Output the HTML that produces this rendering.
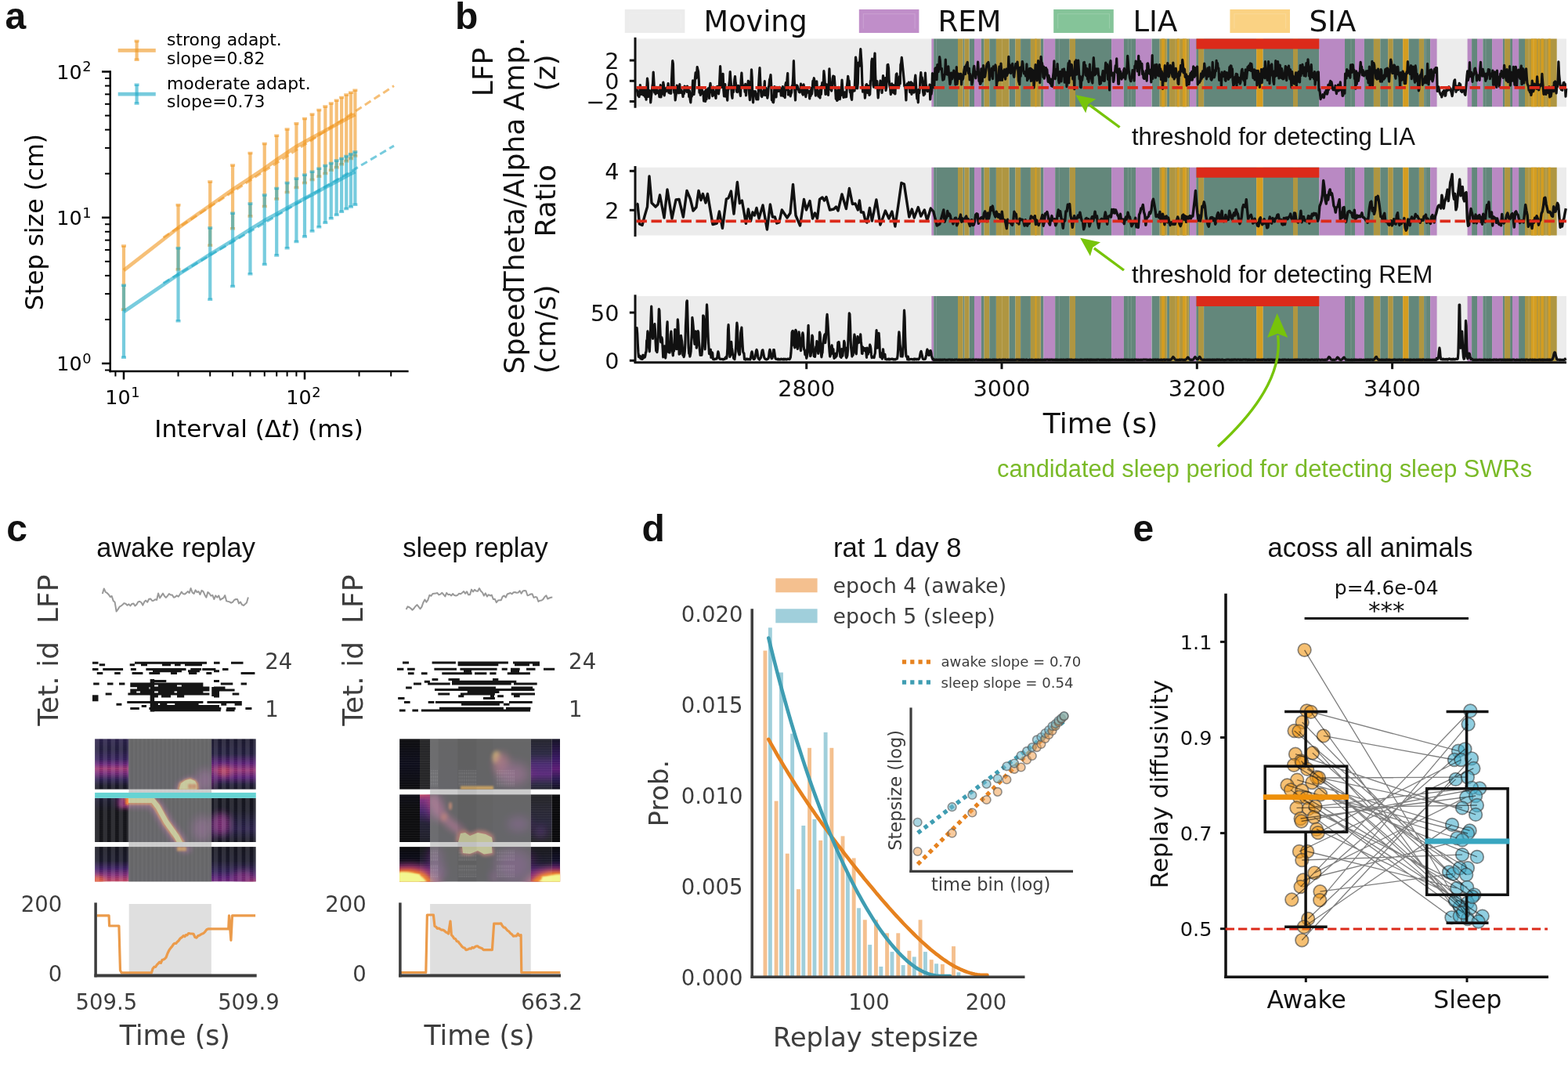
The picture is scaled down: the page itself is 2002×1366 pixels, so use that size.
<!DOCTYPE html>
<html><head><meta charset="utf-8"><title>Figure</title>
<style>html,body{margin:0;padding:0;background:#fff;}svg{display:block;}</style>
</head><body>
<svg width="2002" height="1366" viewBox="0 0 2002 1366"><defs><clipPath id="cp1"><rect x="121.1" y="943.2" width="205.70000000000002" height="64.59999999999991"/><rect x="121.1" y="1018.9" width="205.70000000000002" height="56.10000000000002"/><rect x="121.1" y="1081.1" width="205.70000000000002" height="44.5"/></clipPath><linearGradient id="vg2" x1="0" y1="0" x2="0" y2="1"><stop offset="0.000" stop-color="rgb(22,11,57)"/><stop offset="0.200" stop-color="rgb(15,9,45)"/><stop offset="0.400" stop-color="rgb(34,11,76)"/><stop offset="0.500" stop-color="rgb(90,17,109)"/><stop offset="0.590" stop-color="rgb(147,37,103)"/><stop offset="0.680" stop-color="rgb(106,23,110)"/><stop offset="0.800" stop-color="rgb(29,12,69)"/><stop offset="0.920" stop-color="rgb(4,3,22)"/><stop offset="1.000" stop-color="rgb(1,1,11)"/></linearGradient><linearGradient id="vg3" x1="0" y1="0" x2="0" y2="1"><stop offset="0.000" stop-color="rgb(9,6,33)"/><stop offset="0.100" stop-color="rgb(4,3,22)"/><stop offset="0.300" stop-color="rgb(0,0,6)"/><stop offset="1.000" stop-color="rgb(0,0,6)"/></linearGradient><linearGradient id="vg4" x1="0" y1="0" x2="0" y2="1"><stop offset="0.000" stop-color="rgb(1,1,11)"/><stop offset="0.400" stop-color="rgb(4,3,22)"/><stop offset="0.620" stop-color="rgb(43,10,86)"/><stop offset="0.800" stop-color="rgb(118,27,109)"/><stop offset="0.920" stop-color="rgb(167,45,95)"/><stop offset="1.000" stop-color="rgb(187,55,84)"/></linearGradient><linearGradient id="vg5" x1="0" y1="0" x2="0" y2="1"><stop offset="0.000" stop-color="rgb(0,0,3)"/><stop offset="1.000" stop-color="rgb(1,1,11)"/></linearGradient><linearGradient id="vg6" x1="0" y1="0" x2="0" y2="1"><stop offset="0.000" stop-color="rgb(0,0,3)"/><stop offset="1.000" stop-color="rgb(1,1,11)"/></linearGradient><linearGradient id="vg7" x1="0" y1="0" x2="0" y2="1"><stop offset="0.000" stop-color="rgb(0,0,3)"/><stop offset="1.000" stop-color="rgb(1,1,11)"/></linearGradient><linearGradient id="vg8" x1="0" y1="0" x2="0" y2="1"><stop offset="0.000" stop-color="rgb(6,4,27)"/><stop offset="0.300" stop-color="rgb(15,9,45)"/><stop offset="0.480" stop-color="rgb(74,11,106)"/><stop offset="0.620" stop-color="rgb(139,34,105)"/><stop offset="0.760" stop-color="rgb(74,11,106)"/><stop offset="0.900" stop-color="rgb(11,7,38)"/><stop offset="1.000" stop-color="rgb(2,2,16)"/></linearGradient><linearGradient id="vg9" x1="0" y1="0" x2="0" y2="1"><stop offset="0.000" stop-color="rgb(1,1,11)"/><stop offset="0.300" stop-color="rgb(2,2,16)"/><stop offset="0.550" stop-color="rgb(15,9,45)"/><stop offset="0.700" stop-color="rgb(22,11,57)"/><stop offset="0.850" stop-color="rgb(9,6,33)"/><stop offset="1.000" stop-color="rgb(1,1,11)"/></linearGradient><linearGradient id="vg10" x1="0" y1="0" x2="0" y2="1"><stop offset="0.000" stop-color="rgb(1,1,11)"/><stop offset="0.400" stop-color="rgb(4,3,22)"/><stop offset="0.700" stop-color="rgb(29,12,69)"/><stop offset="0.880" stop-color="rgb(74,11,106)"/><stop offset="1.000" stop-color="rgb(98,20,110)"/></linearGradient><filter id="bl11" x="-50%" y="-50%" width="200%" height="200%"><feGaussianBlur stdDeviation="3"/></filter><filter id="bl12" x="-50%" y="-50%" width="200%" height="200%"><feGaussianBlur stdDeviation="4"/></filter><filter id="bl13" x="-50%" y="-50%" width="200%" height="200%"><feGaussianBlur stdDeviation="3"/></filter><filter id="bl14" x="-50%" y="-50%" width="200%" height="200%"><feGaussianBlur stdDeviation="5"/></filter><filter id="bl15" x="-50%" y="-50%" width="200%" height="200%"><feGaussianBlur stdDeviation="5"/></filter><filter id="bl16" x="-50%" y="-50%" width="200%" height="200%"><feGaussianBlur stdDeviation="1.5"/></filter><filter id="bl17" x="-50%" y="-50%" width="200%" height="200%"><feGaussianBlur stdDeviation="0.8"/></filter><filter id="bl18" x="-50%" y="-50%" width="200%" height="200%"><feGaussianBlur stdDeviation="2"/></filter><filter id="bl19" x="-50%" y="-50%" width="200%" height="200%"><feGaussianBlur stdDeviation="6"/></filter><filter id="bl20" x="-50%" y="-50%" width="200%" height="200%"><feGaussianBlur stdDeviation="6"/></filter><filter id="bl21" x="-50%" y="-50%" width="200%" height="200%"><feGaussianBlur stdDeviation="3"/></filter><filter id="bl22" x="-50%" y="-50%" width="200%" height="200%"><feGaussianBlur stdDeviation="3"/></filter><filter id="bl23" x="-50%" y="-50%" width="200%" height="200%"><feGaussianBlur stdDeviation="0.8"/></filter><filter id="bl24" x="-50%" y="-50%" width="200%" height="200%"><feGaussianBlur stdDeviation="3"/></filter><filter id="bl25" x="-50%" y="-50%" width="200%" height="200%"><feGaussianBlur stdDeviation="1.0"/></filter><filter id="bl26" x="-50%" y="-50%" width="200%" height="200%"><feGaussianBlur stdDeviation="1"/></filter><filter id="bl27" x="-50%" y="-50%" width="200%" height="200%"><feGaussianBlur stdDeviation="0.8"/></filter><pattern id="pt28" x="121.39999999999999" y="0" width="10.1" height="2.6" patternUnits="userSpaceOnUse"><rect x="0" y="0" width="5.4" height="2.6" fill="rgba(255,255,255,0.11)"/><rect x="5.4" y="1.9" width="4.7" height="0.7" fill="rgba(0,0,0,0.16)"/></pattern><pattern id="ph29" x="0" y="0.5" width="10" height="3.1" patternUnits="userSpaceOnUse"><rect x="0" y="2.2" width="10" height="0.9" fill="rgba(255,255,255,0.05)"/></pattern><pattern id="vs30" x="164.4" y="0" width="5.3" height="10" patternUnits="userSpaceOnUse"><rect x="0" y="0" width="2.6" height="10" fill="rgba(255,255,255,0.035)"/></pattern><clipPath id="cp31"><rect x="510.1" y="943.2" width="205.0" height="64.59999999999991"/><rect x="510.1" y="1014.2" width="205.0" height="60.799999999999955"/><rect x="510.1" y="1081.1" width="205.0" height="44.5"/></clipPath><linearGradient id="vg32" x1="0" y1="0" x2="0" y2="1"><stop offset="0.000" stop-color="rgb(0,0,3)"/><stop offset="0.500" stop-color="rgb(2,2,16)"/><stop offset="1.000" stop-color="rgb(0,0,3)"/></linearGradient><linearGradient id="vg33" x1="0" y1="0" x2="0" y2="1"><stop offset="0.000" stop-color="rgb(0,0,3)"/><stop offset="1.000" stop-color="rgb(0,0,3)"/></linearGradient><linearGradient id="vg34" x1="0" y1="0" x2="0" y2="1"><stop offset="0.000" stop-color="rgb(1,1,11)"/><stop offset="0.300" stop-color="rgb(0,0,3)"/><stop offset="1.000" stop-color="rgb(0,0,3)"/></linearGradient><linearGradient id="vg35" x1="0" y1="0" x2="0" y2="1"><stop offset="0.000" stop-color="rgb(187,55,84)"/><stop offset="0.120" stop-color="rgb(106,23,110)"/><stop offset="0.350" stop-color="rgb(43,10,86)"/><stop offset="0.600" stop-color="rgb(6,4,27)"/><stop offset="1.000" stop-color="rgb(1,1,11)"/></linearGradient><linearGradient id="vg36" x1="0" y1="0" x2="0" y2="1"><stop offset="0.000" stop-color="rgb(0,0,3)"/><stop offset="0.400" stop-color="rgb(2,2,16)"/><stop offset="0.550" stop-color="rgb(22,11,57)"/><stop offset="0.700" stop-color="rgb(87,15,109)"/><stop offset="1.000" stop-color="rgb(126,30,108)"/></linearGradient><linearGradient id="vg37" x1="0" y1="0" x2="0" y2="1"><stop offset="0.000" stop-color="rgb(0,0,3)"/><stop offset="0.400" stop-color="rgb(4,3,22)"/><stop offset="0.600" stop-color="rgb(29,12,69)"/><stop offset="0.800" stop-color="rgb(87,15,109)"/><stop offset="1.000" stop-color="rgb(126,30,108)"/></linearGradient><linearGradient id="vg38" x1="0" y1="0" x2="0" y2="1"><stop offset="0.000" stop-color="rgb(0,0,3)"/><stop offset="1.000" stop-color="rgb(1,1,11)"/></linearGradient><linearGradient id="vg39" x1="0" y1="0" x2="0" y2="1"><stop offset="0.000" stop-color="rgb(0,0,3)"/><stop offset="1.000" stop-color="rgb(1,1,11)"/></linearGradient><linearGradient id="vg40" x1="0" y1="0" x2="0" y2="1"><stop offset="0.000" stop-color="rgb(0,0,3)"/><stop offset="1.000" stop-color="rgb(1,1,11)"/></linearGradient><linearGradient id="vg41" x1="0" y1="0" x2="0" y2="1"><stop offset="0.000" stop-color="rgb(1,1,11)"/><stop offset="0.300" stop-color="rgb(11,7,38)"/><stop offset="0.500" stop-color="rgb(46,10,90)"/><stop offset="0.700" stop-color="rgb(65,9,103)"/><stop offset="0.900" stop-color="rgb(11,7,38)"/><stop offset="1.000" stop-color="rgb(2,2,16)"/></linearGradient><linearGradient id="vg42" x1="0" y1="0" x2="0" y2="1"><stop offset="0.000" stop-color="rgb(4,3,22)"/><stop offset="0.400" stop-color="rgb(46,10,90)"/><stop offset="0.600" stop-color="rgb(82,14,108)"/><stop offset="0.800" stop-color="rgb(29,12,69)"/><stop offset="1.000" stop-color="rgb(2,2,16)"/></linearGradient><linearGradient id="vg43" x1="0" y1="0" x2="0" y2="1"><stop offset="0.000" stop-color="rgb(0,0,3)"/><stop offset="0.600" stop-color="rgb(6,4,27)"/><stop offset="1.000" stop-color="rgb(0,0,3)"/></linearGradient><linearGradient id="vg44" x1="0" y1="0" x2="0" y2="1"><stop offset="0.000" stop-color="rgb(0,0,3)"/><stop offset="1.000" stop-color="rgb(0,0,3)"/></linearGradient><linearGradient id="vg45" x1="0" y1="0" x2="0" y2="1"><stop offset="0.000" stop-color="rgb(0,0,3)"/><stop offset="0.450" stop-color="rgb(4,3,22)"/><stop offset="0.620" stop-color="rgb(29,12,69)"/><stop offset="0.800" stop-color="rgb(87,15,109)"/><stop offset="1.000" stop-color="rgb(126,30,108)"/></linearGradient><linearGradient id="vg46" x1="0" y1="0" x2="0" y2="1"><stop offset="0.000" stop-color="rgb(0,0,3)"/><stop offset="0.400" stop-color="rgb(9,6,33)"/><stop offset="0.600" stop-color="rgb(43,10,86)"/><stop offset="0.800" stop-color="rgb(98,20,110)"/><stop offset="1.000" stop-color="rgb(139,34,105)"/></linearGradient><filter id="bl47" x="-50%" y="-50%" width="200%" height="200%"><feGaussianBlur stdDeviation="2.5"/></filter><filter id="bl48" x="-50%" y="-50%" width="200%" height="200%"><feGaussianBlur stdDeviation="5"/></filter><filter id="bl49" x="-50%" y="-50%" width="200%" height="200%"><feGaussianBlur stdDeviation="7"/></filter><filter id="bl50" x="-50%" y="-50%" width="200%" height="200%"><feGaussianBlur stdDeviation="1.2"/></filter><filter id="bl51" x="-50%" y="-50%" width="200%" height="200%"><feGaussianBlur stdDeviation="6"/></filter><filter id="bl52" x="-50%" y="-50%" width="200%" height="200%"><feGaussianBlur stdDeviation="4"/></filter><filter id="bl53" x="-50%" y="-50%" width="200%" height="200%"><feGaussianBlur stdDeviation="1.5"/></filter><filter id="bl54" x="-50%" y="-50%" width="200%" height="200%"><feGaussianBlur stdDeviation="2.5"/></filter><filter id="bl55" x="-50%" y="-50%" width="200%" height="200%"><feGaussianBlur stdDeviation="2.5"/></filter><filter id="bl56" x="-50%" y="-50%" width="200%" height="200%"><feGaussianBlur stdDeviation="0.6"/></filter><filter id="bl57" x="-50%" y="-50%" width="200%" height="200%"><feGaussianBlur stdDeviation="2.2"/></filter><filter id="bl58" x="-50%" y="-50%" width="200%" height="200%"><feGaussianBlur stdDeviation="0.6"/></filter><filter id="bl59" x="-50%" y="-50%" width="200%" height="200%"><feGaussianBlur stdDeviation="6"/></filter><filter id="bl60" x="-50%" y="-50%" width="200%" height="200%"><feGaussianBlur stdDeviation="5"/></filter><filter id="bl61" x="-50%" y="-50%" width="200%" height="200%"><feGaussianBlur stdDeviation="6"/></filter><filter id="bl62" x="-50%" y="-50%" width="200%" height="200%"><feGaussianBlur stdDeviation="4"/></filter><filter id="bl63" x="-50%" y="-50%" width="200%" height="200%"><feGaussianBlur stdDeviation="2.5"/></filter><filter id="bl64" x="-50%" y="-50%" width="200%" height="200%"><feGaussianBlur stdDeviation="1.2"/></filter><filter id="bl65" x="-50%" y="-50%" width="200%" height="200%"><feGaussianBlur stdDeviation="1.0"/></filter><filter id="bl66" x="-50%" y="-50%" width="200%" height="200%"><feGaussianBlur stdDeviation="4"/></filter><filter id="bl67" x="-50%" y="-50%" width="200%" height="200%"><feGaussianBlur stdDeviation="2.5"/></filter><filter id="bl68" x="-50%" y="-50%" width="200%" height="200%"><feGaussianBlur stdDeviation="1.2"/></filter><filter id="bl69" x="-50%" y="-50%" width="200%" height="200%"><feGaussianBlur stdDeviation="1.0"/></filter><filter id="bl70" x="-50%" y="-50%" width="200%" height="200%"><feGaussianBlur stdDeviation="4"/></filter><filter id="bl71" x="-50%" y="-50%" width="200%" height="200%"><feGaussianBlur stdDeviation="8"/></filter><filter id="bl72" x="-50%" y="-50%" width="200%" height="200%"><feGaussianBlur stdDeviation="6"/></filter><pattern id="pt73" x="510.40000000000003" y="0" width="10.1" height="2.6" patternUnits="userSpaceOnUse"><rect x="0" y="0" width="5.4" height="2.6" fill="rgba(255,255,255,0.11)"/><rect x="5.4" y="1.9" width="4.7" height="0.7" fill="rgba(0,0,0,0.16)"/></pattern><pattern id="ph74" x="0" y="0.5" width="10" height="3.1" patternUnits="userSpaceOnUse"><rect x="0" y="2.2" width="10" height="0.9" fill="rgba(255,255,255,0.05)"/></pattern><pattern id="tx75" x="0" y="0" width="1.75" height="4.4" patternUnits="userSpaceOnUse"><rect x="0" y="0" width="0.75" height="3.4" fill="rgba(255,255,255,0.16)"/></pattern></defs>
<text x="6.50" y="36.50" font-family="'Liberation Sans', Arial, sans-serif" font-size="48" fill="#111" text-anchor="start" font-weight="bold" >a</text>
<line x1="140.75" y1="90.25" x2="140.75" y2="475.25" stroke="#000" stroke-width="2.5" />
<line x1="139.50" y1="474.00" x2="521.60" y2="474.00" stroke="#000" stroke-width="2.5" />
<line x1="130.00" y1="464.00" x2="140.75" y2="464.00" stroke="#000" stroke-width="2.5" />
<line x1="130.00" y1="277.75" x2="140.75" y2="277.75" stroke="#000" stroke-width="2.5" />
<line x1="130.00" y1="91.50" x2="140.75" y2="91.50" stroke="#000" stroke-width="2.5" />
<line x1="134.00" y1="472.52" x2="140.75" y2="472.52" stroke="#000" stroke-width="2" />
<line x1="134.00" y1="407.93" x2="140.75" y2="407.93" stroke="#000" stroke-width="2" />
<line x1="134.00" y1="375.14" x2="140.75" y2="375.14" stroke="#000" stroke-width="2" />
<line x1="134.00" y1="351.87" x2="140.75" y2="351.87" stroke="#000" stroke-width="2" />
<line x1="134.00" y1="333.82" x2="140.75" y2="333.82" stroke="#000" stroke-width="2" />
<line x1="134.00" y1="319.07" x2="140.75" y2="319.07" stroke="#000" stroke-width="2" />
<line x1="134.00" y1="306.60" x2="140.75" y2="306.60" stroke="#000" stroke-width="2" />
<line x1="134.00" y1="295.80" x2="140.75" y2="295.80" stroke="#000" stroke-width="2" />
<line x1="134.00" y1="286.27" x2="140.75" y2="286.27" stroke="#000" stroke-width="2" />
<line x1="134.00" y1="221.68" x2="140.75" y2="221.68" stroke="#000" stroke-width="2" />
<line x1="134.00" y1="188.89" x2="140.75" y2="188.89" stroke="#000" stroke-width="2" />
<line x1="134.00" y1="165.62" x2="140.75" y2="165.62" stroke="#000" stroke-width="2" />
<line x1="134.00" y1="147.57" x2="140.75" y2="147.57" stroke="#000" stroke-width="2" />
<line x1="134.00" y1="132.82" x2="140.75" y2="132.82" stroke="#000" stroke-width="2" />
<line x1="134.00" y1="120.35" x2="140.75" y2="120.35" stroke="#000" stroke-width="2" />
<line x1="134.00" y1="109.55" x2="140.75" y2="109.55" stroke="#000" stroke-width="2" />
<line x1="134.00" y1="100.02" x2="140.75" y2="100.02" stroke="#000" stroke-width="2" />
<line x1="158.00" y1="474.00" x2="158.00" y2="484.50" stroke="#000" stroke-width="2.5" />
<line x1="389.00" y1="474.00" x2="389.00" y2="484.50" stroke="#000" stroke-width="2.5" />
<line x1="147.43" y1="474.00" x2="147.43" y2="480.50" stroke="#000" stroke-width="2" />
<line x1="227.54" y1="474.00" x2="227.54" y2="480.50" stroke="#000" stroke-width="2" />
<line x1="268.22" y1="474.00" x2="268.22" y2="480.50" stroke="#000" stroke-width="2" />
<line x1="297.08" y1="474.00" x2="297.08" y2="480.50" stroke="#000" stroke-width="2" />
<line x1="319.46" y1="474.00" x2="319.46" y2="480.50" stroke="#000" stroke-width="2" />
<line x1="337.75" y1="474.00" x2="337.75" y2="480.50" stroke="#000" stroke-width="2" />
<line x1="353.22" y1="474.00" x2="353.22" y2="480.50" stroke="#000" stroke-width="2" />
<line x1="366.61" y1="474.00" x2="366.61" y2="480.50" stroke="#000" stroke-width="2" />
<line x1="378.43" y1="474.00" x2="378.43" y2="480.50" stroke="#000" stroke-width="2" />
<line x1="458.54" y1="474.00" x2="458.54" y2="480.50" stroke="#000" stroke-width="2" />
<line x1="499.22" y1="474.00" x2="499.22" y2="480.50" stroke="#000" stroke-width="2" />
<text x="104.60" y="100.75" font-family="'DejaVu Sans', sans-serif" font-size="25.4" fill="#000" text-anchor="end" font-weight="normal" >10</text>
<text x="105.20" y="91.30" font-family="'DejaVu Sans', sans-serif" font-size="17.8" fill="#000" text-anchor="start" font-weight="normal" >2</text>
<text x="104.60" y="287.00" font-family="'DejaVu Sans', sans-serif" font-size="25.4" fill="#000" text-anchor="end" font-weight="normal" >10</text>
<text x="105.20" y="277.55" font-family="'DejaVu Sans', sans-serif" font-size="17.8" fill="#000" text-anchor="start" font-weight="normal" >1</text>
<text x="104.60" y="473.25" font-family="'DejaVu Sans', sans-serif" font-size="25.4" fill="#000" text-anchor="end" font-weight="normal" >10</text>
<text x="105.20" y="463.80" font-family="'DejaVu Sans', sans-serif" font-size="17.8" fill="#000" text-anchor="start" font-weight="normal" >0</text>
<text x="166.60" y="516.00" font-family="'DejaVu Sans', sans-serif" font-size="25.4" fill="#000" text-anchor="end" font-weight="normal" >10</text>
<text x="167.20" y="506.50" font-family="'DejaVu Sans', sans-serif" font-size="17.8" fill="#000" text-anchor="start" font-weight="normal" >1</text>
<text x="397.60" y="516.00" font-family="'DejaVu Sans', sans-serif" font-size="25.4" fill="#000" text-anchor="end" font-weight="normal" >10</text>
<text x="398.20" y="506.50" font-family="'DejaVu Sans', sans-serif" font-size="17.8" fill="#000" text-anchor="start" font-weight="normal" >2</text>
<text x="54.80" y="283.60" font-family="'DejaVu Sans', sans-serif" font-size="31.5" fill="#000" text-anchor="middle" font-weight="normal" transform="rotate(-90 54.80 283.60)" >Step size (cm)</text>
<text x="330.5" y="558" font-family="'DejaVu Sans', sans-serif" font-size="31" fill="#000" text-anchor="middle">Interval (Δ<tspan font-style="italic">t</tspan>) (ms)</text>
<line x1="208.50" y1="303.20" x2="503.00" y2="109.60" stroke="rgb(240,150,30)" stroke-width="3" stroke-dasharray="9 5" opacity="0.6"/>
<polyline points="158.0,345.2 227.5,291.0 268.2,262.4 297.1,242.0 319.5,227.2 337.8,215.0 353.2,204.0 366.6,195.0 378.4,187.0 389.0,181.1 398.6,175.9 407.3,171.1 415.3,166.7 422.8,162.6 429.7,158.8 436.2,155.3 442.2,151.9 448.0,148.8 453.4,146.1" fill="none" stroke="rgb(240,150,30)" stroke-width="4.7" stroke-linejoin="round" opacity="0.6"/>
<path d="M158.00,314.10V395.30M227.54,261.80V343.90M268.22,232.00V313.20M297.08,211.10V291.80M319.46,195.60V276.10M337.75,183.50V263.40M353.22,173.20V253.90M366.61,165.00V245.50M378.43,157.70V239.50M389.00,151.50V233.60M398.56,146.10V229.50M407.29,140.60V225.20M415.32,136.00V221.40M422.76,132.00V217.30M429.68,128.20V213.80M436.15,124.40V209.70M442.23,121.10V205.70M447.97,118.20V202.40M453.39,115.20V198.90" stroke="rgb(240,150,30)" stroke-width="4.2" fill="none" opacity="0.6"/>
<path d="M155.00,314.10H161.00M155.00,395.30H161.00M224.54,261.80H230.54M224.54,343.90H230.54M265.22,232.00H271.22M265.22,313.20H271.22M294.08,211.10H300.08M294.08,291.80H300.08M316.46,195.60H322.46M316.46,276.10H322.46M334.75,183.50H340.75M334.75,263.40H340.75M350.22,173.20H356.22M350.22,253.90H356.22M363.61,165.00H369.61M363.61,245.50H369.61M375.43,157.70H381.43M375.43,239.50H381.43M386.00,151.50H392.00M386.00,233.60H392.00M395.56,146.10H401.56M395.56,229.50H401.56M404.29,140.60H410.29M404.29,225.20H410.29M412.32,136.00H418.32M412.32,221.40H418.32M419.76,132.00H425.76M419.76,217.30H425.76M426.68,128.20H432.68M426.68,213.80H432.68M433.15,124.40H439.15M433.15,209.70H439.15M439.23,121.10H445.23M439.23,205.70H445.23M444.97,118.20H450.97M444.97,202.40H450.97M450.39,115.20H456.39M450.39,198.90H456.39" stroke="rgb(240,150,30)" stroke-width="3.5" fill="none" opacity="0.6"/>
<line x1="208.50" y1="361.50" x2="503.00" y2="186.10" stroke="rgb(30,170,200)" stroke-width="3" stroke-dasharray="9 5" opacity="0.6"/>
<polyline points="158.0,398.0 227.5,350.6 268.2,324.7 297.1,307.0 319.5,292.7 337.8,281.4 353.2,273.1 366.6,265.5 378.4,259.1 389.0,253.4 398.6,248.3 407.3,243.6 415.3,239.3 422.8,235.4 429.7,231.6 436.2,228.2 442.2,224.9 448.0,221.8 453.4,219.2" fill="none" stroke="rgb(30,170,200)" stroke-width="4.7" stroke-linejoin="round" opacity="0.6"/>
<path d="M158.00,364.20V456.30M227.54,316.80V409.70M268.22,291.00V382.30M297.08,272.30V365.50M319.46,259.90V349.80M337.75,249.00V337.40M353.22,240.40V326.00M366.61,233.60V316.80M378.43,227.90V308.60M389.00,223.30V301.90M398.56,219.20V295.10M407.29,215.20V289.70M415.32,211.60V284.30M422.76,208.40V278.80M429.68,205.10V274.20M436.15,202.40V270.20M442.23,199.40V266.60M447.97,196.70V263.90M453.39,194.00V261.20" stroke="rgb(30,170,200)" stroke-width="4.2" fill="none" opacity="0.6"/>
<path d="M155.00,364.20H161.00M155.00,456.30H161.00M224.54,316.80H230.54M224.54,409.70H230.54M265.22,291.00H271.22M265.22,382.30H271.22M294.08,272.30H300.08M294.08,365.50H300.08M316.46,259.90H322.46M316.46,349.80H322.46M334.75,249.00H340.75M334.75,337.40H340.75M350.22,240.40H356.22M350.22,326.00H356.22M363.61,233.60H369.61M363.61,316.80H369.61M375.43,227.90H381.43M375.43,308.60H381.43M386.00,223.30H392.00M386.00,301.90H392.00M395.56,219.20H401.56M395.56,295.10H401.56M404.29,215.20H410.29M404.29,289.70H410.29M412.32,211.60H418.32M412.32,284.30H418.32M419.76,208.40H425.76M419.76,278.80H425.76M426.68,205.10H432.68M426.68,274.20H432.68M433.15,202.40H439.15M433.15,270.20H439.15M439.23,199.40H445.23M439.23,266.60H445.23M444.97,196.70H450.97M444.97,263.90H450.97M450.39,194.00H456.39M450.39,261.20H456.39" stroke="rgb(30,170,200)" stroke-width="3.5" fill="none" opacity="0.6"/>
<line x1="150.70" y1="64.40" x2="198.80" y2="64.40" stroke="rgb(240,150,30)" stroke-width="4.7" opacity="0.6"/>
<line x1="174.60" y1="52.60" x2="174.60" y2="76.20" stroke="rgb(240,150,30)" stroke-width="4.2" opacity="0.6"/>
<path d="M171.6,52.60H177.6M171.6,76.20H177.6" stroke="rgb(240,150,30)" stroke-width="3.5" fill="none" opacity="0.6"/>
<line x1="150.70" y1="120.10" x2="198.80" y2="120.10" stroke="rgb(30,170,200)" stroke-width="4.7" opacity="0.6"/>
<line x1="174.60" y1="108.30" x2="174.60" y2="131.90" stroke="rgb(30,170,200)" stroke-width="4.2" opacity="0.6"/>
<path d="M171.6,108.30H177.6M171.6,131.90H177.6" stroke="rgb(30,170,200)" stroke-width="3.5" fill="none" opacity="0.6"/>
<text x="213.00" y="58.20" font-family="'DejaVu Sans', sans-serif" font-size="21.9" fill="#000" text-anchor="start" font-weight="normal" >strong adapt.</text>
<text x="213.00" y="81.70" font-family="'DejaVu Sans', sans-serif" font-size="21.9" fill="#000" text-anchor="start" font-weight="normal" >slope=0.82</text>
<text x="213.00" y="113.80" font-family="'DejaVu Sans', sans-serif" font-size="21.9" fill="#000" text-anchor="start" font-weight="normal" >moderate adapt.</text>
<text x="213.00" y="137.30" font-family="'DejaVu Sans', sans-serif" font-size="21.9" fill="#000" text-anchor="start" font-weight="normal" >slope=0.73</text>
<text x="581.00" y="37.00" font-family="'Liberation Sans', Arial, sans-serif" font-size="48" fill="#111" text-anchor="start" font-weight="bold" >b</text>
<rect x="797.80" y="12.00" width="76.60" height="30.00" fill="#ececec" />
<path d="M803.3,36.5V17.8H869.1V36.5" stroke="rgba(255,255,255,0.17)" stroke-width="1.1" fill="none" />
<text x="898.60" y="39.90" font-family="'DejaVu Sans', sans-serif" font-size="36.6" fill="#111" text-anchor="start" font-weight="normal" >Moving</text>
<rect x="1096.80" y="12.00" width="76.60" height="30.00" fill="#c08ec9" />
<path d="M1102.3,36.5V17.8H1168.1V36.5" stroke="rgba(255,255,255,0.17)" stroke-width="1.1" fill="none" />
<text x="1197.50" y="39.90" font-family="'DejaVu Sans', sans-serif" font-size="37" fill="#111" text-anchor="start" font-weight="normal" >REM</text>
<rect x="1345.20" y="12.00" width="76.60" height="30.00" fill="#85c499" />
<path d="M1350.7,36.5V17.8H1416.5V36.5" stroke="rgba(255,255,255,0.17)" stroke-width="1.1" fill="none" />
<text x="1446.50" y="39.90" font-family="'DejaVu Sans', sans-serif" font-size="37" fill="#111" text-anchor="start" font-weight="normal" >LIA</text>
<rect x="1570.40" y="12.00" width="76.60" height="30.00" fill="#fad283" />
<path d="M1575.9,36.5V17.8H1641.7V36.5" stroke="rgba(255,255,255,0.17)" stroke-width="1.1" fill="none" />
<text x="1671.50" y="39.90" font-family="'DejaVu Sans', sans-serif" font-size="37" fill="#111" text-anchor="start" font-weight="normal" >SIA</text>
<rect x="811.00" y="49.50" width="1189.00" height="86.75" fill="#ececec" />
<rect x="1189.40" y="49.50" width="2.80" height="86.75" fill="#b989c3" />
<rect x="1192.20" y="49.50" width="30.80" height="86.75" fill="#63877b" />
<rect x="1223.00" y="49.50" width="6.70" height="86.75" fill="#af9641" />
<rect x="1229.70" y="49.50" width="1.70" height="86.75" fill="#63877b" />
<rect x="1231.40" y="49.50" width="6.30" height="86.75" fill="#af9641" />
<rect x="1237.70" y="49.50" width="6.30" height="86.75" fill="#63877b" />
<rect x="1244.00" y="49.50" width="8.80" height="86.75" fill="#b989c3" />
<rect x="1252.80" y="49.50" width="3.80" height="86.75" fill="#63877b" />
<rect x="1256.60" y="49.50" width="6.70" height="86.75" fill="#af9641" />
<rect x="1263.30" y="49.50" width="8.60" height="86.75" fill="#63877b" />
<rect x="1271.90" y="49.50" width="16.80" height="86.75" fill="#af9641" />
<rect x="1288.70" y="49.50" width="7.70" height="86.75" fill="#63877b" />
<rect x="1296.40" y="49.50" width="6.70" height="86.75" fill="#af9641" />
<rect x="1303.10" y="49.50" width="12.80" height="86.75" fill="#63877b" />
<rect x="1315.90" y="49.50" width="13.00" height="86.75" fill="#af9641" />
<rect x="1321.50" y="49.50" width="2.00" height="86.75" fill="#d49d20" />
<rect x="1328.90" y="49.50" width="3.60" height="86.75" fill="#63877b" />
<rect x="1332.50" y="49.50" width="14.70" height="86.75" fill="#b989c3" />
<rect x="1347.20" y="49.50" width="18.50" height="86.75" fill="#63877b" />
<rect x="1365.70" y="49.50" width="7.30" height="86.75" fill="#af9641" />
<rect x="1373.00" y="49.50" width="46.10" height="86.75" fill="#63877b" />
<rect x="1419.10" y="49.50" width="15.80" height="86.75" fill="#b989c3" />
<rect x="1434.90" y="49.50" width="15.10" height="86.75" fill="#63877b" />
<rect x="1450.00" y="49.50" width="20.50" height="86.75" fill="#b989c3" />
<rect x="1470.50" y="49.50" width="10.20" height="86.75" fill="#63877b" />
<rect x="1480.70" y="49.50" width="9.20" height="86.75" fill="#af9641" />
<rect x="1483.10" y="49.50" width="4.00" height="86.75" fill="#d49d20" />
<rect x="1489.90" y="49.50" width="3.20" height="86.75" fill="#63877b" />
<rect x="1493.10" y="49.50" width="25.00" height="86.75" fill="#af9641" />
<rect x="1502.90" y="49.50" width="2.90" height="86.75" fill="#d49d20" />
<rect x="1509.90" y="49.50" width="5.00" height="86.75" fill="#d49d20" />
<rect x="1518.10" y="49.50" width="0.90" height="86.75" fill="#63877b" />
<rect x="1519.00" y="49.50" width="8.30" height="86.75" fill="#b989c3" />
<rect x="1527.30" y="49.50" width="2.70" height="86.75" fill="#63877b" />
<rect x="1530.00" y="49.50" width="7.00" height="86.75" fill="#af9641" />
<rect x="1537.00" y="49.50" width="67.20" height="86.75" fill="#63877b" />
<rect x="1604.20" y="49.50" width="8.50" height="86.75" fill="#d49d20" />
<rect x="1612.70" y="49.50" width="38.30" height="86.75" fill="#63877b" />
<rect x="1651.00" y="49.50" width="6.00" height="86.75" fill="#af9641" />
<rect x="1657.00" y="49.50" width="27.30" height="86.75" fill="#63877b" />
<rect x="1684.30" y="49.50" width="32.70" height="86.75" fill="#b989c3" />
<rect x="1717.00" y="49.50" width="13.00" height="86.75" fill="#63877b" />
<rect x="1730.00" y="49.50" width="11.90" height="86.75" fill="#b989c3" />
<rect x="1741.90" y="49.50" width="12.00" height="86.75" fill="#63877b" />
<rect x="1753.90" y="49.50" width="8.40" height="86.75" fill="#af9641" />
<rect x="1762.30" y="49.50" width="9.90" height="86.75" fill="#63877b" />
<rect x="1772.20" y="49.50" width="6.60" height="86.75" fill="#af9641" />
<rect x="1778.80" y="49.50" width="12.40" height="86.75" fill="#63877b" />
<rect x="1791.20" y="49.50" width="7.40" height="86.75" fill="#d49d20" />
<rect x="1798.60" y="49.50" width="13.30" height="86.75" fill="#63877b" />
<rect x="1811.90" y="49.50" width="6.30" height="86.75" fill="#af9641" />
<rect x="1818.20" y="49.50" width="8.00" height="86.75" fill="#63877b" />
<rect x="1826.20" y="49.50" width="8.40" height="86.75" fill="#b989c3" />
<rect x="1873.60" y="49.50" width="5.50" height="86.75" fill="#b989c3" />
<rect x="1879.10" y="49.50" width="6.90" height="86.75" fill="#63877b" />
<rect x="1886.00" y="49.50" width="7.40" height="86.75" fill="#b989c3" />
<rect x="1893.40" y="49.50" width="11.70" height="86.75" fill="#63877b" />
<rect x="1905.10" y="49.50" width="13.70" height="86.75" fill="#b989c3" />
<rect x="1918.80" y="49.50" width="2.30" height="86.75" fill="#63877b" />
<rect x="1921.10" y="49.50" width="7.00" height="86.75" fill="#af9641" />
<rect x="1928.10" y="49.50" width="2.90" height="86.75" fill="#63877b" />
<rect x="1931.00" y="49.50" width="8.10" height="86.75" fill="#b989c3" />
<rect x="1939.10" y="49.50" width="7.90" height="86.75" fill="#63877b" />
<rect x="1947.00" y="49.50" width="40.70" height="86.75" fill="#af9641" />
<rect x="1955.00" y="49.50" width="7.20" height="86.75" fill="#d49d20" />
<rect x="1963.70" y="49.50" width="2.20" height="86.75" fill="#d49d20" />
<rect x="1967.60" y="49.50" width="3.30" height="86.75" fill="#d49d20" />
<rect x="1976.80" y="49.50" width="3.00" height="86.75" fill="#d49d20" />
<path d="M1195.5,49.5V136.2M1237.4,49.5V136.2M1279.4,49.5V136.2M1288.3,49.5V136.2M1328.2,49.5V136.2M1352.3,49.5V136.2M1440.3,49.5V136.2M1444.3,49.5V136.2M1470.5,49.5V136.2M1490.0,49.5V136.2M1501.0,49.5V136.2M1506.0,49.5V136.2M1514.0,49.5V136.2M1517.7,49.5V136.2M1537.1,49.5V136.2M1725.0,49.5V136.2M1820.4,49.5V136.2M1897.0,49.5V136.2M1952.0,49.5V136.2M1958.0,49.5V136.2M1974.0,49.5V136.2" stroke="rgba(255,255,255,0.17)" stroke-width="0.9" fill="none" />
<rect x="811.00" y="213.75" width="1189.00" height="86.75" fill="#ececec" />
<rect x="1189.40" y="213.75" width="2.80" height="86.75" fill="#b989c3" />
<rect x="1192.20" y="213.75" width="30.80" height="86.75" fill="#63877b" />
<rect x="1223.00" y="213.75" width="6.70" height="86.75" fill="#af9641" />
<rect x="1229.70" y="213.75" width="1.70" height="86.75" fill="#63877b" />
<rect x="1231.40" y="213.75" width="6.30" height="86.75" fill="#af9641" />
<rect x="1237.70" y="213.75" width="6.30" height="86.75" fill="#63877b" />
<rect x="1244.00" y="213.75" width="8.80" height="86.75" fill="#b989c3" />
<rect x="1252.80" y="213.75" width="3.80" height="86.75" fill="#63877b" />
<rect x="1256.60" y="213.75" width="6.70" height="86.75" fill="#af9641" />
<rect x="1263.30" y="213.75" width="8.60" height="86.75" fill="#63877b" />
<rect x="1271.90" y="213.75" width="16.80" height="86.75" fill="#af9641" />
<rect x="1288.70" y="213.75" width="7.70" height="86.75" fill="#63877b" />
<rect x="1296.40" y="213.75" width="6.70" height="86.75" fill="#af9641" />
<rect x="1303.10" y="213.75" width="12.80" height="86.75" fill="#63877b" />
<rect x="1315.90" y="213.75" width="13.00" height="86.75" fill="#af9641" />
<rect x="1321.50" y="213.75" width="2.00" height="86.75" fill="#d49d20" />
<rect x="1328.90" y="213.75" width="3.60" height="86.75" fill="#63877b" />
<rect x="1332.50" y="213.75" width="14.70" height="86.75" fill="#b989c3" />
<rect x="1347.20" y="213.75" width="18.50" height="86.75" fill="#63877b" />
<rect x="1365.70" y="213.75" width="7.30" height="86.75" fill="#af9641" />
<rect x="1373.00" y="213.75" width="46.10" height="86.75" fill="#63877b" />
<rect x="1419.10" y="213.75" width="15.80" height="86.75" fill="#b989c3" />
<rect x="1434.90" y="213.75" width="15.10" height="86.75" fill="#63877b" />
<rect x="1450.00" y="213.75" width="20.50" height="86.75" fill="#b989c3" />
<rect x="1470.50" y="213.75" width="10.20" height="86.75" fill="#63877b" />
<rect x="1480.70" y="213.75" width="9.20" height="86.75" fill="#af9641" />
<rect x="1483.10" y="213.75" width="4.00" height="86.75" fill="#d49d20" />
<rect x="1489.90" y="213.75" width="3.20" height="86.75" fill="#63877b" />
<rect x="1493.10" y="213.75" width="25.00" height="86.75" fill="#af9641" />
<rect x="1502.90" y="213.75" width="2.90" height="86.75" fill="#d49d20" />
<rect x="1509.90" y="213.75" width="5.00" height="86.75" fill="#d49d20" />
<rect x="1518.10" y="213.75" width="0.90" height="86.75" fill="#63877b" />
<rect x="1519.00" y="213.75" width="8.30" height="86.75" fill="#b989c3" />
<rect x="1527.30" y="213.75" width="2.70" height="86.75" fill="#63877b" />
<rect x="1530.00" y="213.75" width="7.00" height="86.75" fill="#af9641" />
<rect x="1537.00" y="213.75" width="67.20" height="86.75" fill="#63877b" />
<rect x="1604.20" y="213.75" width="8.50" height="86.75" fill="#d49d20" />
<rect x="1612.70" y="213.75" width="38.30" height="86.75" fill="#63877b" />
<rect x="1651.00" y="213.75" width="6.00" height="86.75" fill="#af9641" />
<rect x="1657.00" y="213.75" width="27.30" height="86.75" fill="#63877b" />
<rect x="1684.30" y="213.75" width="32.70" height="86.75" fill="#b989c3" />
<rect x="1717.00" y="213.75" width="13.00" height="86.75" fill="#63877b" />
<rect x="1730.00" y="213.75" width="11.90" height="86.75" fill="#b989c3" />
<rect x="1741.90" y="213.75" width="12.00" height="86.75" fill="#63877b" />
<rect x="1753.90" y="213.75" width="8.40" height="86.75" fill="#af9641" />
<rect x="1762.30" y="213.75" width="9.90" height="86.75" fill="#63877b" />
<rect x="1772.20" y="213.75" width="6.60" height="86.75" fill="#af9641" />
<rect x="1778.80" y="213.75" width="12.40" height="86.75" fill="#63877b" />
<rect x="1791.20" y="213.75" width="7.40" height="86.75" fill="#d49d20" />
<rect x="1798.60" y="213.75" width="13.30" height="86.75" fill="#63877b" />
<rect x="1811.90" y="213.75" width="6.30" height="86.75" fill="#af9641" />
<rect x="1818.20" y="213.75" width="8.00" height="86.75" fill="#63877b" />
<rect x="1826.20" y="213.75" width="8.40" height="86.75" fill="#b989c3" />
<rect x="1873.60" y="213.75" width="5.50" height="86.75" fill="#b989c3" />
<rect x="1879.10" y="213.75" width="6.90" height="86.75" fill="#63877b" />
<rect x="1886.00" y="213.75" width="7.40" height="86.75" fill="#b989c3" />
<rect x="1893.40" y="213.75" width="11.70" height="86.75" fill="#63877b" />
<rect x="1905.10" y="213.75" width="13.70" height="86.75" fill="#b989c3" />
<rect x="1918.80" y="213.75" width="2.30" height="86.75" fill="#63877b" />
<rect x="1921.10" y="213.75" width="7.00" height="86.75" fill="#af9641" />
<rect x="1928.10" y="213.75" width="2.90" height="86.75" fill="#63877b" />
<rect x="1931.00" y="213.75" width="8.10" height="86.75" fill="#b989c3" />
<rect x="1939.10" y="213.75" width="7.90" height="86.75" fill="#63877b" />
<rect x="1947.00" y="213.75" width="40.70" height="86.75" fill="#af9641" />
<rect x="1955.00" y="213.75" width="7.20" height="86.75" fill="#d49d20" />
<rect x="1963.70" y="213.75" width="2.20" height="86.75" fill="#d49d20" />
<rect x="1967.60" y="213.75" width="3.30" height="86.75" fill="#d49d20" />
<rect x="1976.80" y="213.75" width="3.00" height="86.75" fill="#d49d20" />
<path d="M1195.5,213.8V300.5M1237.4,213.8V300.5M1279.4,213.8V300.5M1288.3,213.8V300.5M1328.2,213.8V300.5M1352.3,213.8V300.5M1440.3,213.8V300.5M1444.3,213.8V300.5M1470.5,213.8V300.5M1490.0,213.8V300.5M1501.0,213.8V300.5M1506.0,213.8V300.5M1514.0,213.8V300.5M1517.7,213.8V300.5M1537.1,213.8V300.5M1725.0,213.8V300.5M1820.4,213.8V300.5M1897.0,213.8V300.5M1952.0,213.8V300.5M1958.0,213.8V300.5M1974.0,213.8V300.5" stroke="rgba(255,255,255,0.17)" stroke-width="0.9" fill="none" />
<rect x="811.00" y="378.00" width="1189.00" height="83.50" fill="#ececec" />
<rect x="1189.40" y="378.00" width="2.80" height="83.50" fill="#b989c3" />
<rect x="1192.20" y="378.00" width="30.80" height="83.50" fill="#63877b" />
<rect x="1223.00" y="378.00" width="6.70" height="83.50" fill="#af9641" />
<rect x="1229.70" y="378.00" width="1.70" height="83.50" fill="#63877b" />
<rect x="1231.40" y="378.00" width="6.30" height="83.50" fill="#af9641" />
<rect x="1237.70" y="378.00" width="6.30" height="83.50" fill="#63877b" />
<rect x="1244.00" y="378.00" width="8.80" height="83.50" fill="#b989c3" />
<rect x="1252.80" y="378.00" width="3.80" height="83.50" fill="#63877b" />
<rect x="1256.60" y="378.00" width="6.70" height="83.50" fill="#af9641" />
<rect x="1263.30" y="378.00" width="8.60" height="83.50" fill="#63877b" />
<rect x="1271.90" y="378.00" width="16.80" height="83.50" fill="#af9641" />
<rect x="1288.70" y="378.00" width="7.70" height="83.50" fill="#63877b" />
<rect x="1296.40" y="378.00" width="6.70" height="83.50" fill="#af9641" />
<rect x="1303.10" y="378.00" width="12.80" height="83.50" fill="#63877b" />
<rect x="1315.90" y="378.00" width="13.00" height="83.50" fill="#af9641" />
<rect x="1321.50" y="378.00" width="2.00" height="83.50" fill="#d49d20" />
<rect x="1328.90" y="378.00" width="3.60" height="83.50" fill="#63877b" />
<rect x="1332.50" y="378.00" width="14.70" height="83.50" fill="#b989c3" />
<rect x="1347.20" y="378.00" width="18.50" height="83.50" fill="#63877b" />
<rect x="1365.70" y="378.00" width="7.30" height="83.50" fill="#af9641" />
<rect x="1373.00" y="378.00" width="46.10" height="83.50" fill="#63877b" />
<rect x="1419.10" y="378.00" width="15.80" height="83.50" fill="#b989c3" />
<rect x="1434.90" y="378.00" width="15.10" height="83.50" fill="#63877b" />
<rect x="1450.00" y="378.00" width="20.50" height="83.50" fill="#b989c3" />
<rect x="1470.50" y="378.00" width="10.20" height="83.50" fill="#63877b" />
<rect x="1480.70" y="378.00" width="9.20" height="83.50" fill="#af9641" />
<rect x="1483.10" y="378.00" width="4.00" height="83.50" fill="#d49d20" />
<rect x="1489.90" y="378.00" width="3.20" height="83.50" fill="#63877b" />
<rect x="1493.10" y="378.00" width="25.00" height="83.50" fill="#af9641" />
<rect x="1502.90" y="378.00" width="2.90" height="83.50" fill="#d49d20" />
<rect x="1509.90" y="378.00" width="5.00" height="83.50" fill="#d49d20" />
<rect x="1518.10" y="378.00" width="0.90" height="83.50" fill="#63877b" />
<rect x="1519.00" y="378.00" width="8.30" height="83.50" fill="#b989c3" />
<rect x="1527.30" y="378.00" width="2.70" height="83.50" fill="#63877b" />
<rect x="1530.00" y="378.00" width="7.00" height="83.50" fill="#af9641" />
<rect x="1537.00" y="378.00" width="67.20" height="83.50" fill="#63877b" />
<rect x="1604.20" y="378.00" width="8.50" height="83.50" fill="#d49d20" />
<rect x="1612.70" y="378.00" width="38.30" height="83.50" fill="#63877b" />
<rect x="1651.00" y="378.00" width="6.00" height="83.50" fill="#af9641" />
<rect x="1657.00" y="378.00" width="27.30" height="83.50" fill="#63877b" />
<rect x="1684.30" y="378.00" width="32.70" height="83.50" fill="#b989c3" />
<rect x="1717.00" y="378.00" width="13.00" height="83.50" fill="#63877b" />
<rect x="1730.00" y="378.00" width="11.90" height="83.50" fill="#b989c3" />
<rect x="1741.90" y="378.00" width="12.00" height="83.50" fill="#63877b" />
<rect x="1753.90" y="378.00" width="8.40" height="83.50" fill="#af9641" />
<rect x="1762.30" y="378.00" width="9.90" height="83.50" fill="#63877b" />
<rect x="1772.20" y="378.00" width="6.60" height="83.50" fill="#af9641" />
<rect x="1778.80" y="378.00" width="12.40" height="83.50" fill="#63877b" />
<rect x="1791.20" y="378.00" width="7.40" height="83.50" fill="#d49d20" />
<rect x="1798.60" y="378.00" width="13.30" height="83.50" fill="#63877b" />
<rect x="1811.90" y="378.00" width="6.30" height="83.50" fill="#af9641" />
<rect x="1818.20" y="378.00" width="8.00" height="83.50" fill="#63877b" />
<rect x="1826.20" y="378.00" width="8.40" height="83.50" fill="#b989c3" />
<rect x="1873.60" y="378.00" width="5.50" height="83.50" fill="#b989c3" />
<rect x="1879.10" y="378.00" width="6.90" height="83.50" fill="#63877b" />
<rect x="1886.00" y="378.00" width="7.40" height="83.50" fill="#b989c3" />
<rect x="1893.40" y="378.00" width="11.70" height="83.50" fill="#63877b" />
<rect x="1905.10" y="378.00" width="13.70" height="83.50" fill="#b989c3" />
<rect x="1918.80" y="378.00" width="2.30" height="83.50" fill="#63877b" />
<rect x="1921.10" y="378.00" width="7.00" height="83.50" fill="#af9641" />
<rect x="1928.10" y="378.00" width="2.90" height="83.50" fill="#63877b" />
<rect x="1931.00" y="378.00" width="8.10" height="83.50" fill="#b989c3" />
<rect x="1939.10" y="378.00" width="7.90" height="83.50" fill="#63877b" />
<rect x="1947.00" y="378.00" width="40.70" height="83.50" fill="#af9641" />
<rect x="1955.00" y="378.00" width="7.20" height="83.50" fill="#d49d20" />
<rect x="1963.70" y="378.00" width="2.20" height="83.50" fill="#d49d20" />
<rect x="1967.60" y="378.00" width="3.30" height="83.50" fill="#d49d20" />
<rect x="1976.80" y="378.00" width="3.00" height="83.50" fill="#d49d20" />
<path d="M1195.5,378.0V461.5M1237.4,378.0V461.5M1279.4,378.0V461.5M1288.3,378.0V461.5M1328.2,378.0V461.5M1352.3,378.0V461.5M1440.3,378.0V461.5M1444.3,378.0V461.5M1470.5,378.0V461.5M1490.0,378.0V461.5M1501.0,378.0V461.5M1506.0,378.0V461.5M1514.0,378.0V461.5M1517.7,378.0V461.5M1537.1,378.0V461.5M1725.0,378.0V461.5M1820.4,378.0V461.5M1897.0,378.0V461.5M1952.0,378.0V461.5M1958.0,378.0V461.5M1974.0,378.0V461.5" stroke="rgba(255,255,255,0.17)" stroke-width="0.9" fill="none" />
<rect x="1527.50" y="49.50" width="156.80" height="13.00" fill="#dc2a1a" />
<rect x="1527.50" y="213.75" width="156.80" height="13.00" fill="#dc2a1a" />
<rect x="1527.50" y="378.00" width="156.80" height="13.00" fill="#dc2a1a" />
<polyline points="812.5,116.4 813.2,114.6 813.9,117.6 814.6,122.1 815.3,120.6 816.0,123.5 816.7,117.8 817.4,108.6 818.1,117.5 818.8,120.4 819.5,114.4 820.2,113.7 820.9,115.1 821.6,121.7 822.3,117.9 823.0,112.5 823.7,123.6 824.4,120.9 825.1,127.2 825.8,112.3 826.5,100.1 827.2,106.2 827.9,123.4 828.6,116.9 829.3,115.6 830.0,117.3 830.7,130.8 831.4,123.5 832.1,117.9 832.8,111.1 833.5,106.6 834.2,92.0 834.9,104.6 835.6,118.0 836.3,111.0 837.0,120.1 837.7,117.5 838.4,111.3 839.1,118.7 839.8,117.6 840.5,116.0 841.2,115.9 841.9,123.7 842.6,117.7 843.3,108.5 844.0,123.9 844.7,113.0 845.4,114.8 846.1,119.9 846.8,105.1 847.5,109.0 848.2,121.9 848.9,117.3 849.6,113.1 850.3,116.7 851.0,112.3 851.7,115.8 852.4,112.2 853.1,106.6 853.8,118.1 854.5,115.6 855.2,118.9 855.9,115.4 856.6,119.3 857.3,108.1 858.0,91.9 858.7,77.6 859.4,81.3 860.1,108.9 860.8,118.4 861.5,113.1 862.2,127.8 862.9,122.1 863.6,118.4 864.3,109.2 865.0,110.4 865.7,116.9 866.4,118.8 867.1,118.5 867.8,107.6 868.5,116.8 869.2,118.4 869.9,114.7 870.6,116.7 871.3,117.7 872.0,123.5 872.7,118.2 873.4,119.6 874.1,110.1 874.8,110.9 875.5,115.2 876.2,112.0 876.9,117.4 877.6,110.2 878.3,114.9 879.0,112.5 879.7,123.3 880.4,116.0 881.1,126.6 881.8,130.8 882.5,121.9 883.2,123.2 883.9,117.1 884.6,102.9 885.3,118.1 886.0,120.5 886.7,113.8 887.4,100.2 888.1,92.8 888.8,100.0 889.5,96.1 890.2,85.6 890.9,88.7 891.6,91.6 892.3,102.7 893.0,118.2 893.7,115.4 894.4,121.5 895.1,111.8 895.8,114.1 896.5,115.3 897.2,119.7 897.9,117.9 898.6,129.0 899.3,126.4 900.0,116.7 900.7,129.4 901.4,114.5 902.1,126.6 902.8,114.3 903.5,121.0 904.2,112.8 904.9,114.7 905.6,125.3 906.3,111.0 907.0,106.3 907.7,114.3 908.4,117.6 909.1,117.7 909.8,122.7 910.5,111.2 911.2,118.4 911.9,117.2 912.6,121.4 913.3,121.5 914.0,125.4 914.7,111.0 915.4,116.0 916.1,110.4 916.8,114.8 917.5,119.8 918.2,114.3 918.9,100.0 919.6,84.5 920.3,98.0 921.0,110.2 921.7,111.3 922.4,102.2 923.1,94.4 923.8,114.8 924.5,122.9 925.2,116.0 925.9,107.7 926.6,123.1 927.3,119.3 928.0,121.0 928.7,128.2 929.4,114.5 930.1,114.1 930.8,108.0 931.5,103.1 932.2,91.5 932.9,101.5 933.6,110.1 934.3,121.5 935.0,125.3 935.7,110.5 936.4,117.5 937.1,110.9 937.8,102.1 938.5,97.5 939.2,105.9 939.9,109.4 940.6,117.0 941.3,117.6 942.0,116.6 942.7,109.3 943.4,110.5 944.1,112.6 944.8,118.5 945.5,122.4 946.2,102.1 946.9,93.2 947.6,104.8 948.3,109.9 949.0,110.4 949.7,109.9 950.4,109.2 951.1,117.4 951.8,107.4 952.5,121.8 953.2,112.5 953.9,112.4 954.6,110.1 955.3,103.4 956.0,104.1 956.7,120.4 957.4,127.7 958.1,113.2 958.8,109.6 959.5,88.8 960.2,99.2 960.9,124.3 961.6,130.8 962.3,118.5 963.0,116.7 963.7,118.0 964.4,116.6 965.1,121.7 965.8,126.9 966.5,120.0 967.2,123.1 967.9,126.9 968.6,109.4 969.3,97.4 970.0,86.6 970.7,102.5 971.4,115.0 972.1,122.6 972.8,123.5 973.5,117.0 974.2,121.3 974.9,115.4 975.6,114.1 976.3,103.5 977.0,121.7 977.7,112.3 978.4,115.9 979.1,116.4 979.8,125.2 980.5,121.1 981.2,111.2 981.9,109.5 982.6,101.6 983.3,99.7 984.0,95.6 984.7,108.3 985.4,127.6 986.1,123.5 986.8,130.2 987.5,130.8 988.2,125.4 988.9,110.5 989.6,114.7 990.3,123.1 991.0,123.8 991.7,111.3 992.4,114.2 993.1,115.6 993.8,116.5 994.5,116.2 995.2,111.4 995.9,111.8 996.6,114.0 997.3,122.2 998.0,114.7 998.7,120.2 999.4,110.7 1000.1,122.7 1000.8,118.8 1001.5,117.0 1002.2,124.6 1002.9,107.9 1003.6,105.3 1004.3,114.7 1005.0,101.1 1005.7,93.6 1006.4,120.9 1007.1,116.8 1007.8,117.2 1008.5,116.1 1009.2,122.9 1009.9,119.6 1010.6,118.3 1011.3,109.4 1012.0,109.1 1012.7,98.3 1013.4,77.7 1014.1,100.2 1014.8,115.5 1015.5,127.9 1016.2,109.7 1016.9,108.9 1017.6,109.0 1018.3,110.5 1019.0,114.3 1019.7,114.6 1020.4,117.5 1021.1,117.9 1021.8,116.4 1022.5,107.2 1023.2,110.7 1023.9,115.4 1024.6,119.7 1025.3,121.1 1026.0,107.8 1026.7,111.2 1027.4,114.7 1028.1,118.1 1028.8,123.6 1029.5,118.6 1030.2,111.6 1030.9,117.6 1031.6,118.1 1032.3,118.2 1033.0,116.2 1033.7,126.0 1034.4,120.2 1035.1,122.5 1035.8,112.5 1036.5,120.1 1037.2,113.5 1037.9,103.3 1038.6,103.2 1039.3,99.7 1040.0,103.4 1040.7,113.2 1041.4,122.1 1042.1,115.1 1042.8,103.8 1043.5,114.9 1044.2,117.3 1044.9,123.0 1045.6,116.1 1046.3,123.9 1047.0,125.0 1047.7,110.7 1048.4,120.5 1049.1,110.8 1049.8,105.6 1050.5,111.2 1051.2,107.0 1051.9,90.7 1052.6,97.0 1053.3,106.8 1054.0,120.5 1054.7,117.3 1055.4,107.8 1056.1,108.4 1056.8,120.2 1057.5,121.3 1058.2,108.1 1058.9,87.9 1059.6,104.6 1060.3,114.1 1061.0,114.0 1061.7,116.0 1062.4,110.3 1063.1,100.2 1063.8,97.0 1064.5,98.4 1065.2,97.6 1065.9,108.1 1066.6,114.2 1067.3,126.2 1068.0,116.4 1068.7,128.3 1069.4,127.9 1070.1,114.0 1070.8,111.5 1071.5,116.1 1072.2,126.7 1072.9,121.2 1073.6,121.7 1074.3,113.8 1075.0,102.0 1075.7,111.5 1076.4,119.9 1077.1,124.4 1077.8,118.7 1078.5,118.0 1079.2,123.8 1079.9,117.5 1080.6,123.6 1081.3,110.6 1082.0,104.6 1082.7,97.4 1083.4,102.9 1084.1,103.0 1084.8,112.4 1085.5,117.9 1086.2,119.0 1086.9,125.0 1087.6,127.3 1088.3,114.3 1089.0,117.0 1089.7,115.2 1090.4,112.4 1091.1,115.9 1091.8,98.6 1092.5,73.1 1093.2,77.5 1093.9,112.6 1094.6,112.8 1095.3,106.4 1096.0,80.0 1096.7,81.9 1097.4,84.2 1098.1,73.7 1098.8,62.7 1099.5,73.4 1100.2,84.2 1100.9,106.2 1101.6,117.1 1102.3,116.5 1103.0,112.7 1103.7,113.9 1104.4,125.2 1105.1,118.8 1105.8,108.5 1106.5,107.6 1107.2,111.8 1107.9,118.5 1108.6,109.6 1109.3,115.8 1110.0,121.5 1110.7,120.3 1111.4,103.5 1112.1,102.2 1112.8,78.5 1113.5,75.0 1114.2,81.2 1114.9,108.3 1115.6,111.1 1116.3,77.6 1117.0,68.0 1117.7,95.7 1118.4,110.9 1119.1,110.3 1119.8,103.5 1120.5,113.7 1121.2,124.9 1121.9,117.5 1122.6,113.6 1123.3,112.0 1124.0,103.2 1124.7,108.0 1125.4,105.7 1126.1,118.5 1126.8,107.9 1127.5,96.7 1128.2,103.2 1128.9,108.4 1129.6,110.4 1130.3,99.5 1131.0,115.4 1131.7,111.6 1132.4,99.4 1133.1,82.7 1133.8,82.5 1134.5,86.9 1135.2,103.8 1135.9,109.5 1136.6,112.9 1137.3,120.6 1138.0,114.6 1138.7,106.9 1139.4,117.8 1140.1,115.5 1140.8,108.6 1141.5,119.0 1142.2,112.8 1142.9,120.0 1143.6,106.4 1144.3,94.8 1145.0,94.0 1145.7,109.4 1146.4,106.5 1147.1,110.1 1147.8,110.5 1148.5,97.6 1149.2,107.0 1149.9,82.6 1150.6,80.4 1151.3,73.3 1152.0,79.8 1152.7,87.1 1153.4,93.8 1154.1,101.9 1154.8,110.2 1155.5,108.6 1156.2,115.2 1156.9,128.0 1157.6,110.0 1158.3,107.0 1159.0,110.1 1159.7,111.4 1160.4,105.0 1161.1,113.8 1161.8,117.7 1162.5,115.1 1163.2,104.8 1163.9,120.3 1164.6,106.1 1165.3,115.1 1166.0,108.7 1166.7,118.1 1167.4,117.1 1168.1,101.8 1168.8,96.1 1169.5,106.9 1170.2,119.1 1170.9,126.1 1171.6,122.3 1172.3,130.8 1173.0,114.3 1173.7,118.9 1174.4,112.6 1175.1,99.3 1175.8,92.6 1176.5,101.6 1177.2,98.8 1177.9,103.3 1178.6,117.3 1179.3,121.7 1180.0,116.4 1180.7,120.3 1181.4,93.0 1182.1,107.0 1182.8,110.0 1183.5,113.8 1184.2,116.6 1184.9,114.6 1185.6,113.3 1186.3,116.0 1187.0,108.1 1187.7,126.9 1188.4,118.0 1189.1,120.3 1189.8,115.5 1190.5,93.5 1191.2,110.4 1191.9,104.2 1192.6,111.8 1193.3,99.5 1194.0,87.4 1194.7,86.8 1195.4,101.4 1196.1,101.6 1196.8,82.7 1197.5,87.7 1198.2,91.7 1198.9,85.0 1199.6,72.5 1200.3,77.3 1201.0,87.4 1201.7,88.9 1202.4,87.5 1203.1,96.2 1203.8,102.2 1204.5,95.8 1205.2,101.3 1205.9,96.4 1206.6,93.7 1207.3,76.0 1208.0,94.4 1208.7,94.7 1209.4,95.1 1210.1,90.7 1210.8,84.8 1211.5,94.4 1212.2,99.9 1212.9,107.7 1213.6,104.8 1214.3,93.0 1215.0,93.0 1215.7,100.9 1216.4,98.6 1217.1,94.8 1217.8,90.1 1218.5,96.9 1219.2,96.4 1219.9,108.0 1220.6,106.6 1221.3,85.5 1222.0,107.3 1222.7,100.3 1223.4,94.0 1224.1,96.4 1224.8,100.4 1225.5,96.1 1226.2,94.3 1226.9,94.4 1227.6,107.8 1228.3,99.0 1229.0,101.6 1229.7,100.1 1230.4,93.8 1231.1,88.8 1231.8,85.3 1232.5,94.6 1233.2,86.9 1233.9,82.7 1234.6,81.6 1235.3,79.4 1236.0,90.2 1236.7,93.7 1237.4,87.4 1238.1,101.8 1238.8,94.5 1239.5,97.8 1240.2,97.6 1240.9,107.8 1241.6,104.6 1242.3,97.1 1243.0,88.0 1243.7,84.4 1244.4,91.2 1245.1,94.2 1245.8,99.9 1246.5,92.5 1247.2,95.0 1247.9,89.4 1248.6,79.1 1249.3,89.3 1250.0,103.3 1250.7,103.0 1251.4,107.3 1252.1,106.7 1252.8,87.9 1253.5,90.0 1254.2,103.8 1254.9,91.8 1255.6,83.5 1256.3,93.1 1257.0,98.4 1257.7,97.5 1258.4,92.6 1259.1,88.4 1259.8,83.1 1260.5,81.2 1261.2,80.8 1261.9,79.4 1262.6,84.1 1263.3,102.0 1264.0,97.1 1264.7,92.3 1265.4,96.0 1266.1,87.4 1266.8,94.3 1267.5,100.6 1268.2,84.9 1268.9,85.8 1269.6,89.5 1270.3,85.3 1271.0,83.0 1271.7,87.7 1272.4,110.0 1273.1,103.7 1273.8,100.1 1274.5,102.9 1275.2,94.9 1275.9,85.0 1276.6,94.5 1277.3,102.3 1278.0,81.1 1278.7,93.0 1279.4,102.5 1280.1,94.5 1280.8,90.6 1281.5,97.9 1282.2,88.9 1282.9,95.7 1283.6,101.1 1284.3,94.5 1285.0,88.0 1285.7,96.5 1286.4,92.0 1287.1,93.7 1287.8,72.4 1288.5,92.2 1289.2,82.7 1289.9,90.5 1290.6,93.5 1291.3,88.1 1292.0,85.1 1292.7,81.4 1293.4,87.3 1294.1,96.0 1294.8,98.3 1295.5,91.2 1296.2,88.4 1296.9,81.5 1297.6,86.6 1298.3,83.4 1299.0,79.0 1299.7,87.7 1300.4,102.8 1301.1,105.2 1301.8,107.9 1302.5,86.1 1303.2,97.5 1303.9,85.5 1304.6,86.6 1305.3,78.5 1306.0,81.3 1306.7,90.5 1307.4,94.0 1308.1,93.0 1308.8,92.0 1309.5,97.0 1310.2,94.8 1310.9,81.9 1311.6,102.6 1312.3,94.4 1313.0,100.5 1313.7,94.3 1314.4,87.5 1315.1,92.0 1315.8,87.3 1316.5,103.4 1317.2,88.3 1317.9,96.4 1318.6,89.7 1319.3,90.9 1320.0,112.0 1320.7,104.9 1321.4,95.4 1322.1,82.5 1322.8,87.9 1323.5,89.8 1324.2,102.9 1324.9,85.7 1325.6,77.6 1326.3,88.3 1327.0,93.5 1327.7,105.6 1328.4,90.6 1329.1,72.4 1329.8,81.6 1330.5,80.3 1331.2,85.3 1331.9,98.3 1332.6,85.0 1333.3,100.1 1334.0,97.1 1334.7,92.5 1335.4,86.6 1336.1,88.2 1336.8,88.9 1337.5,97.8 1338.2,104.4 1338.9,96.4 1339.6,99.7 1340.3,105.2 1341.0,106.6 1341.7,101.2 1342.4,109.7 1343.1,108.6 1343.8,110.4 1344.5,97.4 1345.2,91.6 1345.9,77.9 1346.6,99.8 1347.3,100.5 1348.0,88.9 1348.7,93.7 1349.4,96.0 1350.1,81.5 1350.8,92.3 1351.5,101.7 1352.2,105.9 1352.9,94.8 1353.6,91.6 1354.3,103.1 1355.0,103.8 1355.7,92.7 1356.4,88.9 1357.1,96.9 1357.8,89.9 1358.5,88.1 1359.2,105.1 1359.9,99.4 1360.6,92.2 1361.3,97.4 1362.0,110.7 1362.7,100.9 1363.4,90.2 1364.1,80.6 1364.8,105.8 1365.5,77.8 1366.2,97.0 1366.9,87.4 1367.6,82.4 1368.3,82.7 1369.0,89.0 1369.7,100.8 1370.4,91.1 1371.1,98.1 1371.8,113.7 1372.5,78.7 1373.2,83.6 1373.9,76.8 1374.6,95.1 1375.3,83.0 1376.0,78.3 1376.7,77.2 1377.4,88.6 1378.1,100.9 1378.8,97.1 1379.5,111.1 1380.2,111.7 1380.9,98.5 1381.6,102.4 1382.3,97.5 1383.0,95.5 1383.7,79.7 1384.4,79.5 1385.1,89.5 1385.8,83.2 1386.5,96.1 1387.2,96.8 1387.9,87.7 1388.6,101.0 1389.3,97.9 1390.0,104.7 1390.7,96.1 1391.4,82.1 1392.1,95.5 1392.8,92.4 1393.5,99.9 1394.2,104.0 1394.9,106.0 1395.6,86.5 1396.3,73.7 1397.0,83.7 1397.7,95.8 1398.4,88.9 1399.1,94.6 1399.8,87.8 1400.5,89.5 1401.2,90.2 1401.9,87.9 1402.6,96.1 1403.3,97.3 1404.0,107.5 1404.7,101.2 1405.4,106.5 1406.1,98.6 1406.8,102.2 1407.5,95.4 1408.2,90.7 1408.9,103.2 1409.6,102.6 1410.3,103.4 1411.0,91.0 1411.7,80.0 1412.4,82.9 1413.1,92.8 1413.8,82.3 1414.5,101.3 1415.2,84.7 1415.9,95.6 1416.6,114.9 1417.3,80.4 1418.0,77.6 1418.7,96.2 1419.4,93.1 1420.1,95.0 1420.8,93.2 1421.5,104.5 1422.2,102.0 1422.9,92.6 1423.6,91.5 1424.3,83.9 1425.0,89.9 1425.7,74.8 1426.4,93.0 1427.1,91.4 1427.8,107.1 1428.5,107.1 1429.2,87.8 1429.9,98.7 1430.6,91.2 1431.3,93.2 1432.0,101.2 1432.7,98.5 1433.4,98.9 1434.1,98.8 1434.8,89.5 1435.5,87.4 1436.2,95.9 1436.9,101.0 1437.6,93.7 1438.3,94.3 1439.0,86.0 1439.7,71.3 1440.4,80.3 1441.1,89.6 1441.8,93.6 1442.5,99.9 1443.2,102.2 1443.9,103.7 1444.6,99.6 1445.3,98.6 1446.0,89.5 1446.7,95.2 1447.4,95.5 1448.1,103.2 1448.8,84.2 1449.5,86.8 1450.2,78.0 1450.9,82.7 1451.6,79.0 1452.3,90.8 1453.0,87.3 1453.7,71.3 1454.4,95.7 1455.1,85.4 1455.8,78.3 1456.5,85.6 1457.2,85.3 1457.9,81.4 1458.6,94.7 1459.3,90.7 1460.0,99.3 1460.7,100.4 1461.4,100.4 1462.1,96.7 1462.8,93.4 1463.5,90.0 1464.2,103.2 1464.9,81.4 1465.6,80.9 1466.3,84.0 1467.0,93.3 1467.7,94.1 1468.4,89.5 1469.1,89.1 1469.8,105.0 1470.5,91.4 1471.2,70.5 1471.9,100.5 1472.6,88.0 1473.3,89.0 1474.0,92.9 1474.7,82.8 1475.4,99.2 1476.1,94.0 1476.8,82.4 1477.5,91.5 1478.2,96.1 1478.9,93.4 1479.6,96.9 1480.3,82.7 1481.0,97.1 1481.7,87.9 1482.4,101.3 1483.1,90.8 1483.8,93.4 1484.5,113.3 1485.2,99.7 1485.9,103.6 1486.6,100.0 1487.3,83.7 1488.0,99.0 1488.7,103.3 1489.4,85.5 1490.1,90.1 1490.8,80.6 1491.5,87.0 1492.2,98.2 1492.9,95.5 1493.6,84.7 1494.3,83.5 1495.0,90.4 1495.7,92.1 1496.4,93.9 1497.1,98.1 1497.8,80.1 1498.5,89.2 1499.2,100.8 1499.9,99.4 1500.6,89.8 1501.3,87.4 1502.0,92.6 1502.7,98.3 1503.4,94.8 1504.1,106.7 1504.8,107.6 1505.5,91.7 1506.2,96.6 1506.9,91.6 1507.6,83.5 1508.3,85.4 1509.0,90.8 1509.7,76.3 1510.4,83.0 1511.1,92.9 1511.8,87.7 1512.5,88.5 1513.2,98.5 1513.9,94.5 1514.6,95.1 1515.3,109.1 1516.0,99.7 1516.7,97.6 1517.4,98.1 1518.1,107.6 1518.8,100.6 1519.5,96.0 1520.2,93.5 1520.9,102.2 1521.6,91.3 1522.3,102.1 1523.0,97.9 1523.7,84.8 1524.4,96.1 1525.1,98.2 1525.8,86.7 1526.5,94.3 1527.2,96.0 1527.9,92.6 1528.6,85.1 1529.3,107.8 1530.0,104.3 1530.7,104.6 1531.4,105.3 1532.1,103.7 1532.8,103.1 1533.5,94.2 1534.2,100.5 1534.9,94.7 1535.6,90.8 1536.3,98.2 1537.0,94.0 1537.7,81.1 1538.4,87.2 1539.1,96.4 1539.8,94.9 1540.5,100.9 1541.2,93.7 1541.9,87.0 1542.6,97.7 1543.3,96.4 1544.0,85.9 1544.7,94.9 1545.4,92.5 1546.1,101.0 1546.8,102.1 1547.5,100.1 1548.2,79.3 1548.9,92.1 1549.6,97.0 1550.3,98.8 1551.0,96.4 1551.7,89.5 1552.4,90.8 1553.1,77.3 1553.8,86.8 1554.5,80.6 1555.2,87.4 1555.9,87.1 1556.6,102.3 1557.3,97.2 1558.0,95.1 1558.7,95.8 1559.4,110.3 1560.1,92.1 1560.8,95.9 1561.5,97.5 1562.2,96.6 1562.9,96.2 1563.6,91.3 1564.3,102.3 1565.0,103.2 1565.7,94.3 1566.4,92.7 1567.1,96.0 1567.8,98.6 1568.5,101.3 1569.2,96.3 1569.9,85.5 1570.6,98.9 1571.3,83.8 1572.0,84.2 1572.7,94.0 1573.4,87.8 1574.1,102.6 1574.8,109.3 1575.5,108.0 1576.2,101.1 1576.9,98.3 1577.6,98.8 1578.3,94.4 1579.0,109.7 1579.7,94.8 1580.4,104.5 1581.1,101.8 1581.8,99.2 1582.5,103.9 1583.2,107.0 1583.9,105.2 1584.6,97.2 1585.3,90.2 1586.0,88.3 1586.7,99.3 1587.4,101.2 1588.1,102.8 1588.8,93.0 1589.5,108.5 1590.2,88.9 1590.9,95.7 1591.6,100.0 1592.3,93.0 1593.0,85.6 1593.7,88.5 1594.4,84.1 1595.1,89.5 1595.8,83.1 1596.5,80.9 1597.2,90.3 1597.9,81.7 1598.6,88.6 1599.3,91.3 1600.0,99.7 1600.7,97.6 1601.4,88.9 1602.1,101.9 1602.8,91.2 1603.5,90.2 1604.2,90.4 1604.9,109.0 1605.6,99.1 1606.3,90.4 1607.0,98.2 1607.7,94.3 1608.4,111.5 1609.1,94.1 1609.8,98.6 1610.5,88.6 1611.2,105.7 1611.9,92.1 1612.6,94.8 1613.3,87.9 1614.0,98.6 1614.7,99.7 1615.4,78.7 1616.1,95.1 1616.8,99.2 1617.5,97.3 1618.2,102.3 1618.9,87.3 1619.6,78.7 1620.3,94.1 1621.0,106.6 1621.7,88.8 1622.4,83.7 1623.1,84.3 1623.8,82.0 1624.5,96.4 1625.2,95.6 1625.9,104.5 1626.6,107.5 1627.3,90.5 1628.0,97.6 1628.7,77.7 1629.4,88.0 1630.1,96.6 1630.8,88.5 1631.5,78.5 1632.2,85.2 1632.9,100.0 1633.6,92.7 1634.3,83.0 1635.0,93.9 1635.7,99.4 1636.4,87.7 1637.1,90.6 1637.8,100.8 1638.5,98.6 1639.2,100.7 1639.9,93.5 1640.6,92.7 1641.3,84.6 1642.0,85.4 1642.7,102.6 1643.4,93.3 1644.1,86.7 1644.8,88.0 1645.5,84.1 1646.2,94.6 1646.9,100.9 1647.6,88.9 1648.3,100.0 1649.0,111.6 1649.7,91.5 1650.4,98.3 1651.1,97.3 1651.8,105.1 1652.5,107.0 1653.2,106.3 1653.9,100.2 1654.6,92.8 1655.3,110.4 1656.0,93.1 1656.7,102.2 1657.4,104.2 1658.1,91.7 1658.8,93.5 1659.5,105.0 1660.2,83.3 1660.9,96.7 1661.6,92.6 1662.3,91.7 1663.0,82.4 1663.7,93.4 1664.4,85.9 1665.1,96.7 1665.8,86.1 1666.5,96.9 1667.2,97.2 1667.9,80.5 1668.6,87.1 1669.3,90.7 1670.0,75.9 1670.7,85.3 1671.4,97.0 1672.1,89.1 1672.8,100.9 1673.5,87.4 1674.2,82.6 1674.9,94.4 1675.6,98.4 1676.3,93.7 1677.0,93.4 1677.7,100.8 1678.4,91.5 1679.1,108.1 1679.8,101.3 1680.5,98.9 1681.2,97.2 1681.9,92.3 1682.6,102.3 1683.3,91.8 1684.0,115.1 1684.7,114.1 1685.4,118.9 1686.1,126.6 1686.8,123.8 1687.5,124.1 1688.2,122.9 1688.9,120.7 1689.6,123.6 1690.3,124.7 1691.0,120.9 1691.7,117.8 1692.4,119.5 1693.1,115.4 1693.8,116.2 1694.5,120.1 1695.2,117.7 1695.9,108.4 1696.6,114.3 1697.3,109.6 1698.0,106.0 1698.7,103.5 1699.4,112.2 1700.1,104.7 1700.8,108.8 1701.5,112.7 1702.2,114.7 1702.9,112.3 1703.6,113.3 1704.3,114.9 1705.0,109.4 1705.7,115.0 1706.4,119.6 1707.1,114.2 1707.8,111.5 1708.5,108.3 1709.2,116.0 1709.9,110.9 1710.6,110.6 1711.3,104.9 1712.0,114.9 1712.7,114.0 1713.4,115.7 1714.1,122.3 1714.8,122.2 1715.5,114.2 1716.2,116.6 1716.9,119.1 1717.6,94.1 1718.3,96.9 1719.0,99.9 1719.7,88.7 1720.4,89.9 1721.1,94.6 1721.8,96.7 1722.5,90.8 1723.2,90.7 1723.9,99.3 1724.6,82.9 1725.3,88.7 1726.0,92.4 1726.7,82.5 1727.4,82.9 1728.1,91.3 1728.8,89.2 1729.5,100.6 1730.2,100.9 1730.9,113.1 1731.6,90.9 1732.3,107.3 1733.0,93.1 1733.7,100.0 1734.4,103.3 1735.1,98.4 1735.8,93.5 1736.5,89.4 1737.2,79.4 1737.9,86.9 1738.6,85.3 1739.3,95.8 1740.0,89.3 1740.7,91.5 1741.4,96.8 1742.1,95.7 1742.8,95.1 1743.5,93.0 1744.2,90.8 1744.9,96.9 1745.6,100.5 1746.3,90.5 1747.0,105.7 1747.7,102.3 1748.4,85.1 1749.1,111.5 1749.8,104.7 1750.5,92.3 1751.2,105.9 1751.9,78.4 1752.6,108.6 1753.3,87.9 1754.0,80.6 1754.7,83.1 1755.4,92.3 1756.1,90.9 1756.8,99.8 1757.5,89.9 1758.2,101.2 1758.9,98.4 1759.6,88.0 1760.3,100.5 1761.0,98.8 1761.7,94.4 1762.4,104.2 1763.1,88.6 1763.8,89.9 1764.5,104.1 1765.2,97.6 1765.9,101.0 1766.6,101.2 1767.3,95.8 1768.0,99.9 1768.7,88.7 1769.4,97.7 1770.1,87.9 1770.8,92.5 1771.5,87.2 1772.2,96.0 1772.9,98.5 1773.6,104.1 1774.3,92.9 1775.0,86.7 1775.7,76.0 1776.4,78.8 1777.1,87.5 1777.8,93.6 1778.5,91.1 1779.2,93.4 1779.9,83.0 1780.6,83.6 1781.3,97.1 1782.0,100.2 1782.7,85.8 1783.4,89.2 1784.1,94.3 1784.8,85.3 1785.5,94.3 1786.2,96.3 1786.9,98.2 1787.6,110.1 1788.3,92.6 1789.0,102.7 1789.7,101.0 1790.4,101.8 1791.1,91.1 1791.8,93.7 1792.5,93.9 1793.2,106.6 1793.9,98.7 1794.6,106.6 1795.3,95.7 1796.0,91.9 1796.7,93.6 1797.4,78.7 1798.1,85.4 1798.8,87.0 1799.5,90.8 1800.2,94.5 1800.9,87.0 1801.6,83.7 1802.3,100.6 1803.0,88.3 1803.7,88.5 1804.4,85.2 1805.1,87.9 1805.8,101.5 1806.5,105.2 1807.2,83.9 1807.9,89.1 1808.6,103.1 1809.3,94.3 1810.0,96.9 1810.7,108.8 1811.4,115.8 1812.1,112.8 1812.8,97.9 1813.5,95.7 1814.2,96.5 1814.9,92.7 1815.6,89.2 1816.3,108.3 1817.0,100.8 1817.7,102.4 1818.4,105.9 1819.1,101.9 1819.8,97.5 1820.5,97.2 1821.2,105.9 1821.9,101.4 1822.6,81.3 1823.3,98.0 1824.0,107.9 1824.7,96.4 1825.4,90.4 1826.1,89.5 1826.8,101.0 1827.5,88.8 1828.2,98.3 1828.9,103.9 1829.6,101.7 1830.3,97.3 1831.0,89.8 1831.7,88.1 1832.4,92.4 1833.1,86.6 1833.8,91.2 1834.5,86.5 1835.2,116.4 1835.9,113.4 1836.6,110.9 1837.3,112.3 1838.0,117.5 1838.7,119.1 1839.4,120.8 1840.1,119.7 1840.8,123.9 1841.5,120.8 1842.2,117.2 1842.9,117.3 1843.6,115.6 1844.3,118.7 1845.0,122.3 1845.7,122.1 1846.4,116.4 1847.1,113.2 1847.8,115.8 1848.5,112.3 1849.2,114.9 1849.9,110.8 1850.6,111.4 1851.3,114.7 1852.0,112.9 1852.7,116.6 1853.4,119.4 1854.1,122.6 1854.8,118.6 1855.5,114.0 1856.2,106.4 1856.9,102.9 1857.6,101.9 1858.3,111.3 1859.0,117.3 1859.7,113.6 1860.4,110.1 1861.1,110.3 1861.8,114.7 1862.5,111.6 1863.2,106.3 1863.9,108.3 1864.6,107.6 1865.3,116.4 1866.0,114.8 1866.7,117.5 1867.4,113.0 1868.1,114.5 1868.8,112.1 1869.5,115.7 1870.2,120.2 1870.9,121.3 1871.6,113.6 1872.3,105.6 1873.0,96.8 1873.7,90.9 1874.4,102.3 1875.1,99.2 1875.8,94.9 1876.5,79.7 1877.2,97.6 1877.9,97.3 1878.6,92.4 1879.3,94.8 1880.0,104.4 1880.7,96.3 1881.4,95.9 1882.1,93.4 1882.8,88.0 1883.5,87.1 1884.2,90.9 1884.9,92.8 1885.6,103.0 1886.3,99.6 1887.0,96.1 1887.7,99.3 1888.4,96.9 1889.1,102.4 1889.8,88.0 1890.5,79.3 1891.2,94.0 1891.9,93.1 1892.6,97.2 1893.3,88.3 1894.0,91.1 1894.7,94.5 1895.4,97.6 1896.1,96.1 1896.8,103.4 1897.5,94.2 1898.2,100.8 1898.9,94.4 1899.6,95.1 1900.3,88.7 1901.0,94.4 1901.7,89.0 1902.4,100.7 1903.1,93.8 1903.8,97.4 1904.5,95.6 1905.2,95.9 1905.9,90.1 1906.6,108.5 1907.3,98.2 1908.0,107.4 1908.7,91.8 1909.4,108.7 1910.1,107.4 1910.8,111.5 1911.5,90.1 1912.2,103.5 1912.9,98.1 1913.6,100.8 1914.3,110.3 1915.0,103.3 1915.7,94.2 1916.4,97.2 1917.1,90.5 1917.8,97.3 1918.5,96.9 1919.2,99.4 1919.9,95.2 1920.6,83.3 1921.3,90.1 1922.0,93.3 1922.7,99.9 1923.4,102.9 1924.1,88.6 1924.8,101.8 1925.5,104.6 1926.2,99.9 1926.9,100.6 1927.6,84.6 1928.3,109.2 1929.0,98.1 1929.7,92.3 1930.4,103.0 1931.1,103.1 1931.8,95.8 1932.5,85.3 1933.2,99.5 1933.9,108.4 1934.6,93.7 1935.3,85.4 1936.0,95.5 1936.7,111.5 1937.4,91.4 1938.1,96.4 1938.8,89.0 1939.5,94.6 1940.2,98.7 1940.9,100.4 1941.6,87.8 1942.3,84.1 1943.0,107.5 1943.7,106.5 1944.4,87.6 1945.1,96.4 1945.8,106.0 1946.5,99.6 1947.2,102.0 1947.9,88.4 1948.6,88.0 1949.3,98.0 1950.0,106.5 1950.7,108.4 1951.4,110.1 1952.1,115.2 1952.8,114.8 1953.5,117.9 1954.2,110.0 1954.9,121.4 1955.6,117.2 1956.3,103.1 1957.0,110.2 1957.7,116.9 1958.4,114.4 1959.1,107.1 1959.8,111.0 1960.5,108.9 1961.2,110.5 1961.9,113.4 1962.6,97.9 1963.3,106.0 1964.0,112.3 1964.7,114.8 1965.4,111.6 1966.1,110.2 1966.8,107.8 1967.5,108.6 1968.2,109.0 1968.9,94.4 1969.6,104.7 1970.3,113.2 1971.0,120.3 1971.7,118.5 1972.4,118.4 1973.1,115.1 1973.8,120.5 1974.5,115.6 1975.2,113.2 1975.9,118.1 1976.6,117.8 1977.3,118.8 1978.0,110.8 1978.7,123.8 1979.4,118.8 1980.1,123.0 1980.8,118.9 1981.5,111.1 1982.2,114.9 1982.9,112.8 1983.6,116.6 1984.3,105.0 1985.0,105.0 1985.7,104.0 1986.4,115.3 1987.1,118.9 1987.8,109.9 1988.5,110.7 1989.2,99.5 1989.9,78.8 1990.6,94.8 1991.3,101.6 1992.0,108.9 1992.7,109.4 1993.4,114.6 1994.1,110.9 1994.8,115.2 1995.5,109.1 1996.2,105.7 1996.9,105.3 1997.6,107.0 1998.3,107.2 1999.0,123.2 1999.7,112.9" fill="none" stroke="#111" stroke-width="3.2" stroke-linejoin="round" />
<polyline points="812.5,260.0 814.0,260.5 816.5,286.0 820.0,287.5 823.0,276.0 826.5,264.0 829.0,225.0 832.0,259.0 837.0,264.0 840.0,261.0 842.5,249.0 848.0,278.0 852.0,242.0 858.0,279.0 863.0,255.0 867.0,254.5 872.4,277.0 877.0,243.5 881.4,254.0 885.0,269.0 889.0,264.5 892.0,243.5 895.0,255.5 897.4,247.5 901.0,259.0 903.4,247.5 910.0,286.5 915.4,285.0 918.4,270.0 922.4,291.4 927.4,254.0 930.0,253.0 933.4,244.0 937.0,273.0 941.4,232.5 944.4,259.5 947.4,256.0 952.4,285.4 955.4,267.0 958.4,282.4 961.0,271.0 963.4,275.0 966.0,265.5 969.0,279.0 974.0,262.0 979.4,293.0 983.4,261.0 986.4,277.0 989.4,277.0 991.8,285.0 994.8,284.0 998.3,268.0 1005.0,278.0 1009.0,272.0 1012.5,235.5 1016.0,275.0 1021.5,288.0 1026.5,254.5 1029.5,268.0 1034.0,256.5 1037.5,279.0 1040.5,272.0 1043.5,279.0 1046.5,254.5 1050.0,252.0 1052.5,256.0 1055.0,251.5 1059.5,268.0 1064.5,267.0 1067.5,264.0 1070.0,269.0 1075.0,248.0 1080.4,266.5 1084.4,240.5 1088.4,260.5 1092.0,260.0 1095.4,268.0 1097.4,256.0 1099.4,271.0 1102.4,271.0 1105.0,282.0 1107.0,284.0 1110.4,265.5 1113.4,282.0 1118.9,255.0 1123.9,287.0 1126.9,279.0 1130.4,269.0 1135.0,279.0 1138.9,270.0 1142.9,289.0 1146.9,262.0 1150.9,233.5 1154.4,235.0 1160.8,277.0 1164.3,267.0 1167.3,278.0 1172.3,264.5 1175.8,276.0 1180.3,268.0 1183.8,281.5 1188.3,266.0 1191.8,270.0 1196.3,288.0 1199.8,286.0 1204.8,268.0 1206.1,283.3 1207.3,279.5 1208.5,277.8 1209.7,269.4 1210.9,275.5 1212.1,273.1 1213.3,275.4 1214.5,281.8 1215.7,280.9 1216.9,285.8 1218.1,282.3 1219.3,278.5 1220.5,278.2 1221.7,287.9 1222.9,284.9 1224.1,279.8 1225.3,278.5 1226.5,274.1 1227.7,283.3 1228.9,279.0 1230.1,282.5 1231.3,280.2 1232.5,278.2 1233.7,276.1 1234.9,281.0 1236.1,279.6 1237.3,285.1 1238.5,288.5 1239.7,281.1 1240.9,280.7 1242.1,287.6 1243.3,287.1 1244.5,282.9 1245.7,274.2 1246.9,272.8 1248.1,273.3 1249.3,285.3 1250.5,282.7 1251.7,279.0 1252.9,277.8 1254.1,277.2 1255.3,279.9 1256.5,272.0 1257.7,269.9 1258.9,276.2 1260.1,282.8 1261.3,271.9 1262.5,279.0 1263.7,273.4 1264.9,264.7 1266.1,268.5 1267.3,263.1 1268.5,269.8 1269.7,273.9 1270.9,276.9 1272.1,270.2 1273.3,273.2 1274.5,277.2 1275.7,273.7 1276.9,278.6 1278.1,281.1 1279.3,270.3 1280.5,279.6 1281.7,282.1 1282.9,280.7 1284.1,285.1 1285.3,291.7 1286.5,280.2 1287.7,283.6 1288.9,284.0 1290.1,283.4 1291.3,285.9 1292.5,287.4 1293.7,282.4 1294.9,270.2 1296.1,272.5 1297.3,273.4 1298.5,284.0 1299.7,281.8 1300.9,286.1 1302.1,279.1 1303.3,280.7 1304.5,280.1 1305.7,280.5 1306.9,282.8 1308.1,288.1 1309.3,280.8 1310.5,286.6 1311.7,288.2 1312.9,284.8 1314.1,285.2 1315.3,281.1 1316.5,275.9 1317.7,277.1 1318.9,277.9 1320.1,279.0 1321.3,275.7 1322.5,286.5 1323.7,281.1 1324.9,284.7 1326.1,287.6 1327.3,283.2 1328.5,283.1 1329.7,278.7 1330.9,274.5 1332.1,288.2 1333.3,283.8 1334.5,272.8 1335.7,273.0 1336.9,270.5 1338.1,275.5 1339.3,284.6 1340.5,287.1 1341.7,279.8 1342.9,275.6 1344.1,281.4 1345.3,281.8 1346.5,279.6 1347.7,287.8 1348.9,284.9 1350.1,274.8 1351.3,267.9 1352.5,275.4 1353.7,269.7 1354.9,278.0 1356.1,282.8 1357.3,291.3 1358.5,280.5 1359.7,281.9 1360.9,269.6 1362.1,269.7 1363.3,261.3 1364.5,263.7 1365.7,260.6 1366.9,275.3 1368.1,280.1 1369.3,290.3 1370.5,280.2 1371.7,275.6 1372.9,280.9 1374.1,280.0 1375.3,278.2 1376.5,274.9 1377.7,277.4 1378.9,271.1 1380.1,277.3 1381.3,281.6 1382.5,282.8 1383.7,292.7 1384.9,289.0 1386.1,279.3 1387.3,278.5 1388.5,283.1 1389.7,279.7 1390.9,289.0 1392.1,285.1 1393.3,279.8 1394.5,276.7 1395.7,282.1 1396.9,276.8 1398.1,270.1 1399.3,277.7 1400.5,275.7 1401.7,285.2 1402.9,291.1 1404.1,281.9 1405.3,280.6 1406.5,279.3 1407.7,282.3 1408.9,282.3 1410.1,277.3 1411.3,271.0 1412.5,277.2 1413.7,286.2 1414.9,276.9 1416.1,275.9 1417.3,275.1 1418.5,277.0 1419.7,267.5 1420.9,271.7 1422.1,267.4 1423.3,272.1 1424.5,267.9 1425.7,271.1 1426.9,274.5 1428.1,276.4 1429.3,282.4 1430.5,273.3 1431.7,282.0 1432.9,282.9 1434.1,280.1 1435.3,285.7 1436.5,279.8 1437.7,277.0 1438.9,280.0 1440.1,271.3 1441.3,275.9 1442.5,277.0 1443.7,283.0 1444.9,288.8 1446.1,286.6 1447.3,284.2 1448.5,283.8 1449.7,278.1 1450.9,289.9 1452.1,288.9 1453.3,290.5 1454.5,274.1 1455.7,271.3 1456.9,266.0 1458.1,266.2 1459.3,261.4 1460.5,270.4 1461.7,274.5 1462.9,287.3 1464.1,278.0 1465.3,277.4 1466.5,276.0 1467.7,271.0 1468.9,272.4 1470.1,267.9 1471.3,257.5 1472.5,254.2 1473.7,260.5 1474.9,267.7 1476.1,276.6 1477.3,275.8 1478.5,274.3 1479.7,277.6 1480.9,270.5 1482.1,282.9 1483.3,282.2 1484.5,273.2 1485.7,279.0 1486.9,286.8 1488.1,276.5 1489.3,276.0 1490.5,283.7 1491.7,278.0 1492.9,283.8 1494.1,287.6 1495.3,283.9 1496.5,283.8 1497.7,286.5 1498.9,284.4 1500.1,286.4 1501.3,282.4 1502.5,281.1 1503.7,277.0 1504.9,280.8 1506.1,286.3 1507.3,288.6 1508.5,284.7 1509.7,275.0 1510.9,274.0 1512.1,280.3 1513.3,275.8 1514.5,283.4 1515.7,276.8 1516.9,280.3 1518.1,276.6 1519.3,275.6 1520.5,278.9 1521.7,275.7 1522.9,276.0 1524.1,265.8 1525.3,255.5 1526.5,243.4 1527.7,260.0 1528.9,272.0 1530.1,281.6 1531.3,275.1 1532.5,282.1 1533.7,276.2 1534.9,263.3 1536.1,264.4 1537.3,257.8 1538.5,263.2 1539.7,275.8 1540.9,281.3 1542.1,286.7 1543.3,289.2 1544.5,281.9 1545.7,277.9 1546.9,277.5 1548.1,277.7 1549.3,281.5 1550.5,279.0 1551.7,286.2 1552.9,282.5 1554.1,274.3 1555.3,271.5 1556.5,278.5 1557.7,280.8 1558.9,274.0 1560.1,269.3 1561.3,282.2 1562.5,282.8 1563.7,280.1 1564.9,274.4 1566.1,281.4 1567.3,277.6 1568.5,280.3 1569.7,269.3 1570.9,273.4 1572.1,277.7 1573.3,280.3 1574.5,274.4 1575.7,271.7 1576.9,275.1 1578.1,267.4 1579.3,271.0 1580.5,273.2 1581.7,280.7 1582.9,285.7 1584.1,282.7 1585.3,277.1 1586.5,265.2 1587.7,261.5 1588.9,263.9 1590.1,264.2 1591.3,254.7 1592.5,268.4 1593.7,280.0 1594.9,276.4 1596.1,276.0 1597.3,274.2 1598.5,278.5 1599.7,285.1 1600.9,284.4 1602.1,279.2 1603.3,283.1 1604.5,284.5 1605.7,288.2 1606.9,288.7 1608.1,279.8 1609.3,277.8 1610.5,284.3 1611.7,286.7 1612.9,285.3 1614.1,279.7 1615.3,285.1 1616.5,282.9 1617.7,290.9 1618.9,290.3 1620.1,282.4 1621.3,276.9 1622.5,283.9 1623.7,285.1 1624.9,278.5 1626.1,281.1 1627.3,282.9 1628.5,278.8 1629.7,278.5 1630.9,274.3 1632.1,273.9 1633.3,280.0 1634.5,280.5 1635.7,280.4 1636.9,286.3 1638.1,287.0 1639.3,278.5 1640.5,286.5 1641.7,278.2 1642.9,277.9 1644.1,279.7 1645.3,277.3 1646.5,276.6 1647.7,273.0 1648.9,278.8 1650.1,280.5 1651.3,281.2 1652.5,271.9 1653.7,272.2 1654.9,280.8 1656.1,281.8 1657.3,283.9 1658.5,281.5 1659.7,279.6 1660.9,269.3 1662.1,283.7 1663.3,276.8 1664.5,276.6 1665.7,281.7 1666.9,281.3 1668.1,282.7 1669.3,280.9 1670.5,275.7 1671.7,285.0 1672.9,276.1 1674.1,279.9 1675.3,273.1 1676.5,275.1 1677.7,272.2 1678.9,274.0 1680.1,272.5 1681.3,276.5 1682.5,282.2 1683.7,277.8 1684.9,263.3 1686.1,260.1 1687.3,256.2 1688.5,248.5 1689.7,230.5 1690.9,239.3 1692.1,255.0 1693.3,260.1 1694.5,249.1 1695.7,255.0 1696.9,245.2 1698.1,241.9 1699.3,248.6 1700.5,246.9 1701.7,253.2 1702.9,262.7 1704.1,264.9 1705.3,271.1 1706.5,264.7 1707.7,264.1 1708.9,259.7 1710.1,254.7 1711.3,280.5 1712.5,271.3 1713.7,278.1 1714.9,265.0 1716.1,264.6 1717.3,279.5 1718.5,283.4 1719.7,277.7 1720.9,270.9 1722.1,269.7 1723.3,269.5 1724.5,271.3 1725.7,271.7 1726.9,277.2 1728.1,277.7 1729.3,268.1 1730.5,279.7 1731.7,278.6 1732.9,275.1 1734.1,277.0 1735.3,275.5 1736.5,277.0 1737.7,275.1 1738.9,271.8 1740.1,277.3 1741.3,277.7 1742.5,279.0 1743.7,281.1 1744.9,280.2 1746.1,284.2 1747.3,276.0 1748.5,265.4 1749.7,258.3 1750.9,257.1 1752.1,269.2 1753.3,265.6 1754.5,273.4 1755.7,268.7 1756.9,251.6 1758.1,254.7 1759.3,250.3 1760.5,256.7 1761.7,266.3 1762.9,276.6 1764.1,276.4 1765.3,280.6 1766.5,275.4 1767.7,272.3 1768.9,282.7 1770.1,283.2 1771.3,282.5 1772.5,286.2 1773.7,287.4 1774.9,282.5 1776.1,281.7 1777.3,288.0 1778.5,285.6 1779.7,279.7 1780.9,285.1 1782.1,286.1 1783.3,275.1 1784.5,271.7 1785.7,283.6 1786.9,287.4 1788.1,281.2 1789.3,285.6 1790.5,283.3 1791.7,283.2 1792.9,278.6 1794.1,290.6 1795.3,294.2 1796.5,291.3 1797.7,280.0 1798.9,280.4 1800.1,287.7 1801.3,280.8 1802.5,276.9 1803.7,279.5 1804.9,281.0 1806.1,278.2 1807.3,273.5 1808.5,276.3 1809.7,275.8 1810.9,278.2 1812.1,280.7 1813.3,284.2 1814.5,280.4 1815.7,281.3 1816.9,281.4 1818.1,276.1 1819.3,275.9 1820.5,274.1 1821.7,284.4 1822.9,279.1 1824.1,282.0 1825.3,284.3 1826.5,285.4 1827.7,276.5 1828.9,274.5 1830.1,280.6 1831.3,283.9 1832.5,275.8 1833.7,272.5 1834.9,267.3 1836.1,263.3 1837.3,262.0 1838.5,263.4 1839.7,266.1 1840.9,249.1 1842.1,255.4 1843.3,266.1 1844.5,258.0 1845.7,254.4 1846.9,249.4 1848.1,242.2 1849.3,256.5 1850.5,245.7 1851.7,233.0 1852.9,228.7 1854.1,222.4 1855.3,247.5 1856.5,254.2 1857.7,247.3 1858.9,267.9 1860.1,263.9 1861.3,249.9 1862.5,239.2 1863.7,228.9 1864.9,249.8 1866.1,246.5 1867.3,238.5 1868.5,253.5 1869.7,256.8 1870.9,246.7 1872.1,245.6 1873.3,278.3 1874.5,288.3 1875.7,287.0 1876.9,273.8 1878.1,266.4 1879.3,271.8 1880.5,276.1 1881.7,284.6 1882.9,278.9 1884.1,274.1 1885.3,284.9 1886.5,277.9 1887.7,275.4 1888.9,274.6 1890.1,283.1 1891.3,277.3 1892.5,286.3 1893.7,273.3 1894.9,275.4 1896.1,283.5 1897.3,271.1 1898.5,261.7 1899.7,265.8 1900.9,258.0 1902.1,276.8 1903.3,276.5 1904.5,270.9 1905.7,288.0 1906.9,276.8 1908.1,278.0 1909.3,278.3 1910.5,284.4 1911.7,279.0 1912.9,284.9 1914.1,286.6 1915.3,284.3 1916.5,287.8 1917.7,273.4 1918.9,283.8 1920.1,284.9 1921.3,282.9 1922.5,280.2 1923.7,274.6 1924.9,272.1 1926.1,277.4 1927.3,280.1 1928.5,278.9 1929.7,273.9 1930.9,272.5 1932.1,278.8 1933.3,290.1 1934.5,271.2 1935.7,269.9 1936.9,273.2 1938.1,274.2 1939.3,279.5 1940.5,284.5 1941.7,282.8 1942.9,281.4 1944.1,282.2 1945.3,283.9 1946.5,272.6 1947.7,261.5 1948.9,269.0 1950.1,274.5 1951.3,289.4 1952.5,284.5 1953.7,281.7 1954.9,286.7 1956.1,291.6 1957.3,281.6 1958.5,284.3 1959.7,278.1 1960.9,280.6 1962.1,275.7 1963.3,279.1 1964.5,287.2 1965.7,282.4 1966.9,281.0 1968.1,272.4 1969.3,270.0 1970.5,263.4 1971.7,253.0 1972.9,252.3 1974.1,260.6 1975.3,265.4 1976.5,270.9 1977.7,271.0 1978.9,270.3 1980.1,272.6 1981.3,275.5 1982.5,276.3 1983.7,263.6 1984.9,270.3 1986.1,270.1 1987.3,264.6 1988.5,259.3 1989.7,262.0 1990.9,277.4 1992.1,290.2 1993.3,282.2 1994.5,289.1 1995.7,281.4 1996.9,278.8 1998.1,272.0 1999.3,266.2" fill="none" stroke="#111" stroke-width="3.4" stroke-linejoin="round" />
<polyline points="812.5,422.4 813.1,418.5 813.7,425.9 814.3,439.1 814.9,449.7 815.5,455.6 816.1,455.4 816.7,456.2 817.3,454.4 817.9,457.8 818.5,455.9 819.1,455.4 819.7,458.4 820.3,458.2 820.9,453.3 821.5,457.2 822.1,454.5 822.7,453.7 823.3,456.1 823.9,454.0 824.5,449.7 825.1,449.2 825.7,434.7 826.3,433.6 826.9,422.8 827.5,426.0 828.1,439.3 828.7,445.1 829.3,448.8 829.9,435.1 830.5,423.9 831.1,406.0 831.7,391.1 832.3,406.7 832.9,426.5 833.5,432.4 834.1,424.9 834.7,419.3 835.3,415.9 835.9,413.6 836.5,422.2 837.1,437.5 837.7,447.8 838.3,439.1 838.9,449.7 839.5,445.6 840.1,433.4 840.7,414.7 841.3,394.5 841.9,396.3 842.5,411.8 843.1,426.4 843.7,436.6 844.3,437.1 844.9,430.8 845.5,433.4 846.1,444.3 846.7,456.0 847.3,447.9 847.9,447.6 848.5,441.8 849.1,455.1 849.7,457.0 850.3,450.4 850.9,441.3 851.5,418.6 852.1,410.8 852.7,434.2 853.3,449.3 853.9,449.8 854.5,444.5 855.1,450.2 855.7,443.4 856.3,427.1 856.9,423.0 857.5,433.7 858.1,446.6 858.7,449.0 859.3,454.0 859.9,444.4 860.5,448.1 861.1,437.3 861.7,420.5 862.3,423.3 862.9,427.2 863.5,445.5 864.1,445.7 864.7,426.9 865.3,407.9 865.9,415.0 866.5,431.4 867.1,452.2 867.7,449.4 868.3,451.6 868.9,438.6 869.5,428.4 870.1,432.5 870.7,436.1 871.3,442.5 871.9,453.5 872.5,444.8 873.1,455.7 873.7,453.8 874.3,448.9 874.9,437.8 875.5,415.4 876.1,403.6 876.7,385.6 877.3,383.9 877.9,403.4 878.5,423.9 879.1,443.6 879.7,451.5 880.3,451.3 880.9,455.2 881.5,452.5 882.1,448.4 882.7,435.9 883.3,426.0 883.9,405.4 884.5,410.0 885.1,416.4 885.7,425.1 886.3,432.0 886.9,439.3 887.5,433.8 888.1,422.9 888.7,427.8 889.3,444.2 889.9,439.6 890.5,432.3 891.1,422.5 891.7,424.0 892.3,435.6 892.9,441.3 893.5,447.9 894.1,453.5 894.7,450.3 895.3,451.5 895.9,453.4 896.5,447.3 897.1,430.7 897.7,402.9 898.3,403.5 898.9,410.9 899.5,435.1 900.1,445.9 900.7,437.6 901.3,417.7 901.9,405.0 902.5,388.9 903.1,398.5 903.7,419.0 904.3,433.2 904.9,442.9 905.5,451.6 906.1,452.0 906.7,447.8 907.3,446.3 907.9,456.3 908.5,451.7 909.1,449.8 909.7,450.5 910.3,458.2 910.9,458.7 911.5,458.3 912.1,458.8 912.7,458.6 913.3,458.2 913.9,458.1 914.5,458.1 915.1,458.0 915.7,456.4 916.3,452.1 916.9,448.8 917.5,451.2 918.1,456.1 918.7,457.7 919.3,458.3 919.9,458.4 920.5,458.5 921.1,458.4 921.7,458.4 922.3,458.6 922.9,458.4 923.5,458.9 924.1,458.6 924.7,458.5 925.3,458.5 925.9,456.8 926.5,457.4 927.1,455.6 927.7,457.5 928.3,453.3 928.9,444.2 929.5,421.2 930.1,414.7 930.7,428.2 931.3,447.2 931.9,455.6 932.5,453.8 933.1,448.3 933.7,436.4 934.3,443.7 934.9,447.0 935.5,452.9 936.1,453.3 936.7,457.5 937.3,456.0 937.9,458.7 938.5,453.7 939.1,449.0 939.7,440.1 940.3,421.9 940.9,412.1 941.5,417.1 942.1,438.0 942.7,448.5 943.3,450.8 943.9,452.8 944.5,452.4 945.1,441.3 945.7,424.9 946.3,421.9 946.9,418.2 947.5,429.7 948.1,440.2 948.7,449.2 949.3,450.5 949.9,451.0 950.5,458.7 951.1,458.6 951.7,458.4 952.3,459.1 952.9,458.2 953.5,458.2 954.1,458.1 954.7,458.9 955.3,458.9 955.9,458.3 956.5,458.6 957.1,458.8 957.7,458.9 958.3,457.8 958.9,454.6 959.5,450.3 960.1,449.0 960.7,451.5 961.3,455.9 961.9,458.0 962.5,458.6 963.1,458.4 963.7,457.6 964.3,454.9 964.9,451.5 965.5,447.9 966.1,446.5 966.7,448.3 967.3,452.7 967.9,456.5 968.5,457.9 969.1,458.4 969.7,459.0 970.3,457.9 970.9,457.3 971.5,456.5 972.1,453.1 972.7,449.6 973.3,447.0 973.9,446.9 974.5,449.9 975.1,453.0 975.7,456.2 976.3,457.5 976.9,458.0 977.5,458.5 978.1,458.7 978.7,458.9 979.3,458.4 979.9,458.4 980.5,458.0 981.1,457.4 981.7,454.4 982.3,449.0 982.9,446.3 983.5,448.4 984.1,452.2 984.7,456.6 985.3,457.7 985.9,457.4 986.5,455.0 987.1,451.3 987.7,446.5 988.3,446.5 988.9,450.4 989.5,454.9 990.1,457.8 990.7,457.9 991.3,458.4 991.9,458.4 992.5,458.4 993.1,458.9 993.7,458.2 994.3,458.4 994.9,458.9 995.5,458.7 996.1,458.9 996.7,458.7 997.3,458.1 997.9,458.7 998.5,458.7 999.1,458.3 999.7,459.0 1000.3,459.0 1000.9,458.3 1001.5,458.9 1002.1,458.5 1002.7,458.3 1003.3,458.5 1003.9,459.0 1004.5,458.9 1005.1,458.5 1005.7,458.1 1006.3,458.4 1006.9,458.4 1007.5,458.5 1008.1,458.6 1008.7,457.7 1009.3,456.2 1009.9,450.8 1010.5,441.5 1011.1,424.5 1011.7,422.8 1012.3,422.4 1012.9,425.9 1013.5,440.6 1014.1,441.6 1014.7,443.8 1015.3,424.6 1015.9,421.3 1016.5,422.6 1017.1,436.0 1017.7,442.9 1018.3,445.4 1018.9,437.5 1019.5,428.9 1020.1,423.8 1020.7,430.3 1021.3,434.9 1021.9,444.7 1022.5,447.6 1023.1,441.4 1023.7,438.3 1024.3,427.0 1024.9,424.8 1025.5,428.1 1026.1,441.6 1026.7,446.6 1027.3,446.6 1027.9,452.9 1028.5,451.5 1029.1,451.6 1029.7,457.4 1030.3,455.4 1030.9,440.1 1031.5,427.5 1032.1,415.3 1032.7,433.0 1033.3,447.3 1033.9,451.0 1034.5,454.6 1035.1,454.2 1035.7,448.7 1036.3,438.4 1036.9,428.1 1037.5,429.6 1038.1,443.1 1038.7,449.2 1039.3,454.9 1039.9,454.9 1040.5,455.4 1041.1,450.9 1041.7,442.8 1042.3,443.9 1042.9,435.7 1043.5,443.7 1044.1,445.0 1044.7,451.3 1045.3,446.1 1045.9,444.1 1046.5,424.1 1047.1,426.4 1047.7,437.3 1048.3,450.9 1048.9,455.8 1049.5,451.8 1050.1,450.0 1050.7,440.3 1051.3,436.3 1051.9,431.8 1052.5,428.6 1053.1,427.0 1053.7,437.6 1054.3,432.4 1054.9,422.4 1055.5,406.8 1056.1,401.4 1056.7,408.8 1057.3,418.4 1057.9,428.8 1058.5,440.7 1059.1,449.4 1059.7,455.2 1060.3,453.6 1060.9,449.8 1061.5,444.8 1062.1,440.8 1062.7,445.7 1063.3,451.6 1063.9,445.5 1064.5,453.6 1065.1,457.4 1065.7,451.8 1066.3,456.2 1066.9,456.1 1067.5,451.0 1068.1,454.6 1068.7,450.9 1069.3,446.5 1069.9,437.0 1070.5,444.6 1071.1,436.5 1071.7,441.7 1072.3,449.2 1072.9,455.4 1073.5,455.7 1074.1,456.3 1074.7,445.7 1075.3,453.6 1075.9,454.2 1076.5,448.1 1077.1,445.0 1077.7,435.4 1078.3,437.2 1078.9,446.0 1079.5,443.7 1080.1,454.9 1080.7,456.8 1081.3,455.6 1081.9,453.7 1082.5,446.6 1083.1,430.4 1083.7,414.6 1084.3,399.8 1084.9,400.9 1085.5,413.5 1086.1,434.0 1086.7,444.6 1087.3,449.6 1087.9,455.1 1088.5,451.1 1089.1,453.4 1089.7,446.5 1090.3,434.0 1090.9,427.1 1091.5,430.1 1092.1,441.9 1092.7,450.7 1093.3,451.8 1093.9,442.9 1094.5,435.2 1095.1,429.5 1095.7,435.7 1096.3,437.5 1096.9,437.0 1097.5,435.6 1098.1,434.7 1098.7,426.8 1099.3,435.2 1099.9,440.8 1100.5,451.3 1101.1,451.5 1101.7,443.2 1102.3,447.7 1102.9,446.2 1103.5,445.3 1104.1,447.3 1104.7,444.5 1105.3,448.5 1105.9,449.9 1106.5,456.3 1107.1,444.2 1107.7,448.6 1108.3,452.1 1108.9,446.1 1109.5,449.5 1110.1,445.0 1110.7,440.2 1111.3,441.8 1111.9,445.8 1112.5,452.9 1113.1,456.7 1113.7,455.5 1114.3,455.6 1114.9,456.2 1115.5,455.2 1116.1,456.5 1116.7,453.0 1117.3,450.8 1117.9,441.6 1118.5,431.4 1119.1,421.6 1119.7,432.7 1120.3,444.1 1120.9,441.0 1121.5,429.4 1122.1,425.4 1122.7,433.3 1123.3,448.0 1123.9,455.9 1124.5,452.8 1125.1,453.4 1125.7,450.8 1126.3,458.2 1126.9,453.3 1127.5,445.8 1128.1,451.0 1128.7,455.1 1129.3,456.2 1129.9,452.3 1130.5,458.5 1131.1,458.4 1131.7,458.7 1132.3,458.9 1132.9,458.8 1133.5,458.3 1134.1,458.4 1134.7,458.8 1135.3,458.1 1135.9,459.0 1136.5,458.8 1137.1,458.6 1137.7,458.3 1138.3,458.5 1138.9,458.4 1139.5,458.1 1140.1,458.7 1140.7,458.9 1141.3,458.7 1141.9,458.5 1142.5,458.9 1143.1,459.0 1143.7,458.4 1144.3,458.1 1144.9,458.1 1145.5,457.9 1146.1,453.8 1146.7,445.6 1147.3,431.0 1147.9,423.8 1148.5,429.4 1149.1,439.6 1149.7,444.3 1150.3,454.9 1150.9,453.2 1151.5,454.0 1152.1,455.1 1152.7,451.9 1153.3,436.0 1153.9,413.7 1154.5,396.2 1155.1,405.6 1155.7,430.1 1156.3,445.1 1156.9,454.7 1157.5,455.4 1158.1,455.5 1158.7,458.9 1159.3,455.1 1159.9,457.8 1160.5,459.1 1161.1,458.4 1161.7,458.7 1162.3,458.6 1162.9,458.6 1163.5,458.4 1164.1,458.6 1164.7,458.5 1165.3,458.9 1165.9,459.0 1166.5,458.4 1167.1,458.1 1167.7,459.0 1168.3,458.2 1168.9,458.7 1169.5,458.4 1170.1,458.8 1170.7,458.4 1171.3,458.6 1171.9,458.3 1172.5,458.8 1173.1,458.5 1173.7,457.5 1174.3,456.2 1174.9,452.3 1175.5,449.7 1176.1,448.4 1176.7,451.0 1177.3,453.6 1177.9,456.8 1178.5,458.3 1179.1,458.5 1179.7,458.6 1180.3,458.5 1180.9,458.4 1181.5,458.0 1182.1,455.7 1182.7,452.8 1183.3,448.8 1183.9,446.1 1184.5,447.3 1185.1,450.6 1185.7,453.3 1186.3,453.6 1186.9,451.8 1187.5,448.1 1188.1,447.6 1188.7,449.5 1189.3,453.3 1189.9,456.2 1190.5,457.7 1191.1,458.8 1191.7,458.3 1192.3,459.5 1192.9,459.3 1193.5,459.5 1194.1,459.2 1194.7,459.5 1195.3,459.2 1195.9,459.2 1196.5,459.5 1197.1,459.4 1197.7,459.4 1198.3,459.3 1198.9,459.2 1199.5,459.6 1200.1,459.5 1200.7,459.2 1201.3,459.5 1201.9,459.2 1202.5,459.4 1203.1,459.5 1203.7,459.2 1204.3,459.4 1204.9,459.1 1205.5,459.1 1206.1,459.1 1206.7,459.1 1207.3,459.5 1207.9,459.6 1208.5,459.4 1209.1,459.4 1209.7,459.4 1210.3,459.3 1210.9,459.2 1211.5,459.2 1212.1,459.1 1212.7,459.2 1213.3,459.1 1213.9,459.5 1214.5,459.6 1215.1,459.3 1215.7,459.1 1216.3,459.4 1216.9,459.5 1217.5,459.5 1218.1,459.5 1218.7,459.1 1219.3,459.4 1219.9,459.1 1220.5,459.1 1221.1,459.2 1221.7,459.1 1222.3,459.4 1222.9,459.5 1223.5,459.4 1224.1,459.6 1224.7,459.1 1225.3,459.5 1225.9,459.3 1226.5,459.4 1227.1,459.3 1227.7,459.4 1228.3,459.2 1228.9,459.5 1229.5,459.4 1230.1,459.5 1230.7,459.4 1231.3,459.2 1231.9,459.1 1232.5,459.6 1233.1,459.2 1233.7,459.2 1234.3,459.5 1234.9,459.5 1235.5,459.1 1236.1,459.5 1236.7,459.1 1237.3,459.3 1237.9,459.1 1238.5,459.3 1239.1,459.5 1239.7,459.3 1240.3,459.3 1240.9,459.5 1241.5,459.2 1242.1,459.1 1242.7,459.1 1243.3,459.2 1243.9,459.3 1244.5,459.5 1245.1,459.1 1245.7,459.2 1246.3,459.2 1246.9,459.2 1247.5,459.2 1248.1,459.4 1248.7,459.5 1249.3,459.1 1249.9,459.5 1250.5,459.4 1251.1,459.3 1251.7,459.5 1252.3,459.4 1252.9,459.1 1253.5,459.3 1254.1,459.3 1254.7,459.6 1255.3,459.4 1255.9,459.5 1256.5,459.4 1257.1,459.4 1257.7,459.4 1258.3,459.4 1258.9,459.2 1259.5,459.3 1260.1,459.1 1260.7,459.4 1261.3,459.5 1261.9,459.4 1262.5,459.1 1263.1,459.4 1263.7,459.2 1264.3,459.2 1264.9,459.4 1265.5,459.5 1266.1,459.5 1266.7,459.3 1267.3,459.2 1267.9,459.4 1268.5,459.1 1269.1,459.6 1269.7,459.2 1270.3,459.5 1270.9,459.1 1271.5,459.5 1272.1,459.1 1272.7,459.4 1273.3,459.4 1273.9,459.5 1274.5,459.5 1275.1,459.4 1275.7,459.1 1276.3,459.1 1276.9,459.5 1277.5,459.3 1278.1,459.5 1278.7,459.5 1279.3,459.3 1279.9,459.3 1280.5,459.1 1281.1,459.1 1281.7,459.5 1282.3,459.3 1282.9,459.2 1283.5,459.2 1284.1,459.3 1284.7,459.3 1285.3,459.3 1285.9,459.4 1286.5,459.3 1287.1,459.1 1287.7,459.4 1288.3,459.3 1288.9,459.4 1289.5,459.1 1290.1,459.4 1290.7,459.3 1291.3,459.2 1291.9,459.4 1292.5,459.1 1293.1,459.3 1293.7,459.5 1294.3,459.4 1294.9,459.5 1295.5,459.3 1296.1,459.4 1296.7,459.4 1297.3,459.2 1297.9,459.1 1298.5,459.2 1299.1,459.2 1299.7,459.1 1300.3,459.1 1300.9,459.5 1301.5,459.1 1302.1,459.5 1302.7,459.4 1303.3,459.2 1303.9,459.5 1304.5,459.1 1305.1,459.1 1305.7,459.6 1306.3,459.3 1306.9,459.1 1307.5,459.3 1308.1,459.3 1308.7,459.3 1309.3,459.3 1309.9,459.3 1310.5,459.2 1311.1,459.1 1311.7,459.5 1312.3,459.5 1312.9,459.6 1313.5,459.5 1314.1,459.5 1314.7,459.1 1315.3,459.4 1315.9,459.3 1316.5,459.4 1317.1,459.1 1317.7,459.5 1318.3,459.4 1318.9,459.4 1319.5,459.5 1320.1,459.5 1320.7,459.4 1321.3,459.5 1321.9,459.6 1322.5,459.1 1323.1,459.4 1323.7,459.6 1324.3,459.3 1324.9,459.3 1325.5,459.2 1326.1,459.4 1326.7,459.5 1327.3,459.3 1327.9,459.4 1328.5,459.1 1329.1,459.4 1329.7,459.5 1330.3,459.5 1330.9,459.4 1331.5,459.4 1332.1,459.3 1332.7,459.4 1333.3,459.1 1333.9,459.5 1334.5,459.1 1335.1,459.4 1335.7,459.3 1336.3,459.1 1336.9,459.2 1337.5,459.1 1338.1,459.3 1338.7,459.4 1339.3,459.2 1339.9,459.2 1340.5,459.5 1341.1,459.5 1341.7,459.1 1342.3,459.2 1342.9,459.2 1343.5,459.5 1344.1,459.1 1344.7,459.4 1345.3,459.5 1345.9,459.4 1346.5,459.4 1347.1,459.5 1347.7,459.2 1348.3,459.1 1348.9,459.5 1349.5,459.3 1350.1,459.1 1350.7,459.4 1351.3,459.3 1351.9,459.4 1352.5,459.3 1353.1,459.4 1353.7,459.2 1354.3,459.5 1354.9,459.5 1355.5,459.1 1356.1,459.5 1356.7,459.3 1357.3,459.2 1357.9,459.4 1358.5,459.1 1359.1,459.4 1359.7,459.5 1360.3,459.5 1360.9,459.1 1361.5,459.5 1362.1,459.1 1362.7,459.3 1363.3,459.1 1363.9,459.5 1364.5,459.1 1365.1,459.1 1365.7,459.2 1366.3,459.5 1366.9,459.1 1367.5,459.2 1368.1,459.5 1368.7,459.1 1369.3,459.5 1369.9,459.5 1370.5,459.6 1371.1,459.3 1371.7,459.4 1372.3,459.5 1372.9,459.3 1373.5,459.1 1374.1,459.5 1374.7,459.3 1375.3,459.5 1375.9,459.3 1376.5,459.4 1377.1,459.4 1377.7,459.6 1378.3,459.3 1378.9,459.3 1379.5,459.2 1380.1,459.5 1380.7,459.1 1381.3,459.6 1381.9,459.5 1382.5,459.3 1383.1,459.5 1383.7,459.4 1384.3,459.3 1384.9,459.2 1385.5,459.1 1386.1,459.4 1386.7,459.2 1387.3,459.6 1387.9,459.1 1388.5,459.2 1389.1,459.1 1389.7,459.5 1390.3,459.3 1390.9,459.2 1391.5,459.6 1392.1,459.2 1392.7,459.2 1393.3,459.2 1393.9,459.5 1394.5,459.2 1395.1,459.3 1395.7,459.5 1396.3,459.5 1396.9,459.1 1397.5,459.4 1398.1,459.4 1398.7,459.4 1399.3,459.2 1399.9,459.5 1400.5,459.5 1401.1,459.2 1401.7,459.1 1402.3,459.2 1402.9,459.1 1403.5,459.4 1404.1,459.4 1404.7,459.4 1405.3,459.4 1405.9,459.4 1406.5,459.2 1407.1,459.4 1407.7,459.4 1408.3,459.3 1408.9,459.1 1409.5,459.4 1410.1,459.2 1410.7,459.4 1411.3,459.2 1411.9,459.4 1412.5,459.6 1413.1,459.3 1413.7,459.4 1414.3,459.4 1414.9,459.4 1415.5,459.6 1416.1,459.2 1416.7,459.3 1417.3,459.3 1417.9,459.3 1418.5,459.4 1419.1,459.3 1419.7,459.3 1420.3,459.1 1420.9,459.4 1421.5,459.5 1422.1,459.5 1422.7,459.4 1423.3,459.3 1423.9,459.3 1424.5,459.2 1425.1,459.2 1425.7,459.5 1426.3,459.4 1426.9,459.4 1427.5,459.5 1428.1,459.3 1428.7,459.2 1429.3,459.5 1429.9,459.3 1430.5,459.5 1431.1,459.2 1431.7,459.3 1432.3,459.5 1432.9,459.3 1433.5,459.4 1434.1,459.5 1434.7,459.2 1435.3,459.4 1435.9,459.1 1436.5,459.1 1437.1,459.1 1437.7,459.4 1438.3,459.1 1438.9,459.5 1439.5,459.2 1440.1,459.4 1440.7,459.1 1441.3,459.6 1441.9,459.3 1442.5,459.5 1443.1,459.4 1443.7,459.3 1444.3,459.5 1444.9,459.2 1445.5,459.3 1446.1,459.5 1446.7,459.3 1447.3,459.3 1447.9,459.5 1448.5,459.2 1449.1,459.2 1449.7,459.1 1450.3,459.1 1450.9,459.4 1451.5,459.2 1452.1,459.3 1452.7,459.5 1453.3,459.2 1453.9,459.4 1454.5,459.4 1455.1,459.3 1455.7,459.3 1456.3,459.4 1456.9,459.1 1457.5,459.5 1458.1,459.3 1458.7,459.5 1459.3,459.1 1459.9,459.1 1460.5,459.2 1461.1,459.1 1461.7,459.2 1462.3,459.2 1462.9,459.2 1463.5,459.1 1464.1,459.5 1464.7,459.2 1465.3,459.5 1465.9,459.3 1466.5,459.4 1467.1,459.3 1467.7,459.3 1468.3,459.1 1468.9,459.2 1469.5,459.5 1470.1,459.5 1470.7,459.5 1471.3,459.2 1471.9,459.4 1472.5,459.1 1473.1,459.5 1473.7,459.1 1474.3,459.2 1474.9,459.2 1475.5,459.3 1476.1,459.1 1476.7,459.5 1477.3,459.1 1477.9,459.1 1478.5,459.3 1479.1,459.2 1479.7,459.5 1480.3,459.3 1480.9,459.3 1481.5,459.4 1482.1,459.5 1482.7,459.1 1483.3,459.2 1483.9,459.4 1484.5,459.3 1485.1,459.3 1485.7,459.1 1486.3,459.3 1486.9,459.2 1487.5,459.2 1488.1,459.5 1488.7,459.3 1489.3,459.1 1489.9,459.2 1490.5,459.1 1491.1,459.5 1491.7,459.2 1492.3,459.4 1492.9,459.1 1493.5,459.2 1494.1,459.4 1494.7,459.2 1495.3,459.0 1495.9,458.3 1496.5,457.6 1497.1,456.8 1497.7,455.7 1498.3,456.0 1498.9,456.7 1499.5,457.6 1500.1,458.5 1500.7,459.2 1501.3,459.3 1501.9,459.4 1502.5,459.4 1503.1,459.3 1503.7,459.5 1504.3,459.5 1504.9,459.4 1505.5,459.2 1506.1,459.1 1506.7,459.2 1507.3,459.5 1507.9,459.2 1508.5,459.2 1509.1,459.2 1509.7,459.2 1510.3,459.4 1510.9,459.3 1511.5,459.3 1512.1,459.5 1512.7,459.3 1513.3,459.4 1513.9,458.9 1514.5,458.7 1515.1,457.9 1515.7,457.4 1516.3,456.3 1516.9,456.2 1517.5,456.9 1518.1,457.9 1518.7,458.6 1519.3,459.0 1519.9,459.3 1520.5,459.4 1521.1,459.2 1521.7,459.1 1522.3,459.4 1522.9,459.0 1523.5,459.1 1524.1,458.2 1524.7,457.4 1525.3,456.2 1525.9,455.7 1526.5,456.2 1527.1,457.1 1527.7,457.7 1528.3,458.7 1528.9,458.7 1529.5,458.6 1530.1,457.6 1530.7,456.7 1531.3,455.6 1531.9,455.7 1532.5,456.5 1533.1,457.6 1533.7,458.6 1534.3,459.2 1534.9,459.1 1535.5,459.4 1536.1,459.1 1536.7,459.5 1537.3,459.1 1537.9,459.5 1538.5,459.4 1539.1,459.4 1539.7,459.4 1540.3,459.4 1540.9,459.2 1541.5,459.5 1542.1,459.4 1542.7,459.5 1543.3,459.2 1543.9,459.5 1544.5,459.3 1545.1,459.1 1545.7,459.4 1546.3,459.5 1546.9,459.4 1547.5,459.1 1548.1,459.5 1548.7,459.1 1549.3,459.5 1549.9,459.5 1550.5,459.2 1551.1,459.3 1551.7,459.4 1552.3,459.2 1552.9,459.5 1553.5,459.1 1554.1,459.3 1554.7,459.1 1555.3,459.3 1555.9,459.3 1556.5,459.1 1557.1,459.3 1557.7,459.5 1558.3,459.3 1558.9,459.4 1559.5,459.3 1560.1,459.1 1560.7,459.3 1561.3,459.2 1561.9,459.4 1562.5,459.6 1563.1,459.5 1563.7,459.6 1564.3,459.5 1564.9,459.4 1565.5,459.4 1566.1,459.2 1566.7,459.2 1567.3,459.2 1567.9,459.2 1568.5,459.1 1569.1,459.2 1569.7,459.3 1570.3,459.4 1570.9,459.5 1571.5,459.6 1572.1,459.1 1572.7,459.5 1573.3,459.1 1573.9,459.4 1574.5,459.5 1575.1,459.2 1575.7,459.2 1576.3,459.1 1576.9,459.3 1577.5,459.1 1578.1,459.3 1578.7,459.4 1579.3,459.4 1579.9,459.2 1580.5,459.1 1581.1,459.2 1581.7,459.1 1582.3,459.3 1582.9,459.3 1583.5,459.3 1584.1,459.1 1584.7,459.4 1585.3,459.5 1585.9,459.4 1586.5,459.2 1587.1,459.2 1587.7,459.1 1588.3,459.2 1588.9,459.2 1589.5,459.2 1590.1,459.2 1590.7,459.3 1591.3,459.1 1591.9,459.1 1592.5,459.6 1593.1,459.5 1593.7,459.1 1594.3,459.2 1594.9,459.5 1595.5,459.1 1596.1,459.5 1596.7,459.3 1597.3,459.4 1597.9,459.4 1598.5,459.4 1599.1,459.5 1599.7,459.4 1600.3,459.5 1600.9,459.3 1601.5,459.4 1602.1,459.2 1602.7,459.1 1603.3,459.1 1603.9,459.2 1604.5,459.2 1605.1,459.5 1605.7,459.1 1606.3,459.3 1606.9,459.3 1607.5,459.2 1608.1,459.5 1608.7,459.3 1609.3,459.5 1609.9,459.1 1610.5,459.3 1611.1,459.5 1611.7,459.1 1612.3,459.3 1612.9,459.2 1613.5,459.2 1614.1,459.2 1614.7,459.3 1615.3,459.4 1615.9,459.5 1616.5,459.3 1617.1,459.5 1617.7,459.4 1618.3,459.1 1618.9,459.1 1619.5,459.2 1620.1,459.5 1620.7,459.1 1621.3,459.5 1621.9,459.1 1622.5,459.2 1623.1,459.1 1623.7,459.1 1624.3,459.3 1624.9,459.4 1625.5,459.1 1626.1,459.4 1626.7,459.4 1627.3,459.3 1627.9,459.5 1628.5,459.3 1629.1,459.5 1629.7,459.3 1630.3,459.1 1630.9,459.1 1631.5,459.1 1632.1,459.2 1632.7,459.2 1633.3,459.4 1633.9,459.1 1634.5,459.5 1635.1,459.5 1635.7,459.5 1636.3,459.4 1636.9,459.5 1637.5,459.2 1638.1,459.5 1638.7,459.2 1639.3,459.3 1639.9,459.2 1640.5,459.2 1641.1,459.2 1641.7,459.3 1642.3,459.3 1642.9,459.4 1643.5,459.3 1644.1,459.5 1644.7,459.1 1645.3,459.1 1645.9,459.5 1646.5,459.6 1647.1,459.4 1647.7,459.3 1648.3,459.3 1648.9,459.4 1649.5,459.3 1650.1,459.4 1650.7,459.4 1651.3,459.5 1651.9,459.3 1652.5,459.5 1653.1,459.1 1653.7,459.3 1654.3,459.4 1654.9,459.2 1655.5,459.1 1656.1,459.5 1656.7,459.4 1657.3,459.1 1657.9,459.1 1658.5,459.4 1659.1,459.4 1659.7,459.2 1660.3,459.5 1660.9,459.5 1661.5,459.3 1662.1,459.3 1662.7,459.3 1663.3,459.2 1663.9,459.1 1664.5,459.4 1665.1,459.4 1665.7,459.1 1666.3,459.4 1666.9,459.1 1667.5,459.2 1668.1,459.2 1668.7,459.3 1669.3,459.5 1669.9,459.2 1670.5,459.3 1671.1,459.5 1671.7,459.5 1672.3,459.4 1672.9,459.5 1673.5,459.5 1674.1,459.2 1674.7,459.1 1675.3,459.1 1675.9,459.3 1676.5,459.3 1677.1,459.5 1677.7,459.5 1678.3,459.2 1678.9,459.3 1679.5,459.3 1680.1,459.2 1680.7,459.2 1681.3,459.2 1681.9,459.6 1682.5,459.3 1683.1,459.2 1683.7,459.2 1684.3,459.1 1684.9,459.3 1685.5,459.3 1686.1,459.6 1686.7,459.3 1687.3,459.3 1687.9,459.1 1688.5,459.1 1689.1,459.5 1689.7,459.5 1690.3,459.4 1690.9,459.2 1691.5,459.5 1692.1,459.2 1692.7,459.3 1693.3,459.1 1693.9,459.3 1694.5,458.9 1695.1,458.5 1695.7,457.3 1696.3,456.1 1696.9,455.7 1697.5,455.9 1698.1,456.7 1698.7,457.8 1699.3,458.8 1699.9,458.9 1700.5,459.2 1701.1,459.4 1701.7,459.5 1702.3,459.2 1702.9,459.3 1703.5,459.3 1704.1,459.5 1704.7,459.1 1705.3,458.9 1705.9,458.7 1706.5,458.0 1707.1,456.8 1707.7,456.1 1708.3,456.5 1708.9,457.0 1709.5,457.9 1710.1,458.8 1710.7,459.1 1711.3,459.2 1711.9,459.4 1712.5,459.3 1713.1,458.9 1713.7,458.6 1714.3,458.0 1714.9,457.2 1715.5,456.4 1716.1,456.1 1716.7,456.8 1717.3,458.1 1717.9,458.6 1718.5,459.3 1719.1,459.1 1719.7,459.1 1720.3,459.5 1720.9,459.4 1721.5,459.4 1722.1,459.5 1722.7,459.2 1723.3,459.4 1723.9,459.6 1724.5,459.5 1725.1,459.2 1725.7,459.2 1726.3,459.6 1726.9,459.3 1727.5,459.3 1728.1,459.3 1728.7,459.2 1729.3,459.2 1729.9,459.4 1730.5,459.1 1731.1,459.3 1731.7,459.5 1732.3,459.2 1732.9,459.4 1733.5,459.3 1734.1,459.4 1734.7,459.3 1735.3,459.3 1735.9,459.2 1736.5,459.4 1737.1,459.2 1737.7,459.5 1738.3,459.2 1738.9,459.5 1739.5,459.5 1740.1,459.5 1740.7,459.3 1741.3,459.4 1741.9,459.3 1742.5,459.4 1743.1,459.3 1743.7,459.1 1744.3,459.1 1744.9,459.5 1745.5,459.1 1746.1,459.3 1746.7,459.2 1747.3,459.1 1747.9,459.5 1748.5,459.4 1749.1,459.1 1749.7,459.3 1750.3,459.1 1750.9,459.2 1751.5,459.1 1752.1,459.2 1752.7,459.5 1753.3,459.1 1753.9,459.3 1754.5,459.1 1755.1,458.3 1755.7,457.4 1756.3,456.4 1756.9,455.6 1757.5,455.7 1758.1,457.0 1758.7,458.0 1759.3,458.7 1759.9,459.2 1760.5,459.3 1761.1,459.1 1761.7,459.5 1762.3,459.3 1762.9,459.5 1763.5,459.2 1764.1,459.5 1764.7,459.2 1765.3,459.4 1765.9,459.1 1766.5,459.4 1767.1,459.3 1767.7,459.5 1768.3,459.4 1768.9,459.4 1769.5,459.1 1770.1,459.3 1770.7,459.2 1771.3,459.1 1771.9,459.5 1772.5,459.4 1773.1,459.2 1773.7,459.2 1774.3,459.3 1774.9,459.4 1775.5,459.3 1776.1,459.6 1776.7,459.5 1777.3,459.4 1777.9,459.5 1778.5,459.5 1779.1,459.2 1779.7,459.2 1780.3,459.2 1780.9,459.3 1781.5,459.1 1782.1,459.5 1782.7,459.3 1783.3,459.4 1783.9,459.1 1784.5,459.4 1785.1,459.4 1785.7,459.2 1786.3,459.2 1786.9,459.2 1787.5,459.2 1788.1,459.5 1788.7,459.3 1789.3,459.3 1789.9,459.1 1790.5,459.4 1791.1,459.4 1791.7,459.4 1792.3,459.3 1792.9,459.1 1793.5,459.2 1794.1,459.2 1794.7,459.3 1795.3,459.4 1795.9,459.1 1796.5,459.3 1797.1,459.5 1797.7,459.2 1798.3,459.5 1798.9,459.4 1799.5,459.3 1800.1,459.2 1800.7,459.6 1801.3,459.2 1801.9,459.5 1802.5,459.3 1803.1,459.3 1803.7,459.3 1804.3,459.4 1804.9,459.3 1805.5,459.1 1806.1,459.4 1806.7,459.3 1807.3,459.5 1807.9,459.4 1808.5,459.5 1809.1,459.1 1809.7,459.4 1810.3,459.1 1810.9,459.5 1811.5,459.2 1812.1,459.3 1812.7,459.2 1813.3,459.2 1813.9,459.5 1814.5,459.2 1815.1,459.6 1815.7,459.4 1816.3,459.1 1816.9,459.3 1817.5,459.1 1818.1,459.1 1818.7,459.4 1819.3,459.4 1819.9,459.5 1820.5,459.5 1821.1,459.2 1821.7,459.2 1822.3,459.5 1822.9,459.3 1823.5,459.2 1824.1,459.3 1824.7,459.4 1825.3,459.1 1825.9,459.4 1826.5,459.4 1827.1,459.3 1827.7,459.4 1828.3,459.4 1828.9,459.3 1829.5,459.5 1830.1,459.3 1830.7,459.3 1831.3,459.2 1831.9,459.4 1832.5,459.5 1833.1,459.2 1833.7,459.4 1834.3,457.5 1834.9,458.7 1835.5,458.3 1836.1,458.0 1836.7,454.8 1837.3,448.4 1837.9,444.1 1838.5,448.0 1839.1,455.4 1839.7,458.4 1840.3,458.7 1840.9,458.6 1841.5,458.9 1842.1,458.1 1842.7,458.8 1843.3,459.0 1843.9,458.4 1844.5,458.9 1845.1,458.8 1845.7,458.7 1846.3,458.8 1846.9,458.4 1847.5,458.9 1848.1,458.4 1848.7,459.0 1849.3,458.5 1849.9,458.1 1850.5,458.3 1851.1,458.1 1851.7,458.5 1852.3,458.9 1852.9,458.7 1853.5,458.3 1854.1,458.9 1854.7,458.4 1855.3,458.8 1855.9,458.2 1856.5,458.7 1857.1,458.8 1857.7,458.8 1858.3,458.5 1858.9,458.1 1859.5,458.5 1860.1,458.3 1860.7,458.5 1861.3,458.0 1861.9,450.3 1862.5,424.4 1863.1,389.0 1863.7,389.1 1864.3,423.4 1864.9,444.3 1865.5,439.6 1866.1,426.0 1866.7,423.0 1867.3,434.9 1867.9,448.7 1868.5,456.1 1869.1,458.2 1869.7,457.9 1870.3,453.4 1870.9,434.7 1871.5,409.3 1872.1,415.7 1872.7,442.4 1873.3,455.6 1873.9,457.9 1874.5,456.9 1875.1,455.1 1875.7,451.2 1876.3,451.6 1876.9,454.5 1877.5,457.1 1878.1,458.6 1878.7,458.7 1879.3,458.2 1879.9,458.5 1880.5,459.3 1881.1,459.4 1881.7,459.4 1882.3,459.4 1882.9,459.3 1883.5,459.2 1884.1,459.4 1884.7,459.4 1885.3,459.3 1885.9,459.2 1886.5,459.4 1887.1,459.5 1887.7,459.3 1888.3,459.3 1888.9,459.1 1889.5,459.3 1890.1,459.5 1890.7,459.2 1891.3,459.5 1891.9,459.4 1892.5,459.5 1893.1,459.3 1893.7,459.5 1894.3,459.1 1894.9,459.5 1895.5,459.1 1896.1,459.1 1896.7,459.3 1897.3,459.3 1897.9,459.4 1898.5,459.2 1899.1,459.5 1899.7,459.4 1900.3,459.5 1900.9,459.4 1901.5,459.5 1902.1,459.1 1902.7,459.3 1903.3,459.5 1903.9,459.4 1904.5,459.5 1905.1,459.5 1905.7,459.5 1906.3,459.2 1906.9,459.5 1907.5,459.2 1908.1,459.1 1908.7,459.1 1909.3,459.5 1909.9,459.2 1910.5,459.3 1911.1,459.1 1911.7,459.4 1912.3,459.3 1912.9,459.3 1913.5,459.5 1914.1,459.3 1914.7,459.2 1915.3,459.2 1915.9,459.1 1916.5,459.6 1917.1,459.2 1917.7,459.4 1918.3,459.2 1918.9,459.5 1919.5,459.4 1920.1,459.4 1920.7,459.2 1921.3,459.3 1921.9,459.2 1922.5,459.6 1923.1,459.4 1923.7,459.2 1924.3,459.4 1924.9,459.2 1925.5,459.4 1926.1,459.2 1926.7,459.5 1927.3,459.1 1927.9,459.5 1928.5,459.4 1929.1,459.4 1929.7,459.4 1930.3,459.3 1930.9,459.3 1931.5,459.2 1932.1,459.1 1932.7,459.2 1933.3,459.2 1933.9,459.5 1934.5,459.5 1935.1,459.6 1935.7,459.5 1936.3,459.2 1936.9,459.5 1937.5,459.4 1938.1,459.4 1938.7,459.5 1939.3,459.4 1939.9,459.4 1940.5,459.4 1941.1,459.5 1941.7,459.6 1942.3,459.1 1942.9,459.2 1943.5,459.2 1944.1,459.4 1944.7,459.1 1945.3,459.2 1945.9,459.4 1946.5,459.4 1947.1,459.2 1947.7,459.6 1948.3,459.3 1948.9,459.1 1949.5,459.1 1950.1,459.1 1950.7,459.4 1951.3,459.6 1951.9,459.4 1952.5,459.4 1953.1,459.3 1953.7,459.2 1954.3,459.1 1954.9,459.4 1955.5,459.4 1956.1,459.5 1956.7,459.2 1957.3,459.3 1957.9,459.5 1958.5,459.3 1959.1,459.3 1959.7,459.2 1960.3,459.5 1960.9,459.3 1961.5,459.3 1962.1,459.5 1962.7,459.5 1963.3,459.4 1963.9,459.4 1964.5,459.3 1965.1,459.2 1965.7,459.1 1966.3,459.5 1966.9,459.1 1967.5,459.4 1968.1,459.2 1968.7,459.4 1969.3,459.2 1969.9,459.2 1970.5,459.6 1971.1,459.1 1971.7,459.5 1972.3,459.3 1972.9,459.5 1973.5,459.3 1974.1,459.5 1974.7,459.3 1975.3,459.2 1975.9,459.3 1976.5,459.2 1977.1,459.4 1977.7,459.2 1978.3,459.3 1978.9,459.1 1979.5,459.5 1980.1,459.1 1980.7,459.5 1981.3,459.0 1981.9,459.0 1982.5,457.7 1983.1,456.1 1983.7,453.2 1984.3,451.0 1984.9,449.8 1985.5,450.0 1986.1,452.4 1986.7,455.0 1987.3,457.1 1987.9,458.7 1988.5,459.3 1989.1,459.1 1989.7,459.1 1990.3,459.5 1990.9,459.1 1991.5,459.6 1992.1,459.2 1992.7,459.3 1993.3,459.4 1993.9,459.4 1994.5,459.4 1995.1,459.3 1995.7,459.3 1996.3,459.5 1996.9,459.6 1997.5,459.3 1998.1,458.3 1998.7,458.8 1999.3,458.3 1999.9,458.1" fill="none" stroke="#111" stroke-width="3.2" stroke-linejoin="round" />
<line x1="812.50" y1="111.90" x2="2000.00" y2="111.90" stroke="#dc2a1a" stroke-width="3.8" stroke-dasharray="13.4 5.6"/>
<line x1="812.50" y1="282.40" x2="2000.00" y2="282.40" stroke="#dc2a1a" stroke-width="3.8" stroke-dasharray="13.4 5.6"/>
<line x1="811.00" y1="47.80" x2="811.00" y2="137.75" stroke="#111" stroke-width="3" />
<line x1="811.00" y1="212.05" x2="811.00" y2="302.00" stroke="#111" stroke-width="3" />
<line x1="811.00" y1="376.30" x2="811.00" y2="463.00" stroke="#111" stroke-width="3" />
<line x1="809.50" y1="462.70" x2="2000.00" y2="462.70" stroke="#111" stroke-width="3" />
<line x1="803.80" y1="77.10" x2="811.00" y2="77.10" stroke="#111" stroke-width="3" />
<text x="790.50" y="87.55" font-family="'DejaVu Sans', sans-serif" font-size="28.7" fill="#111" text-anchor="end" font-weight="normal" >2</text>
<line x1="803.80" y1="103.30" x2="811.00" y2="103.30" stroke="#111" stroke-width="3" />
<text x="790.50" y="113.75" font-family="'DejaVu Sans', sans-serif" font-size="28.7" fill="#111" text-anchor="end" font-weight="normal" >0</text>
<line x1="803.80" y1="129.50" x2="811.00" y2="129.50" stroke="#111" stroke-width="3" />
<text x="790.50" y="139.95" font-family="'DejaVu Sans', sans-serif" font-size="28.7" fill="#111" text-anchor="end" font-weight="normal" >−2</text>
<line x1="803.80" y1="218.30" x2="811.00" y2="218.30" stroke="#111" stroke-width="3" />
<text x="790.50" y="228.75" font-family="'DejaVu Sans', sans-serif" font-size="28.7" fill="#111" text-anchor="end" font-weight="normal" >4</text>
<line x1="803.80" y1="268.30" x2="811.00" y2="268.30" stroke="#111" stroke-width="3" />
<text x="790.50" y="278.75" font-family="'DejaVu Sans', sans-serif" font-size="28.7" fill="#111" text-anchor="end" font-weight="normal" >2</text>
<line x1="803.80" y1="399.05" x2="811.00" y2="399.05" stroke="#111" stroke-width="3" />
<text x="790.50" y="409.50" font-family="'DejaVu Sans', sans-serif" font-size="28.7" fill="#111" text-anchor="end" font-weight="normal" >50</text>
<line x1="803.80" y1="460.30" x2="811.00" y2="460.30" stroke="#111" stroke-width="3" />
<text x="790.50" y="470.75" font-family="'DejaVu Sans', sans-serif" font-size="28.7" fill="#111" text-anchor="end" font-weight="normal" >0</text>
<line x1="1029.70" y1="462.70" x2="1029.70" y2="471.20" stroke="#111" stroke-width="3" />
<text x="1029.70" y="506.30" font-family="'DejaVu Sans', sans-serif" font-size="28.7" fill="#111" text-anchor="middle" font-weight="normal" >2800</text>
<line x1="1279.00" y1="462.70" x2="1279.00" y2="471.20" stroke="#111" stroke-width="3" />
<text x="1279.00" y="506.30" font-family="'DejaVu Sans', sans-serif" font-size="28.7" fill="#111" text-anchor="middle" font-weight="normal" >3000</text>
<line x1="1528.30" y1="462.70" x2="1528.30" y2="471.20" stroke="#111" stroke-width="3" />
<text x="1528.30" y="506.30" font-family="'DejaVu Sans', sans-serif" font-size="28.7" fill="#111" text-anchor="middle" font-weight="normal" >3200</text>
<line x1="1777.60" y1="462.70" x2="1777.60" y2="471.20" stroke="#111" stroke-width="3" />
<text x="1777.60" y="506.30" font-family="'DejaVu Sans', sans-serif" font-size="28.7" fill="#111" text-anchor="middle" font-weight="normal" >3400</text>
<text x="1405.00" y="552.70" font-family="'DejaVu Sans', sans-serif" font-size="36" fill="#111" text-anchor="middle" font-weight="normal" >Time (s)</text>
<text x="628.80" y="91.90" font-family="'DejaVu Sans', sans-serif" font-size="36" fill="#111" text-anchor="middle" font-weight="normal" transform="rotate(-90 628.80 91.90)" >LFP</text>
<text x="669.00" y="94.50" font-family="'DejaVu Sans', sans-serif" font-size="36" fill="#111" text-anchor="middle" font-weight="normal" transform="rotate(-90 669.00 94.50)" >Amp.</text>
<text x="709.10" y="93.00" font-family="'DejaVu Sans', sans-serif" font-size="36" fill="#111" text-anchor="middle" font-weight="normal" transform="rotate(-90 709.10 93.00)" >(z)</text>
<text x="669.00" y="259.50" font-family="'DejaVu Sans', sans-serif" font-size="36" fill="#111" text-anchor="middle" font-weight="normal" transform="rotate(-90 669.00 259.50)" >Theta/Alpha</text>
<text x="709.10" y="256.30" font-family="'DejaVu Sans', sans-serif" font-size="36" fill="#111" text-anchor="middle" font-weight="normal" transform="rotate(-90 709.10 256.30)" >Ratio</text>
<text x="669.00" y="421.00" font-family="'DejaVu Sans', sans-serif" font-size="36" fill="#111" text-anchor="middle" font-weight="normal" transform="rotate(-90 669.00 421.00)" >Speed</text>
<text x="709.10" y="420.40" font-family="'DejaVu Sans', sans-serif" font-size="36" fill="#111" text-anchor="middle" font-weight="normal" transform="rotate(-90 709.10 420.40)" >(cm/s)</text>
<text x="1445.00" y="185.00" font-family="'Liberation Sans', Arial, sans-serif" font-size="31" fill="#111" text-anchor="start" font-weight="normal" >threshold for detecting LIA</text>
<text x="1445.00" y="360.80" font-family="'Liberation Sans', Arial, sans-serif" font-size="31" fill="#111" text-anchor="start" font-weight="normal" >threshold for detecting REM</text>
<text x="1273.00" y="609.00" font-family="'Liberation Sans', Arial, sans-serif" font-size="30.8" fill="#7aba28" text-anchor="start" font-weight="normal" >candidated sleep period for detecting sleep SWRs</text>
<line x1="1429.60" y1="162.50" x2="1391.13" y2="134.23" stroke="#77c40a" stroke-width="3.4" />
<path d="M1373.40,121.20L1399.25,126.55L1389.52,133.04L1386.23,144.28Z" stroke="none" stroke-width="1" fill="#77c40a" />
<line x1="1435.00" y1="345.00" x2="1396.90" y2="316.87" stroke="#77c40a" stroke-width="3.4" />
<path d="M1379.20,303.80L1405.04,309.21L1395.29,315.68L1391.97,326.90Z" stroke="none" stroke-width="1" fill="#77c40a" />
<path d="M1555,570 Q1640,492 1631.5,428" stroke="#77c40a" stroke-width="3.4" fill="none" />
<path d="M1630.6,400 L1644.3,431 L1631.2,426 L1618,431 Z" stroke="none" stroke-width="1" fill="#77c40a" />
<text x="8.20" y="690.50" font-family="'Liberation Sans', Arial, sans-serif" font-size="48" fill="#111" text-anchor="start" font-weight="bold" >c</text>
<text x="224.60" y="711.40" font-family="'Liberation Sans', Arial, sans-serif" font-size="34.4" fill="#111" text-anchor="middle" font-weight="normal" >awake replay</text>
<text x="607.00" y="711.40" font-family="'Liberation Sans', Arial, sans-serif" font-size="34.4" fill="#111" text-anchor="middle" font-weight="normal" >sleep replay</text>
<text x="73.60" y="764.70" font-family="'DejaVu Sans', sans-serif" font-size="36" fill="#3d3d3d" text-anchor="middle" font-weight="normal" transform="rotate(-90 73.60 764.70)" >LFP</text>
<text x="73.60" y="872.90" font-family="'DejaVu Sans', sans-serif" font-size="36" fill="#3d3d3d" text-anchor="middle" font-weight="normal" transform="rotate(-90 73.60 872.90)" >Tet. id</text>
<text x="462.60" y="764.70" font-family="'DejaVu Sans', sans-serif" font-size="36" fill="#3d3d3d" text-anchor="middle" font-weight="normal" transform="rotate(-90 462.60 764.70)" >LFP</text>
<text x="462.60" y="872.90" font-family="'DejaVu Sans', sans-serif" font-size="36" fill="#3d3d3d" text-anchor="middle" font-weight="normal" transform="rotate(-90 462.60 872.90)" >Tet. id</text>
<text x="338.20" y="854.30" font-family="'DejaVu Sans', sans-serif" font-size="27.6" fill="#3d3d3d" text-anchor="start" font-weight="normal" >24</text>
<text x="338.20" y="914.70" font-family="'DejaVu Sans', sans-serif" font-size="27.6" fill="#3d3d3d" text-anchor="start" font-weight="normal" >1</text>
<text x="726.10" y="854.30" font-family="'DejaVu Sans', sans-serif" font-size="27.6" fill="#3d3d3d" text-anchor="start" font-weight="normal" >24</text>
<text x="726.10" y="914.70" font-family="'DejaVu Sans', sans-serif" font-size="27.6" fill="#3d3d3d" text-anchor="start" font-weight="normal" >1</text>
<polyline points="130.8,758.0 132.8,751.4 134.8,755.9 136.7,757.0 138.7,759.0 140.7,762.0 142.7,761.0 144.7,767.1 146.6,768.7 148.6,780.6 150.6,777.9 152.6,774.7 154.6,773.5 156.5,771.9 158.5,770.1 160.5,770.8 162.5,772.8 164.5,771.4 166.4,773.4 168.4,771.0 170.4,770.4 172.4,773.5 174.4,771.8 176.3,768.4 178.3,767.8 180.3,769.0 182.3,772.6 184.3,768.3 186.2,766.6 188.2,768.7 190.2,764.7 192.2,764.4 194.2,766.9 196.1,766.8 198.1,765.3 200.1,765.9 202.1,757.5 204.1,763.5 206.0,760.6 208.0,757.6 210.0,761.0 212.0,762.9 214.0,760.6 215.9,758.0 217.9,759.5 219.9,759.6 221.9,762.8 223.8,762.1 225.8,760.3 227.8,761.6 229.8,758.7 231.8,755.6 233.7,758.0 235.7,758.6 237.7,757.1 239.7,755.1 241.7,756.9 243.6,751.0 245.6,756.5 247.6,758.0 249.6,753.4 251.6,756.2 253.5,755.0 255.5,759.0 257.5,753.9 259.5,755.1 261.5,759.7 263.4,762.6 265.4,755.9 267.4,757.8 269.4,760.7 271.4,759.8 273.3,765.0 275.3,760.4 277.3,762.7 279.3,760.4 281.3,765.8 283.2,764.5 285.2,763.4 287.2,760.1 289.2,767.4 291.2,767.9 293.1,768.4 295.1,769.7 297.1,768.6 299.1,766.0 301.1,765.0 303.0,764.9 305.0,770.4 307.0,768.5 309.0,772.0 311.0,772.9 312.9,771.3 314.9,769.5 316.9,762.5" fill="none" stroke="#999999" stroke-width="2.0" stroke-linejoin="round" />
<polyline points="518.6,778.0 520.6,774.3 522.6,775.2 524.6,776.8 526.5,778.8 528.5,776.7 530.5,774.0 532.5,772.1 534.5,774.7 536.5,777.3 538.5,774.6 540.4,769.2 542.4,765.5 544.4,768.6 546.4,765.8 548.4,759.7 550.4,760.8 552.4,758.0 554.4,757.7 556.3,757.6 558.3,756.9 560.3,759.4 562.3,758.6 564.3,756.7 566.3,759.0 568.3,761.5 570.2,756.9 572.2,759.2 574.2,758.7 576.2,760.4 578.2,758.0 580.2,760.1 582.2,760.5 584.1,759.9 586.1,757.7 588.1,758.3 590.1,756.7 592.1,755.0 594.1,757.8 596.1,755.2 598.0,759.3 600.0,759.3 602.0,752.6 604.0,755.5 606.0,752.9 608.0,754.5 610.0,754.8 612.0,751.1 613.9,754.6 615.9,756.4 617.9,760.5 619.9,757.4 621.9,761.5 623.9,759.2 625.9,760.5 627.8,759.6 629.8,764.9 631.8,764.7 633.8,769.2 635.8,766.6 637.8,766.2 639.8,766.2 641.7,761.6 643.7,760.5 645.7,762.7 647.7,758.5 649.7,757.7 651.7,757.0 653.7,758.3 655.6,756.3 657.6,756.0 659.6,756.8 661.6,756.6 663.6,754.2 665.6,757.7 667.6,754.4 669.5,754.0 671.5,754.2 673.5,760.2 675.5,759.6 677.5,758.5 679.5,758.2 681.5,762.9 683.5,762.1 685.4,762.4 687.4,768.0 689.4,766.7 691.4,766.5 693.4,765.1 695.4,762.0 697.4,760.2 699.3,764.5 701.3,763.5 703.3,762.7 705.3,762.5" fill="none" stroke="#999999" stroke-width="2.0" stroke-linejoin="round" />
<path d="M118.0,846.3H125.5M172.0,846.3H264.0M273.0,846.3H280.6M295.0,846.3H310.5M126.7,848.8H134.1M165.7,848.8H172.0M180.0,848.8H188.0M207.0,848.8H218.0M223.0,848.8H230.6M236.0,848.8H258.0M118.0,854.5H125.5M131.3,854.5H157.1M166.9,854.5H173.8M186.4,854.5H237.5M243.3,854.5H257.0M258.2,854.5H275.4M284.0,854.5H291.5M195.0,856.8H232.0M240.0,856.8H255.0M273.0,856.8H280.0M123.8,859.5H131.3M146.2,859.5H153.7M168.6,859.5H182.4M190.4,859.5H204.2M218.0,859.5H226.0M241.0,859.5H251.3M263.4,859.5H270.3M307.6,859.5H325.4M194.4,869.5H212.3M273.0,869.5H280.0M119.2,872.9H126.7M137.0,872.9H144.5M152.0,872.9H159.4M166.3,872.9H259.4M281.8,872.9H297.3M307.6,872.9H315.0M166.3,875.8H193.9M201.9,875.8H226.0M231.8,875.8H259.4M175.0,878.1H190.4M195.0,878.1H267.4M273.0,878.1H287.5M166.3,881.0H267.4M274.3,881.0H299.6M166.3,883.3H174.3M179.0,883.3H193.9M201.9,883.3H222.6M226.0,883.3H259.4M273.0,883.3H280.0M134.7,886.1H142.7M163.4,886.1H267.4M273.0,886.1H280.0M296.7,886.1H305.3M195.0,889.0H201.9M206.0,889.0H218.0M226.0,889.0H235.2M273.0,889.0H280.0M162.3,896.5H259.4M264.5,896.5H308.8M148.5,899.3H155.4M195.0,899.3H201.9M204.2,899.3H213.4M223.2,899.3H253.6M282.3,899.3H289.2M299.6,899.3H308.8M180.7,901.6H187.0M193.9,901.6H280.0M166.3,904.5H177.8M190.4,904.5H282.3M289.2,904.5H300.7M313.4,904.5H321.4M192.7,906.8H281.8M288.6,906.8H299.6" stroke="#151515" stroke-width="3.0" fill="none" />
<path d="M514.0,846.0H522.0M551.6,846.0H581.9M584.6,846.0H648.9M655.0,846.0H689.0M584.6,848.7H636.3M657.0,848.7H676.0M680.0,848.7H689.0M507.0,854.2H515.4M520.0,854.2H529.7M554.4,854.2H583.0M587.4,854.2H634.6M640.7,854.2H647.8M652.0,854.2H663.7M672.0,854.2H683.5M694.0,854.2H708.2M592.0,856.8H602.0M652.0,856.8H663.0M520.9,859.7H528.6M537.9,859.7H545.6M564.3,859.7H602.7M606.0,859.7H621.4M625.3,859.7H633.5M647.8,859.7H676.9M551.6,867.4H559.3M572.5,867.4H586.8M629.0,867.4H636.3M541.8,870.2H548.9M577.0,870.2H659.3M528.0,872.9H537.9M546.2,872.9H574.7M577.0,872.9H652.7M656.0,872.9H685.7M518.1,877.9H525.8M585.2,877.9H633.0M652.7,877.9H680.2M555.0,880.6H682.4M596.7,883.4H637.4M559.3,886.1H574.2M587.9,886.1H631.9M652.7,886.1H683.0M585.2,888.8H592.3M626.0,888.8H631.0M635.2,888.8H642.9M656.0,888.8H663.7M508.2,891.6H516.5M617.0,891.6H631.9M516.0,896.5H523.6M546.7,896.5H554.4M556.0,896.5H642.9M650.0,896.5H679.7M589.0,899.3H637.9M642.9,899.3H650.5M561.0,904.2H642.9M646.0,904.2H677.5M509.9,907.0H517.6M526.4,907.0H534.0M537.9,907.0H677.0" stroke="#151515" stroke-width="3.0" fill="none" />
<path d="M194.4,867V908.5M273,877V889" stroke="#151515" stroke-width="5.5" fill="none" />
<rect x="118.00" y="887.30" width="7.50" height="8.00" fill="#151515" />
<g clip-path="url(#cp1)">
<rect x="121.10" y="943.20" width="43.30" height="64.60" fill="url(#vg2)" />
<rect x="121.10" y="1018.90" width="43.30" height="56.10" fill="url(#vg3)" />
<rect x="121.10" y="1081.10" width="43.30" height="44.50" fill="url(#vg4)" />
<rect x="164.40" y="943.20" width="105.70" height="64.60" fill="url(#vg5)" />
<rect x="164.40" y="1018.90" width="105.70" height="56.10" fill="url(#vg6)" />
<rect x="164.40" y="1081.10" width="105.70" height="44.50" fill="url(#vg7)" />
<rect x="270.10" y="943.20" width="56.70" height="64.60" fill="url(#vg8)" />
<rect x="270.10" y="1018.90" width="56.70" height="56.10" fill="url(#vg9)" />
<rect x="270.10" y="1081.10" width="56.70" height="44.50" fill="url(#vg10)" />
<ellipse cx="124" cy="1125" rx="10" ry="6" fill="rgb(226,87,51)" opacity="1.0" filter="url(#bl11)"/>
<ellipse cx="286" cy="985" rx="8" ry="6" fill="rgb(204,65,72)" opacity="0.8" filter="url(#bl12)"/>
<ellipse cx="322" cy="1126" rx="10" ry="4" fill="rgb(187,55,84)" opacity="0.7" filter="url(#bl13)"/>
<ellipse cx="282" cy="1052" rx="12" ry="14" fill="rgb(118,27,109)" opacity="0.9" filter="url(#bl14)"/>
<ellipse cx="312" cy="1120" rx="14" ry="8" fill="rgb(118,27,109)" opacity="0.8" filter="url(#bl15)"/>
<ellipse cx="160" cy="1021" rx="5" ry="3.5" fill="rgb(249,142,8)" opacity="1.0" filter="url(#bl16)"/>
<ellipse cx="161.5" cy="1020.5" rx="3" ry="2" fill="rgb(245,248,145)" opacity="1.0" filter="url(#bl17)"/>
<ellipse cx="160" cy="1027" rx="7" ry="4" fill="rgb(167,45,95)" opacity="0.9" filter="url(#bl18)"/>
<ellipse cx="262" cy="996" rx="12" ry="14" fill="rgb(106,23,110)" opacity="0.8" filter="url(#bl19)"/>
<ellipse cx="258" cy="1058" rx="12" ry="16" fill="rgb(106,23,110)" opacity="0.75" filter="url(#bl20)"/>
<ellipse cx="236" cy="1084" rx="9" ry="5" fill="rgb(114,25,109)" opacity="0.8" filter="url(#bl21)"/>
<path d="M150.0,1023.0L194.0,1023.5L201.0,1031.0L212.0,1050.0L226.0,1069.0L232.0,1078.0" fill="none" stroke="rgb(126,30,108)" stroke-width="16" stroke-linejoin="round" stroke-linecap="butt" opacity="0.85" filter="url(#bl22)"/>
<path d="M160.0,1022.5L194.0,1022.5L201.0,1030.5L212.0,1050.0L226.0,1069.0L232.0,1078.0" fill="none" stroke="rgb(240,111,31)" stroke-width="10" stroke-linejoin="round" stroke-linecap="butt" opacity="1.0" filter="url(#bl23)"/>
<path d="M164.0,1021.8L195.0,1021.8L201.5,1030.0L212.0,1049.0L225.5,1068.0L231.0,1078.0" fill="none" stroke="rgb(243,246,137)" stroke-width="6.5" stroke-linejoin="round" stroke-linecap="butt" opacity="1.0"/>
<path d="M224.0,1010.0L227.0,1000.0L235.0,994.0L242.0,991.5L249.0,994.0L254.0,998.0L256.0,1010.0Z" fill="rgb(126,30,108)" opacity="0.9" filter="url(#bl24)"/>
<path d="M226.0,1010.0L229.0,999.0L236.0,995.0L243.0,993.0L250.0,996.0L253.0,1000.0L254.0,1010.0Z" fill="rgb(243,119,25)" opacity="1.0" filter="url(#bl25)"/>
<path d="M228.0,1010.0L231.0,1000.0L237.0,996.0L243.0,994.5L249.0,997.0L251.0,1001.0L251.5,1010.0Z" fill="rgb(243,246,137)" opacity="1.0"/>
<rect x="240" y="1001" width="11" height="6" fill="rgb(240,111,31)" opacity="0.9" filter="url(#bl26)"/>
<rect x="226" y="1081" width="12" height="5.5" fill="rgb(249,142,8)" opacity="0.9" filter="url(#bl27)"/>
<rect x="121.10" y="943.20" width="43.30" height="64.60" fill="rgba(255,255,255,0.09)" />
<rect x="121.10" y="943.20" width="43.30" height="64.60" fill="url(#pt28)" />
<rect x="121.10" y="1018.90" width="43.30" height="56.10" fill="rgba(255,255,255,0.09)" />
<rect x="121.10" y="1018.90" width="43.30" height="56.10" fill="url(#pt28)" />
<rect x="121.10" y="1081.10" width="43.30" height="44.50" fill="rgba(255,255,255,0.09)" />
<rect x="121.10" y="1081.10" width="43.30" height="44.50" fill="url(#pt28)" />
<rect x="270.10" y="943.20" width="56.70" height="64.60" fill="rgba(255,255,255,0.09)" />
<rect x="270.10" y="943.20" width="56.70" height="64.60" fill="url(#pt28)" />
<rect x="270.10" y="1018.90" width="56.70" height="56.10" fill="rgba(255,255,255,0.09)" />
<rect x="270.10" y="1018.90" width="56.70" height="56.10" fill="url(#pt28)" />
<rect x="270.10" y="1081.10" width="56.70" height="44.50" fill="rgba(255,255,255,0.09)" />
<rect x="270.10" y="1081.10" width="56.70" height="44.50" fill="url(#pt28)" />
</g>
<rect x="164.40" y="943.20" width="105.70" height="182.40" fill="rgba(170,170,170,0.6)" />
<rect x="164.40" y="943.20" width="105.70" height="182.40" fill="url(#vs30)" />
<rect x="121.10" y="1011.90" width="205.70" height="7.00" fill="#66d3d3" />
<g clip-path="url(#cp31)">
<rect x="510.10" y="943.20" width="25.90" height="64.60" fill="url(#vg32)" />
<rect x="536.00" y="943.20" width="13.10" height="64.60" fill="url(#vg33)" />
<rect x="510.10" y="1014.20" width="25.90" height="60.80" fill="url(#vg34)" />
<rect x="536.00" y="1014.20" width="13.10" height="60.80" fill="url(#vg35)" />
<rect x="510.10" y="1081.10" width="25.90" height="44.50" fill="url(#vg36)" />
<rect x="536.00" y="1081.10" width="13.10" height="44.50" fill="url(#vg37)" />
<rect x="549.10" y="943.20" width="128.60" height="64.60" fill="url(#vg38)" />
<rect x="549.10" y="1014.20" width="128.60" height="60.80" fill="url(#vg39)" />
<rect x="549.10" y="1081.10" width="128.60" height="44.50" fill="url(#vg40)" />
<rect x="677.70" y="943.20" width="27.10" height="64.60" fill="url(#vg41)" />
<rect x="704.80" y="943.20" width="10.30" height="64.60" fill="url(#vg42)" />
<rect x="677.70" y="1014.20" width="27.10" height="60.80" fill="url(#vg43)" />
<rect x="704.80" y="1014.20" width="10.30" height="60.80" fill="url(#vg44)" />
<rect x="677.70" y="1081.10" width="27.10" height="44.50" fill="url(#vg45)" />
<rect x="704.80" y="1081.10" width="10.30" height="44.50" fill="url(#vg46)" />
<ellipse cx="634" cy="967" rx="5" ry="8" fill="rgb(250,189,35)" opacity="1.0" filter="url(#bl47)"/>
<ellipse cx="640" cy="975" rx="10" ry="14" fill="rgb(187,55,84)" opacity="0.8" filter="url(#bl48)"/>
<ellipse cx="655" cy="988" rx="20" ry="14" fill="rgb(126,30,108)" opacity="0.8" filter="url(#bl49)"/>
<rect x="588" y="1003.5" width="42" height="5" fill="rgb(251,155,6)" opacity="1.0" filter="url(#bl50)"/>
<ellipse cx="556" cy="1030" rx="10" ry="16" fill="rgb(126,30,108)" opacity="0.8" filter="url(#bl51)"/>
<path d="M550.0,1016.0L556.0,1028.0L566.0,1043.0L577.0,1053.0L590.0,1062.0" fill="none" stroke="rgb(155,40,100)" stroke-width="11" stroke-linejoin="round" stroke-linecap="butt" opacity="0.9" filter="url(#bl52)"/>
<ellipse cx="575" cy="1029" rx="2" ry="5" fill="rgb(233,98,42)" opacity="0.9" filter="url(#bl53)"/>
<ellipse cx="567" cy="1043" rx="4" ry="5" fill="rgb(220,80,57)" opacity="0.8" filter="url(#bl54)"/>
<path d="M582.0,1075.0L585.0,1062.0L593.0,1059.0L600.0,1064.0L610.0,1060.0L620.0,1061.0L629.0,1066.0L631.0,1075.0Z" fill="rgb(220,80,57)" opacity="1.0" filter="url(#bl55)"/>
<path d="M585.0,1075.0L588.0,1064.0L594.0,1063.0L600.0,1067.0L610.0,1063.0L620.0,1065.0L628.0,1069.0L629.0,1075.0Z" fill="rgb(243,246,137)" opacity="1.0" filter="url(#bl56)"/>
<path d="M587.0,1081.0L629.0,1081.0L631.0,1091.0L618.0,1093.0L610.0,1088.0L600.0,1092.0L589.0,1091.0Z" fill="rgb(220,80,57)" opacity="1.0" filter="url(#bl57)"/>
<path d="M590.0,1081.0L628.0,1081.0L628.5,1089.0L618.0,1090.5L610.0,1086.0L600.0,1090.0L591.0,1089.0Z" fill="rgb(243,246,137)" opacity="1.0" filter="url(#bl58)"/>
<ellipse cx="662" cy="1052" rx="14" ry="10" fill="rgb(87,15,109)" opacity="0.6" filter="url(#bl59)"/>
<ellipse cx="690" cy="1062" rx="8" ry="8" fill="rgb(65,9,103)" opacity="0.5" filter="url(#bl60)"/>
<ellipse cx="557" cy="1115" rx="12" ry="10" fill="rgb(106,23,110)" opacity="0.6" filter="url(#bl61)"/>
<ellipse cx="522" cy="1128" rx="40" ry="24" fill="rgb(167,45,95)" opacity="1.0" filter="url(#bl62)"/>
<ellipse cx="519" cy="1129" rx="34" ry="19" fill="rgb(243,119,25)" opacity="1.0" filter="url(#bl63)"/>
<ellipse cx="515" cy="1129" rx="30" ry="16" fill="rgb(243,246,137)" opacity="1.0" filter="url(#bl64)"/>
<rect x="510" y="1116" width="26" height="12" fill="rgb(243,246,137)" opacity="1.0" filter="url(#bl65)"/>
<ellipse cx="708" cy="1130" rx="40" ry="22" fill="rgb(167,45,95)" opacity="1.0" filter="url(#bl66)"/>
<ellipse cx="711" cy="1131" rx="34" ry="18" fill="rgb(246,128,18)" opacity="1.0" filter="url(#bl67)"/>
<ellipse cx="716" cy="1131" rx="30" ry="15" fill="rgb(243,246,137)" opacity="1.0" filter="url(#bl68)"/>
<rect x="692" y="1119" width="24" height="8" fill="rgb(243,246,137)" opacity="1.0" filter="url(#bl69)"/>
<ellipse cx="630" cy="1120" rx="6" ry="8" fill="rgb(106,23,110)" opacity="0.5" filter="url(#bl70)"/>
<ellipse cx="656" cy="1105" rx="24" ry="22" fill="rgb(87,15,109)" opacity="0.7" filter="url(#bl71)"/>
<ellipse cx="556" cy="1102" rx="10" ry="22" fill="rgb(87,15,109)" opacity="0.6" filter="url(#bl72)"/>
<rect x="510.10" y="943.20" width="25.90" height="64.60" fill="rgba(255,255,255,0.05)" />
<rect x="510.10" y="943.20" width="25.90" height="64.60" fill="url(#ph74)" />
<rect x="536.00" y="943.20" width="13.10" height="64.60" fill="rgba(255,255,255,0.15)" />
<rect x="536.00" y="943.20" width="13.10" height="64.60" fill="url(#ph74)" />
<rect x="510.10" y="1014.20" width="25.90" height="60.80" fill="rgba(255,255,255,0.05)" />
<rect x="510.10" y="1014.20" width="25.90" height="60.80" fill="url(#ph74)" />
<rect x="536.00" y="1014.20" width="13.10" height="60.80" fill="rgba(255,255,255,0.12)" />
<rect x="536.00" y="1014.20" width="13.10" height="60.80" fill="url(#ph74)" />
<rect x="510.10" y="1081.10" width="25.90" height="44.50" fill="rgba(255,255,255,0.04)" />
<rect x="510.10" y="1081.10" width="25.90" height="44.50" fill="url(#ph74)" />
<rect x="536.00" y="1081.10" width="13.10" height="44.50" fill="rgba(255,255,255,0.1)" />
<rect x="536.00" y="1081.10" width="13.10" height="44.50" fill="url(#ph74)" />
<rect x="677.70" y="943.20" width="27.10" height="64.60" fill="rgba(255,255,255,0.14)" />
<rect x="677.70" y="943.20" width="27.10" height="64.60" fill="url(#ph74)" />
<rect x="704.80" y="943.20" width="10.30" height="64.60" fill="rgba(255,255,255,0.06)" />
<rect x="704.80" y="943.20" width="10.30" height="64.60" fill="url(#ph74)" />
<rect x="677.70" y="1014.20" width="27.10" height="60.80" fill="rgba(255,255,255,0.15)" />
<rect x="677.70" y="1014.20" width="27.10" height="60.80" fill="url(#ph74)" />
<rect x="704.80" y="1014.20" width="10.30" height="60.80" fill="rgba(255,255,255,0.04)" />
<rect x="704.80" y="1014.20" width="10.30" height="60.80" fill="url(#ph74)" />
<rect x="677.70" y="1081.10" width="27.10" height="44.50" fill="rgba(255,255,255,0.1)" />
<rect x="677.70" y="1081.10" width="27.10" height="44.50" fill="url(#ph74)" />
<rect x="704.80" y="1081.10" width="10.30" height="44.50" fill="rgba(255,255,255,0.04)" />
<rect x="704.80" y="1081.10" width="10.30" height="44.50" fill="url(#ph74)" />
</g>
<rect x="549.10" y="943.20" width="128.60" height="182.40" fill="rgba(170,170,170,0.6)" />
<rect x="549.10" y="943.20" width="10.60" height="182.40" fill="rgba(255,255,255,0.05)" />
<rect x="584.30" y="943.20" width="24.20" height="182.40" fill="rgba(0,0,0,0.06)" />
<rect x="608.50" y="943.20" width="21.00" height="182.40" fill="rgba(0,0,0,0.02)" />
<rect x="549.50" y="983.00" width="10.20" height="21.00" fill="url(#tx75)" />
<rect x="549.50" y="1085.00" width="10.20" height="14.00" fill="url(#tx75)" />
<rect x="549.50" y="1104.00" width="10.20" height="10.00" fill="url(#tx75)" />
<rect x="549.50" y="1115.00" width="10.20" height="5.00" fill="url(#tx75)" />
<rect x="585.20" y="983.00" width="23.80" height="21.00" fill="url(#tx75)" />
<rect x="585.20" y="1085.00" width="23.80" height="14.00" fill="url(#tx75)" />
<rect x="585.20" y="1104.00" width="23.80" height="10.00" fill="url(#tx75)" />
<rect x="585.20" y="1115.00" width="23.80" height="5.00" fill="url(#tx75)" />
<rect x="633.50" y="983.00" width="23.40" height="21.00" fill="url(#tx75)" />
<rect x="633.50" y="1085.00" width="23.40" height="14.00" fill="url(#tx75)" />
<rect x="633.50" y="1104.00" width="23.40" height="10.00" fill="url(#tx75)" />
<rect x="633.50" y="1115.00" width="23.40" height="5.00" fill="url(#tx75)" />
<rect x="164.70" y="1154.00" width="105.10" height="91.50" fill="#dfdfdf" />
<path d="M123.9,1168.8L125.6,1168.8L127.3,1168.8L129.0,1168.8L130.7,1168.8L132.3,1168.8L134.0,1168.8L135.7,1168.8L137.4,1168.8L139.1,1168.8L139.6,1182.0L141.4,1182.0L143.1,1182.0L144.9,1182.0L146.6,1182.0L148.4,1182.0L150.1,1182.0L151.9,1182.0L153.5,1238.7L155.1,1241.9L156.8,1241.9L158.4,1241.9L160.1,1241.9L161.8,1241.9L163.4,1241.9L165.1,1241.9L166.8,1241.9L168.4,1241.9L170.1,1241.9L171.8,1241.9L173.4,1241.9L175.1,1241.9L176.7,1241.9L178.4,1241.9L180.1,1241.9L181.7,1241.9L183.4,1241.9L185.1,1241.9L186.7,1241.9L188.4,1241.9L190.1,1241.9L191.7,1241.9L193.4,1241.9L195.0,1236.8L196.8,1234.4L198.6,1234.3L200.4,1231.7L202.2,1229.9L203.8,1228.1L205.4,1229.4L207.0,1225.6L208.6,1225.0L210.2,1224.3L212.1,1222.1L214.0,1217.0L216.1,1212.7L218.2,1209.9L219.8,1208.2L221.4,1205.6L223.0,1204.3L224.7,1204.4L226.3,1202.5L228.0,1201.0L230.3,1197.8L232.6,1196.3L234.2,1194.7L235.8,1195.7L237.4,1193.5L239.0,1194.0L240.6,1191.5L242.8,1191.8L245.0,1192.0L247.0,1192.3L249.0,1196.5L251.0,1197.1L253.0,1194.6L255.0,1194.0L256.6,1192.9L258.2,1192.1L259.8,1191.5L261.9,1189.3L264.1,1186.5L266.2,1185.9L267.9,1185.9L269.6,1185.9L271.3,1185.9L273.0,1185.9L274.7,1185.9L276.4,1185.9L278.1,1185.9L279.8,1185.9L281.5,1185.9L283.2,1185.9L284.9,1185.9L286.6,1185.9L288.3,1185.9L290.0,1185.9L291.7,1185.9L292.5,1168.8L294.9,1200.3L296.5,1168.8L298.1,1168.8L299.8,1168.8L301.4,1168.8L303.1,1168.8L304.7,1168.8L306.4,1168.8L308.0,1168.8L309.7,1168.8L311.3,1168.8L312.9,1168.8L314.6,1168.8L316.2,1168.8L317.9,1168.8L319.5,1168.8L321.2,1168.8L322.8,1168.8L324.5,1168.8L326.1,1168.8" stroke="#eb9b4b" stroke-width="3.2" fill="none" stroke-linejoin="round"/>
<line x1="122.10" y1="1152.40" x2="122.10" y2="1247.40" stroke="#3d3d3d" stroke-width="3.5" />
<line x1="120.40" y1="1245.50" x2="327.70" y2="1245.50" stroke="#3d3d3d" stroke-width="4" />
<rect x="549.10" y="1154.00" width="128.60" height="91.50" fill="#dfdfdf" />
<path d="M512.0,1241.5L513.7,1241.5L515.3,1241.5L517.0,1241.5L518.7,1241.5L520.4,1241.5L522.0,1241.5L523.7,1241.5L525.4,1241.5L527.1,1241.5L528.7,1241.5L530.4,1241.5L532.1,1241.5L533.8,1241.5L535.4,1241.5L537.1,1241.5L538.8,1241.5L540.5,1241.5L542.1,1241.5L543.8,1241.5L545.4,1168.0L547.0,1168.0L548.6,1168.0L550.2,1168.0L551.8,1168.0L553.4,1168.0L555.0,1182.4L556.7,1183.2L558.3,1185.3L560.0,1185.0L561.8,1186.0L563.6,1187.1L565.4,1187.1L567.1,1188.0L568.9,1189.7L570.7,1190.6L572.5,1192.0L575.0,1176.0L576.4,1193.6L578.1,1195.3L579.8,1198.1L581.6,1198.8L583.3,1201.7L585.0,1202.0L586.6,1204.3L588.3,1206.3L590.0,1208.5L591.6,1209.8L593.2,1210.0L594.9,1212.7L596.5,1212.4L598.1,1211.7L599.7,1210.8L601.3,1211.2L602.9,1209.5L604.5,1210.2L606.1,1209.1L607.7,1208.0L609.6,1207.8L611.5,1209.3L613.5,1210.0L615.4,1210.7L617.3,1212.7L619.1,1212.7L621.0,1212.7L622.8,1212.7L624.7,1212.7L626.5,1212.7L628.4,1212.7L630.7,1179.2L632.5,1179.2L634.4,1179.2L636.2,1179.2L638.0,1179.2L639.7,1178.9L641.3,1181.7L643.0,1183.8L644.7,1184.1L646.3,1186.0L648.0,1188.0L649.9,1189.2L651.8,1191.5L653.7,1192.9L655.6,1195.2L657.5,1194.8L659.4,1194.8L661.3,1192.0L663.2,1194.4L665.1,1193.6L665.8,1241.5L667.4,1241.5L669.1,1241.5L670.8,1241.5L672.4,1241.5L674.0,1241.5L675.7,1241.5L677.3,1241.5L679.0,1241.5L680.6,1241.5L682.3,1241.5L683.9,1241.5L685.6,1241.5L687.2,1241.5L688.9,1241.5L690.5,1241.5L692.2,1241.5L693.8,1241.5L695.5,1241.5L697.1,1241.5L698.8,1241.5L700.4,1241.5L702.1,1241.5L703.8,1241.5L705.4,1241.5L707.0,1241.5L708.7,1241.5L710.3,1241.5L712.0,1241.5L713.6,1241.5L715.3,1241.5" stroke="#eb9b4b" stroke-width="3.2" fill="none" stroke-linejoin="round"/>
<line x1="510.90" y1="1152.40" x2="510.90" y2="1247.40" stroke="#3d3d3d" stroke-width="3.5" />
<line x1="509.20" y1="1245.50" x2="716.00" y2="1245.50" stroke="#3d3d3d" stroke-width="4" />
<text x="79.20" y="1164.40" font-family="'DejaVu Sans', sans-serif" font-size="27.5" fill="#3d3d3d" text-anchor="end" font-weight="normal" >200</text>
<text x="79.20" y="1253.10" font-family="'DejaVu Sans', sans-serif" font-size="27.5" fill="#3d3d3d" text-anchor="end" font-weight="normal" >0</text>
<text x="467.70" y="1164.40" font-family="'DejaVu Sans', sans-serif" font-size="27.5" fill="#3d3d3d" text-anchor="end" font-weight="normal" >200</text>
<text x="467.70" y="1253.10" font-family="'DejaVu Sans', sans-serif" font-size="27.5" fill="#3d3d3d" text-anchor="end" font-weight="normal" >0</text>
<text x="135.90" y="1289.00" font-family="'DejaVu Sans', sans-serif" font-size="27.5" fill="#3d3d3d" text-anchor="middle" font-weight="normal" >509.5</text>
<text x="317.50" y="1289.00" font-family="'DejaVu Sans', sans-serif" font-size="27.5" fill="#3d3d3d" text-anchor="middle" font-weight="normal" >509.9</text>
<text x="704.50" y="1289.00" font-family="'DejaVu Sans', sans-serif" font-size="27.5" fill="#3d3d3d" text-anchor="middle" font-weight="normal" >663.2</text>
<text x="223.30" y="1334.00" font-family="'DejaVu Sans', sans-serif" font-size="34.7" fill="#3d3d3d" text-anchor="middle" font-weight="normal" >Time (s)</text>
<text x="612.00" y="1334.00" font-family="'DejaVu Sans', sans-serif" font-size="34.7" fill="#3d3d3d" text-anchor="middle" font-weight="normal" >Time (s)</text>
<text x="819.50" y="691.30" font-family="'Liberation Sans', Arial, sans-serif" font-size="48" fill="#111" text-anchor="start" font-weight="bold" >d</text>
<text x="1145.70" y="711.00" font-family="'Liberation Sans', Arial, sans-serif" font-size="34.6" fill="#111" text-anchor="middle" font-weight="normal" >rat 1 day 8</text>
<rect x="990.30" y="738.30" width="53.30" height="18.00" fill="#f4c08f" />
<rect x="990.30" y="777.30" width="53.30" height="18.00" fill="#a0cfdb" />
<text x="1063.60" y="756.60" font-family="'DejaVu Sans', sans-serif" font-size="26.7" fill="#3d3d3d" text-anchor="start" font-weight="normal" >epoch 4 (awake)</text>
<text x="1063.60" y="795.60" font-family="'DejaVu Sans', sans-serif" font-size="26.7" fill="#3d3d3d" text-anchor="start" font-weight="normal" >epoch 5 (sleep)</text>
<rect x="974.50" y="830.60" width="4.90" height="415.90" fill="#f4c08f" />
<rect x="988.65" y="1022.60" width="4.90" height="223.90" fill="#f4c08f" />
<rect x="1002.80" y="1089.70" width="4.90" height="156.80" fill="#f4c08f" />
<rect x="1016.95" y="1135.20" width="4.90" height="111.30" fill="#f4c08f" />
<rect x="1031.10" y="954.80" width="4.90" height="291.70" fill="#f4c08f" />
<rect x="1045.25" y="1072.90" width="4.90" height="173.60" fill="#f4c08f" />
<rect x="1059.40" y="954.80" width="4.90" height="291.70" fill="#f4c08f" />
<rect x="1073.55" y="1067.40" width="4.90" height="179.10" fill="#f4c08f" />
<rect x="1087.70" y="1095.50" width="4.90" height="151.00" fill="#f4c08f" />
<rect x="1101.85" y="1174.30" width="4.90" height="72.20" fill="#f4c08f" />
<rect x="1116.00" y="1174.30" width="4.90" height="72.20" fill="#f4c08f" />
<rect x="1130.15" y="1191.30" width="4.90" height="55.20" fill="#f4c08f" />
<rect x="1144.30" y="1191.30" width="4.90" height="55.20" fill="#f4c08f" />
<rect x="1158.45" y="1213.80" width="4.90" height="32.70" fill="#f4c08f" />
<rect x="1172.60" y="1174.30" width="4.90" height="72.20" fill="#f4c08f" />
<rect x="1186.75" y="1225.20" width="4.90" height="21.30" fill="#f4c08f" />
<rect x="1200.90" y="1231.00" width="4.90" height="15.50" fill="#f4c08f" />
<rect x="1215.05" y="1208.10" width="4.90" height="38.40" fill="#f4c08f" />
<rect x="980.90" y="801.30" width="4.90" height="445.20" fill="#a0cfdb" />
<rect x="995.05" y="858.50" width="4.90" height="388.00" fill="#a0cfdb" />
<rect x="1009.20" y="936.60" width="4.90" height="309.90" fill="#a0cfdb" />
<rect x="1023.35" y="1054.00" width="4.90" height="192.50" fill="#a0cfdb" />
<rect x="1037.50" y="1045.80" width="4.90" height="200.70" fill="#a0cfdb" />
<rect x="1051.65" y="934.90" width="4.90" height="311.60" fill="#a0cfdb" />
<rect x="1065.80" y="1078.80" width="4.90" height="167.70" fill="#a0cfdb" />
<rect x="1079.95" y="1114.20" width="4.90" height="132.30" fill="#a0cfdb" />
<rect x="1094.10" y="1159.30" width="4.90" height="87.20" fill="#a0cfdb" />
<rect x="1108.25" y="1206.10" width="4.90" height="40.40" fill="#a0cfdb" />
<rect x="1122.40" y="1234.00" width="4.90" height="12.50" fill="#a0cfdb" />
<rect x="1136.55" y="1215.10" width="4.90" height="31.40" fill="#a0cfdb" />
<rect x="1150.70" y="1232.10" width="4.90" height="14.40" fill="#a0cfdb" />
<rect x="1164.85" y="1221.50" width="4.90" height="25.00" fill="#a0cfdb" />
<rect x="1179.00" y="1215.10" width="4.90" height="31.40" fill="#a0cfdb" />
<rect x="1193.15" y="1230.30" width="4.90" height="16.20" fill="#a0cfdb" />
<rect x="1207.30" y="1244.40" width="4.90" height="2.10" fill="#a0cfdb" />
<rect x="1221.45" y="1241.30" width="4.90" height="5.20" fill="#a0cfdb" />
<polyline points="981.3,943.8 984.4,949.5 987.6,955.1 990.7,960.6 993.8,966.1 997.0,971.4 1000.1,976.7 1003.3,981.9 1006.4,987.0 1009.5,992.0 1012.7,997.0 1015.8,1001.9 1018.9,1006.7 1022.1,1011.5 1025.2,1016.3 1028.4,1021.0 1031.5,1025.6 1034.6,1030.2 1037.8,1034.7 1040.9,1039.2 1044.0,1043.6 1047.2,1048.0 1050.3,1052.4 1053.5,1056.7 1056.6,1061.0 1059.7,1065.2 1062.9,1069.5 1066.0,1073.7 1069.1,1077.8 1072.3,1081.9 1075.4,1086.0 1078.5,1090.1 1081.7,1094.2 1084.8,1098.2 1088.0,1102.2 1091.1,1106.1 1094.2,1110.0 1097.4,1114.0 1100.5,1117.8 1103.6,1121.7 1106.8,1125.5 1109.9,1129.3 1113.1,1133.1 1116.2,1136.8 1119.3,1140.6 1122.5,1144.2 1125.6,1147.9 1128.7,1151.5 1131.9,1155.1 1135.0,1158.7 1138.2,1162.2 1141.3,1165.7 1144.4,1169.1 1147.6,1172.5 1150.7,1175.9 1153.8,1179.2 1157.0,1182.5 1160.1,1185.7 1163.3,1188.9 1166.4,1192.0 1169.5,1195.1 1172.7,1198.1 1175.8,1201.1 1178.9,1203.9 1182.1,1206.8 1185.2,1209.5 1188.3,1212.2 1191.5,1214.8 1194.6,1217.3 1197.8,1219.7 1200.9,1222.1 1204.0,1224.4 1207.2,1226.5 1210.3,1228.6 1213.4,1230.6 1216.6,1232.4 1219.7,1234.2 1222.9,1235.8 1226.0,1237.3 1229.1,1238.7 1232.3,1240.0 1235.4,1241.1 1238.5,1242.1 1241.7,1243.0 1244.8,1243.7 1248.0,1244.2 1251.1,1244.6 1254.2,1244.8 1257.4,1244.9 1260.5,1244.9" fill="none" stroke="#e6821f" stroke-width="4.6" stroke-linejoin="round" stroke-linecap="round"/>
<polyline points="981.3,814.5 983.9,825.1 986.5,835.5 989.1,845.7 991.7,855.8 994.3,865.7 996.9,875.4 999.5,884.9 1002.1,894.2 1004.7,903.4 1007.3,912.4 1009.9,921.3 1012.5,930.0 1015.1,938.6 1017.7,947.0 1020.4,955.3 1023.0,963.4 1025.6,971.4 1028.2,979.2 1030.8,986.9 1033.4,994.5 1036.0,1001.9 1038.6,1009.2 1041.2,1016.4 1043.8,1023.5 1046.4,1030.4 1049.0,1037.2 1051.6,1043.9 1054.2,1050.5 1056.8,1056.9 1059.4,1063.3 1062.0,1069.5 1064.6,1075.7 1067.2,1081.7 1069.8,1087.6 1072.4,1093.4 1075.0,1099.1 1077.6,1104.7 1080.2,1110.1 1082.8,1115.5 1085.4,1120.8 1088.0,1126.0 1090.6,1131.0 1093.2,1136.0 1095.8,1140.9 1098.5,1145.6 1101.1,1150.3 1103.7,1154.9 1106.3,1159.3 1108.9,1163.7 1111.5,1167.9 1114.1,1172.1 1116.7,1176.2 1119.3,1180.1 1121.9,1184.0 1124.5,1187.7 1127.1,1191.4 1129.7,1194.9 1132.3,1198.4 1134.9,1201.7 1137.5,1204.9 1140.1,1208.0 1142.7,1211.0 1145.3,1213.9 1147.9,1216.7 1150.5,1219.4 1153.1,1221.9 1155.7,1224.4 1158.3,1226.7 1160.9,1228.9 1163.5,1231.0 1166.1,1232.9 1168.7,1234.8 1171.3,1236.5 1173.9,1238.0 1176.6,1239.5 1179.2,1240.8 1181.8,1241.9 1184.4,1242.9 1187.0,1243.8 1189.6,1244.6 1192.2,1245.1 1194.8,1245.6 1197.4,1245.8 1200.0,1246.0 1202.6,1246.0 1205.2,1246.0 1207.8,1246.0 1210.4,1246.0 1213.0,1246.0" fill="none" stroke="#3f9db2" stroke-width="4.6" stroke-linejoin="round" stroke-linecap="round"/>
<line x1="960.20" y1="777.30" x2="960.20" y2="1249.00" stroke="#3d3d3d" stroke-width="3.5" />
<line x1="958.50" y1="1247.30" x2="1308.50" y2="1247.30" stroke="#3d3d3d" stroke-width="3.5" />
<text x="948.50" y="794.30" font-family="'DejaVu Sans', sans-serif" font-size="27.5" fill="#3d3d3d" text-anchor="end" font-weight="normal" >0.020</text>
<text x="948.50" y="910.20" font-family="'DejaVu Sans', sans-serif" font-size="27.5" fill="#3d3d3d" text-anchor="end" font-weight="normal" >0.015</text>
<text x="948.50" y="1026.00" font-family="'DejaVu Sans', sans-serif" font-size="27.5" fill="#3d3d3d" text-anchor="end" font-weight="normal" >0.010</text>
<text x="948.50" y="1142.00" font-family="'DejaVu Sans', sans-serif" font-size="27.5" fill="#3d3d3d" text-anchor="end" font-weight="normal" >0.005</text>
<text x="948.50" y="1257.90" font-family="'DejaVu Sans', sans-serif" font-size="27.5" fill="#3d3d3d" text-anchor="end" font-weight="normal" >0.000</text>
<text x="1109.60" y="1289.40" font-family="'DejaVu Sans', sans-serif" font-size="27.5" fill="#3d3d3d" text-anchor="middle" font-weight="normal" >100</text>
<text x="1259.00" y="1289.40" font-family="'DejaVu Sans', sans-serif" font-size="27.5" fill="#3d3d3d" text-anchor="middle" font-weight="normal" >200</text>
<text x="853.00" y="1012.60" font-family="'DejaVu Sans', sans-serif" font-size="33.5" fill="#3d3d3d" text-anchor="middle" font-weight="normal" transform="rotate(-90 853.00 1012.60)" >Prob.</text>
<text x="1118.10" y="1336.10" font-family="'DejaVu Sans', sans-serif" font-size="33.6" fill="#3d3d3d" text-anchor="middle" font-weight="normal" >Replay stepsize</text>
<line x1="1163.00" y1="903.40" x2="1163.00" y2="1114.00" stroke="#3d3d3d" stroke-width="3.2" />
<line x1="1161.40" y1="1112.40" x2="1370.00" y2="1112.40" stroke="#3d3d3d" stroke-width="3.2" />
<text x="1151.30" y="1008.80" font-family="'DejaVu Sans', sans-serif" font-size="22.5" fill="#3d3d3d" text-anchor="middle" font-weight="normal" transform="rotate(-90 1151.30 1008.80)" >Stepsize (log)</text>
<text x="1265.20" y="1136.50" font-family="'DejaVu Sans', sans-serif" font-size="22.6" fill="#3d3d3d" text-anchor="middle" font-weight="normal" >time bin (log)</text>
<line x1="1151.90" y1="844.90" x2="1188.50" y2="844.90" stroke="#e6821f" stroke-width="5.5" stroke-dasharray="5.2 5.1"/>
<line x1="1151.90" y1="871.00" x2="1188.50" y2="871.00" stroke="#3f9db2" stroke-width="5.5" stroke-dasharray="5.2 5.1"/>
<text x="1201.50" y="850.90" font-family="'DejaVu Sans', sans-serif" font-size="18.1" fill="#3d3d3d" text-anchor="start" font-weight="normal" >awake slope = 0.70</text>
<text x="1201.50" y="877.70" font-family="'DejaVu Sans', sans-serif" font-size="18.1" fill="#3d3d3d" text-anchor="start" font-weight="normal" >sleep slope = 0.54</text>
<line x1="1171.70" y1="1103.40" x2="1359.20" y2="915.40" stroke="#e6821f" stroke-width="5.3" stroke-dasharray="5.3 5.1"/>
<line x1="1171.80" y1="1063.40" x2="1358.00" y2="921.50" stroke="#3f9db2" stroke-width="5.3" stroke-dasharray="5.3 5.1"/>
<circle cx="1171.60" cy="1087.00" r="5.3" fill="rgba(240,160,80,0.55)" stroke="rgba(90,90,90,0.65)" stroke-width="1.6" />
<circle cx="1171.60" cy="1049.80" r="5.3" fill="rgba(110,185,205,0.6)" stroke="rgba(90,90,90,0.65)" stroke-width="1.6" />
<circle cx="1215.61" cy="1063.70" r="5.3" fill="rgba(240,160,80,0.55)" stroke="rgba(90,90,90,0.65)" stroke-width="1.6" />
<circle cx="1215.61" cy="1030.20" r="5.3" fill="rgba(110,185,205,0.6)" stroke="rgba(90,90,90,0.65)" stroke-width="1.6" />
<circle cx="1241.36" cy="1037.50" r="5.3" fill="rgba(240,160,80,0.55)" stroke="rgba(90,90,90,0.65)" stroke-width="1.6" />
<circle cx="1241.36" cy="1015.00" r="5.3" fill="rgba(110,185,205,0.6)" stroke="rgba(90,90,90,0.65)" stroke-width="1.6" />
<circle cx="1259.62" cy="1021.00" r="5.3" fill="rgba(240,160,80,0.55)" stroke="rgba(90,90,90,0.65)" stroke-width="1.6" />
<circle cx="1259.62" cy="1000.90" r="5.3" fill="rgba(110,185,205,0.6)" stroke="rgba(90,90,90,0.65)" stroke-width="1.6" />
<circle cx="1273.79" cy="1010.90" r="5.3" fill="rgba(240,160,80,0.55)" stroke="rgba(90,90,90,0.65)" stroke-width="1.6" />
<circle cx="1273.79" cy="994.00" r="5.3" fill="rgba(110,185,205,0.6)" stroke="rgba(90,90,90,0.65)" stroke-width="1.6" />
<circle cx="1285.37" cy="995.20" r="5.3" fill="rgba(240,160,80,0.55)" stroke="rgba(90,90,90,0.65)" stroke-width="1.6" />
<circle cx="1285.37" cy="978.30" r="5.3" fill="rgba(110,185,205,0.6)" stroke="rgba(90,90,90,0.65)" stroke-width="1.6" />
<circle cx="1295.15" cy="981.90" r="5.3" fill="rgba(240,160,80,0.55)" stroke="rgba(90,90,90,0.65)" stroke-width="1.6" />
<circle cx="1295.15" cy="974.60" r="5.3" fill="rgba(110,185,205,0.6)" stroke="rgba(90,90,90,0.65)" stroke-width="1.6" />
<circle cx="1303.63" cy="979.50" r="5.3" fill="rgba(240,160,80,0.55)" stroke="rgba(90,90,90,0.65)" stroke-width="1.6" />
<circle cx="1303.63" cy="964.50" r="5.3" fill="rgba(110,185,205,0.6)" stroke="rgba(90,90,90,0.65)" stroke-width="1.6" />
<circle cx="1311.11" cy="970.00" r="5.3" fill="rgba(240,160,80,0.55)" stroke="rgba(90,90,90,0.65)" stroke-width="1.6" />
<circle cx="1311.11" cy="958.90" r="5.3" fill="rgba(110,185,205,0.6)" stroke="rgba(90,90,90,0.65)" stroke-width="1.6" />
<circle cx="1317.80" cy="965.00" r="5.3" fill="rgba(240,160,80,0.55)" stroke="rgba(90,90,90,0.65)" stroke-width="1.6" />
<circle cx="1317.80" cy="954.10" r="5.3" fill="rgba(110,185,205,0.6)" stroke="rgba(90,90,90,0.65)" stroke-width="1.6" />
<circle cx="1323.85" cy="954.10" r="5.3" fill="rgba(240,160,80,0.55)" stroke="rgba(90,90,90,0.65)" stroke-width="1.6" />
<circle cx="1323.85" cy="944.40" r="5.3" fill="rgba(110,185,205,0.6)" stroke="rgba(90,90,90,0.65)" stroke-width="1.6" />
<circle cx="1329.38" cy="950.00" r="5.3" fill="rgba(240,160,80,0.55)" stroke="rgba(90,90,90,0.65)" stroke-width="1.6" />
<circle cx="1329.38" cy="941.00" r="5.3" fill="rgba(110,185,205,0.6)" stroke="rgba(90,90,90,0.65)" stroke-width="1.6" />
<circle cx="1334.46" cy="943.00" r="5.3" fill="rgba(240,160,80,0.55)" stroke="rgba(90,90,90,0.65)" stroke-width="1.6" />
<circle cx="1334.46" cy="936.00" r="5.3" fill="rgba(110,185,205,0.6)" stroke="rgba(90,90,90,0.65)" stroke-width="1.6" />
<circle cx="1339.16" cy="938.00" r="5.3" fill="rgba(240,160,80,0.55)" stroke="rgba(90,90,90,0.65)" stroke-width="1.6" />
<circle cx="1339.16" cy="932.00" r="5.3" fill="rgba(110,185,205,0.6)" stroke="rgba(90,90,90,0.65)" stroke-width="1.6" />
<circle cx="1343.54" cy="933.00" r="5.3" fill="rgba(240,160,80,0.55)" stroke="rgba(90,90,90,0.65)" stroke-width="1.6" />
<circle cx="1343.54" cy="927.00" r="5.3" fill="rgba(110,185,205,0.6)" stroke="rgba(90,90,90,0.65)" stroke-width="1.6" />
<circle cx="1347.64" cy="927.00" r="5.3" fill="rgba(240,160,80,0.55)" stroke="rgba(90,90,90,0.65)" stroke-width="1.6" />
<circle cx="1347.64" cy="924.00" r="5.3" fill="rgba(110,185,205,0.6)" stroke="rgba(90,90,90,0.65)" stroke-width="1.6" />
<circle cx="1351.49" cy="922.00" r="5.3" fill="rgba(240,160,80,0.55)" stroke="rgba(90,90,90,0.65)" stroke-width="1.6" />
<circle cx="1351.49" cy="920.00" r="5.3" fill="rgba(110,185,205,0.6)" stroke="rgba(90,90,90,0.65)" stroke-width="1.6" />
<circle cx="1355.12" cy="918.00" r="5.3" fill="rgba(240,160,80,0.55)" stroke="rgba(90,90,90,0.65)" stroke-width="1.6" />
<circle cx="1355.12" cy="917.00" r="5.3" fill="rgba(110,185,205,0.6)" stroke="rgba(90,90,90,0.65)" stroke-width="1.6" />
<circle cx="1358.55" cy="914.50" r="5.3" fill="rgba(240,160,80,0.55)" stroke="rgba(90,90,90,0.65)" stroke-width="1.6" />
<circle cx="1358.55" cy="914.00" r="5.3" fill="rgba(110,185,205,0.6)" stroke="rgba(90,90,90,0.65)" stroke-width="1.6" />
<text x="1446.50" y="691.30" font-family="'Liberation Sans', Arial, sans-serif" font-size="48" fill="#111" text-anchor="start" font-weight="bold" >e</text>
<text x="1749.50" y="711.20" font-family="'Liberation Sans', Arial, sans-serif" font-size="34.4" fill="#111" text-anchor="middle" font-weight="normal" >acoss all animals</text>
<text x="1770.20" y="759.20" font-family="'DejaVu Sans', sans-serif" font-size="25" fill="#111" text-anchor="middle" font-weight="normal" >p=4.6e-04</text>
<text x="1770.20" y="789.90" font-family="'DejaVu Sans', sans-serif" font-size="31" fill="#111" text-anchor="middle" font-weight="normal" >***</text>
<line x1="1665.60" y1="789.50" x2="1875.00" y2="789.50" stroke="#111" stroke-width="3" />
<line x1="1565.00" y1="757.70" x2="1565.00" y2="1249.00" stroke="#111" stroke-width="3.5" />
<line x1="1563.30" y1="1247.30" x2="1977.00" y2="1247.30" stroke="#111" stroke-width="3.5" />
<line x1="1558.00" y1="819.40" x2="1565.00" y2="819.40" stroke="#111" stroke-width="3" />
<text x="1547.50" y="828.70" font-family="'DejaVu Sans', sans-serif" font-size="25.6" fill="#111" text-anchor="end" font-weight="normal" >1.1</text>
<line x1="1558.00" y1="941.50" x2="1565.00" y2="941.50" stroke="#111" stroke-width="3" />
<text x="1547.50" y="950.80" font-family="'DejaVu Sans', sans-serif" font-size="25.6" fill="#111" text-anchor="end" font-weight="normal" >0.9</text>
<line x1="1558.00" y1="1063.60" x2="1565.00" y2="1063.60" stroke="#111" stroke-width="3" />
<text x="1547.50" y="1072.90" font-family="'DejaVu Sans', sans-serif" font-size="25.6" fill="#111" text-anchor="end" font-weight="normal" >0.7</text>
<line x1="1558.00" y1="1185.70" x2="1565.00" y2="1185.70" stroke="#111" stroke-width="3" />
<text x="1547.50" y="1195.00" font-family="'DejaVu Sans', sans-serif" font-size="25.6" fill="#111" text-anchor="end" font-weight="normal" >0.5</text>
<line x1="1667.30" y1="1247.30" x2="1667.30" y2="1254.00" stroke="#111" stroke-width="3" />
<text x="1668.20" y="1286.50" font-family="'DejaVu Sans', sans-serif" font-size="31.4" fill="#111" text-anchor="middle" font-weight="normal" >Awake</text>
<line x1="1873.00" y1="1247.30" x2="1873.00" y2="1254.00" stroke="#111" stroke-width="3" />
<text x="1873.90" y="1286.50" font-family="'DejaVu Sans', sans-serif" font-size="31.4" fill="#111" text-anchor="middle" font-weight="normal" >Sleep</text>
<text x="1490.60" y="1001.00" font-family="'DejaVu Sans', sans-serif" font-size="31" fill="#111" text-anchor="middle" font-weight="normal" transform="rotate(-90 1490.60 1001.00)" >Replay diffusivity</text>
<line x1="1564.70" y1="1186.00" x2="1976.00" y2="1186.00" stroke="#dc2a1a" stroke-width="3.1" stroke-dasharray="11.3 5"/>
<circle cx="1665.60" cy="829.80" r="8.3" fill="rgba(240,150,20,0.6)" stroke="rgba(60,60,60,0.6)" stroke-width="1.7" />
<circle cx="1668.50" cy="907.40" r="8.3" fill="rgba(240,150,20,0.6)" stroke="rgba(60,60,60,0.6)" stroke-width="1.7" />
<circle cx="1673.80" cy="908.90" r="8.3" fill="rgba(240,150,20,0.6)" stroke="rgba(60,60,60,0.6)" stroke-width="1.7" />
<circle cx="1662.70" cy="922.00" r="8.3" fill="rgba(240,150,20,0.6)" stroke="rgba(60,60,60,0.6)" stroke-width="1.7" />
<circle cx="1652.60" cy="933.00" r="8.3" fill="rgba(240,150,20,0.6)" stroke="rgba(60,60,60,0.6)" stroke-width="1.7" />
<circle cx="1658.40" cy="933.60" r="8.3" fill="rgba(240,150,20,0.6)" stroke="rgba(60,60,60,0.6)" stroke-width="1.7" />
<circle cx="1689.80" cy="939.40" r="8.3" fill="rgba(240,150,20,0.6)" stroke="rgba(60,60,60,0.6)" stroke-width="1.7" />
<circle cx="1654.00" cy="962.70" r="8.3" fill="rgba(240,150,20,0.6)" stroke="rgba(60,60,60,0.6)" stroke-width="1.7" />
<circle cx="1675.80" cy="961.20" r="8.3" fill="rgba(240,150,20,0.6)" stroke="rgba(60,60,60,0.6)" stroke-width="1.7" />
<circle cx="1661.30" cy="971.40" r="8.3" fill="rgba(240,150,20,0.6)" stroke="rgba(60,60,60,0.6)" stroke-width="1.7" />
<circle cx="1652.00" cy="976.80" r="8.3" fill="rgba(240,150,20,0.6)" stroke="rgba(60,60,60,0.6)" stroke-width="1.7" />
<circle cx="1662.30" cy="973.40" r="8.3" fill="rgba(240,150,20,0.6)" stroke="rgba(60,60,60,0.6)" stroke-width="1.7" />
<circle cx="1669.20" cy="981.90" r="8.3" fill="rgba(240,150,20,0.6)" stroke="rgba(60,60,60,0.6)" stroke-width="1.7" />
<circle cx="1656.20" cy="995.60" r="8.3" fill="rgba(240,150,20,0.6)" stroke="rgba(60,60,60,0.6)" stroke-width="1.7" />
<circle cx="1681.00" cy="992.20" r="8.3" fill="rgba(240,150,20,0.6)" stroke="rgba(60,60,60,0.6)" stroke-width="1.7" />
<circle cx="1684.00" cy="993.00" r="8.3" fill="rgba(240,150,20,0.6)" stroke="rgba(60,60,60,0.6)" stroke-width="1.7" />
<circle cx="1643.50" cy="1002.40" r="8.3" fill="rgba(240,150,20,0.6)" stroke="rgba(60,60,60,0.6)" stroke-width="1.7" />
<circle cx="1675.30" cy="999.00" r="8.3" fill="rgba(240,150,20,0.6)" stroke="rgba(60,60,60,0.6)" stroke-width="1.7" />
<circle cx="1648.00" cy="1008.50" r="8.3" fill="rgba(240,150,20,0.6)" stroke="rgba(60,60,60,0.6)" stroke-width="1.7" />
<circle cx="1662.30" cy="1009.20" r="8.3" fill="rgba(240,150,20,0.6)" stroke="rgba(60,60,60,0.6)" stroke-width="1.7" />
<circle cx="1686.20" cy="1014.30" r="8.3" fill="rgba(240,150,20,0.6)" stroke="rgba(60,60,60,0.6)" stroke-width="1.7" />
<circle cx="1658.90" cy="1017.70" r="8.3" fill="rgba(240,150,20,0.6)" stroke="rgba(60,60,60,0.6)" stroke-width="1.7" />
<circle cx="1668.00" cy="1018.60" r="8.3" fill="rgba(240,150,20,0.6)" stroke="rgba(60,60,60,0.6)" stroke-width="1.7" />
<circle cx="1655.50" cy="1031.40" r="8.3" fill="rgba(240,150,20,0.6)" stroke="rgba(60,60,60,0.6)" stroke-width="1.7" />
<circle cx="1670.80" cy="1032.40" r="8.3" fill="rgba(240,150,20,0.6)" stroke="rgba(60,60,60,0.6)" stroke-width="1.7" />
<circle cx="1679.40" cy="1029.70" r="8.3" fill="rgba(240,150,20,0.6)" stroke="rgba(60,60,60,0.6)" stroke-width="1.7" />
<circle cx="1660.60" cy="1045.00" r="8.3" fill="rgba(240,150,20,0.6)" stroke="rgba(60,60,60,0.6)" stroke-width="1.7" />
<circle cx="1677.70" cy="1043.30" r="8.3" fill="rgba(240,150,20,0.6)" stroke="rgba(60,60,60,0.6)" stroke-width="1.7" />
<circle cx="1661.60" cy="1048.50" r="8.3" fill="rgba(240,150,20,0.6)" stroke="rgba(60,60,60,0.6)" stroke-width="1.7" />
<circle cx="1681.00" cy="1058.70" r="8.3" fill="rgba(240,150,20,0.6)" stroke="rgba(60,60,60,0.6)" stroke-width="1.7" />
<circle cx="1682.80" cy="1063.10" r="8.3" fill="rgba(240,150,20,0.6)" stroke="rgba(60,60,60,0.6)" stroke-width="1.7" />
<circle cx="1658.90" cy="1087.00" r="8.3" fill="rgba(240,150,20,0.6)" stroke="rgba(60,60,60,0.6)" stroke-width="1.7" />
<circle cx="1669.20" cy="1087.00" r="8.3" fill="rgba(240,150,20,0.6)" stroke="rgba(60,60,60,0.6)" stroke-width="1.7" />
<circle cx="1662.30" cy="1098.00" r="8.3" fill="rgba(240,150,20,0.6)" stroke="rgba(60,60,60,0.6)" stroke-width="1.7" />
<circle cx="1678.30" cy="1114.30" r="8.3" fill="rgba(240,150,20,0.6)" stroke="rgba(60,60,60,0.6)" stroke-width="1.7" />
<circle cx="1664.00" cy="1123.50" r="8.3" fill="rgba(240,150,20,0.6)" stroke="rgba(60,60,60,0.6)" stroke-width="1.7" />
<circle cx="1660.60" cy="1132.10" r="8.3" fill="rgba(240,150,20,0.6)" stroke="rgba(60,60,60,0.6)" stroke-width="1.7" />
<circle cx="1685.50" cy="1138.20" r="8.3" fill="rgba(240,150,20,0.6)" stroke="rgba(60,60,60,0.6)" stroke-width="1.7" />
<circle cx="1649.30" cy="1148.50" r="8.3" fill="rgba(240,150,20,0.6)" stroke="rgba(60,60,60,0.6)" stroke-width="1.7" />
<circle cx="1685.20" cy="1149.10" r="8.3" fill="rgba(240,150,20,0.6)" stroke="rgba(60,60,60,0.6)" stroke-width="1.7" />
<circle cx="1670.20" cy="1173.00" r="8.3" fill="rgba(240,150,20,0.6)" stroke="rgba(60,60,60,0.6)" stroke-width="1.7" />
<circle cx="1665.00" cy="1183.30" r="8.3" fill="rgba(240,150,20,0.6)" stroke="rgba(60,60,60,0.6)" stroke-width="1.7" />
<circle cx="1662.30" cy="1200.30" r="8.3" fill="rgba(240,150,20,0.6)" stroke="rgba(60,60,60,0.6)" stroke-width="1.7" />
<circle cx="1877.30" cy="907.50" r="8.3" fill="rgba(70,175,205,0.6)" stroke="rgba(60,60,60,0.6)" stroke-width="1.7" />
<circle cx="1874.60" cy="924.60" r="8.3" fill="rgba(70,175,205,0.6)" stroke="rgba(60,60,60,0.6)" stroke-width="1.7" />
<circle cx="1861.90" cy="958.70" r="8.3" fill="rgba(70,175,205,0.6)" stroke="rgba(60,60,60,0.6)" stroke-width="1.7" />
<circle cx="1870.50" cy="956.30" r="8.3" fill="rgba(70,175,205,0.6)" stroke="rgba(60,60,60,0.6)" stroke-width="1.7" />
<circle cx="1856.90" cy="970.00" r="8.3" fill="rgba(70,175,205,0.6)" stroke="rgba(60,60,60,0.6)" stroke-width="1.7" />
<circle cx="1865.40" cy="970.00" r="8.3" fill="rgba(70,175,205,0.6)" stroke="rgba(60,60,60,0.6)" stroke-width="1.7" />
<circle cx="1879.00" cy="968.30" r="8.3" fill="rgba(70,175,205,0.6)" stroke="rgba(60,60,60,0.6)" stroke-width="1.7" />
<circle cx="1881.40" cy="980.90" r="8.3" fill="rgba(70,175,205,0.6)" stroke="rgba(60,60,60,0.6)" stroke-width="1.7" />
<circle cx="1858.60" cy="994.90" r="8.3" fill="rgba(70,175,205,0.6)" stroke="rgba(60,60,60,0.6)" stroke-width="1.7" />
<circle cx="1873.90" cy="992.20" r="8.3" fill="rgba(70,175,205,0.6)" stroke="rgba(60,60,60,0.6)" stroke-width="1.7" />
<circle cx="1889.30" cy="1006.50" r="8.3" fill="rgba(70,175,205,0.6)" stroke="rgba(60,60,60,0.6)" stroke-width="1.7" />
<circle cx="1879.00" cy="1005.80" r="8.3" fill="rgba(70,175,205,0.6)" stroke="rgba(60,60,60,0.6)" stroke-width="1.7" />
<circle cx="1872.20" cy="1017.70" r="8.3" fill="rgba(70,175,205,0.6)" stroke="rgba(60,60,60,0.6)" stroke-width="1.7" />
<circle cx="1884.10" cy="1016.00" r="8.3" fill="rgba(70,175,205,0.6)" stroke="rgba(60,60,60,0.6)" stroke-width="1.7" />
<circle cx="1867.00" cy="1031.40" r="8.3" fill="rgba(70,175,205,0.6)" stroke="rgba(60,60,60,0.6)" stroke-width="1.7" />
<circle cx="1885.90" cy="1028.00" r="8.3" fill="rgba(70,175,205,0.6)" stroke="rgba(60,60,60,0.6)" stroke-width="1.7" />
<circle cx="1884.10" cy="1039.90" r="8.3" fill="rgba(70,175,205,0.6)" stroke="rgba(60,60,60,0.6)" stroke-width="1.7" />
<circle cx="1854.00" cy="1052.90" r="8.3" fill="rgba(70,175,205,0.6)" stroke="rgba(60,60,60,0.6)" stroke-width="1.7" />
<circle cx="1876.60" cy="1060.40" r="8.3" fill="rgba(70,175,205,0.6)" stroke="rgba(60,60,60,0.6)" stroke-width="1.7" />
<circle cx="1874.00" cy="1064.00" r="8.3" fill="rgba(70,175,205,0.6)" stroke="rgba(60,60,60,0.6)" stroke-width="1.7" />
<circle cx="1860.30" cy="1070.00" r="8.3" fill="rgba(70,175,205,0.6)" stroke="rgba(60,60,60,0.6)" stroke-width="1.7" />
<circle cx="1867.00" cy="1072.40" r="8.3" fill="rgba(70,175,205,0.6)" stroke="rgba(60,60,60,0.6)" stroke-width="1.7" />
<circle cx="1867.00" cy="1091.10" r="8.3" fill="rgba(70,175,205,0.6)" stroke="rgba(60,60,60,0.6)" stroke-width="1.7" />
<circle cx="1885.90" cy="1093.90" r="8.3" fill="rgba(70,175,205,0.6)" stroke="rgba(60,60,60,0.6)" stroke-width="1.7" />
<circle cx="1873.90" cy="1108.20" r="8.3" fill="rgba(70,175,205,0.6)" stroke="rgba(60,60,60,0.6)" stroke-width="1.7" />
<circle cx="1850.00" cy="1113.30" r="8.3" fill="rgba(70,175,205,0.6)" stroke="rgba(60,60,60,0.6)" stroke-width="1.7" />
<circle cx="1855.10" cy="1115.70" r="8.3" fill="rgba(70,175,205,0.6)" stroke="rgba(60,60,60,0.6)" stroke-width="1.7" />
<circle cx="1863.70" cy="1108.20" r="8.3" fill="rgba(70,175,205,0.6)" stroke="rgba(60,60,60,0.6)" stroke-width="1.7" />
<circle cx="1872.20" cy="1116.70" r="8.3" fill="rgba(70,175,205,0.6)" stroke="rgba(60,60,60,0.6)" stroke-width="1.7" />
<circle cx="1860.30" cy="1133.80" r="8.3" fill="rgba(70,175,205,0.6)" stroke="rgba(60,60,60,0.6)" stroke-width="1.7" />
<circle cx="1873.20" cy="1132.80" r="8.3" fill="rgba(70,175,205,0.6)" stroke="rgba(60,60,60,0.6)" stroke-width="1.7" />
<circle cx="1882.40" cy="1142.30" r="8.3" fill="rgba(70,175,205,0.6)" stroke="rgba(60,60,60,0.6)" stroke-width="1.7" />
<circle cx="1873.90" cy="1152.50" r="8.3" fill="rgba(70,175,205,0.6)" stroke="rgba(60,60,60,0.6)" stroke-width="1.7" />
<circle cx="1863.70" cy="1157.70" r="8.3" fill="rgba(70,175,205,0.6)" stroke="rgba(60,60,60,0.6)" stroke-width="1.7" />
<circle cx="1877.30" cy="1159.40" r="8.3" fill="rgba(70,175,205,0.6)" stroke="rgba(60,60,60,0.6)" stroke-width="1.7" />
<circle cx="1853.40" cy="1171.30" r="8.3" fill="rgba(70,175,205,0.6)" stroke="rgba(60,60,60,0.6)" stroke-width="1.7" />
<circle cx="1863.70" cy="1169.60" r="8.3" fill="rgba(70,175,205,0.6)" stroke="rgba(60,60,60,0.6)" stroke-width="1.7" />
<circle cx="1892.70" cy="1169.60" r="8.3" fill="rgba(70,175,205,0.6)" stroke="rgba(60,60,60,0.6)" stroke-width="1.7" />
<circle cx="1873.90" cy="1173.00" r="8.3" fill="rgba(70,175,205,0.6)" stroke="rgba(60,60,60,0.6)" stroke-width="1.7" />
<circle cx="1887.60" cy="1176.50" r="8.3" fill="rgba(70,175,205,0.6)" stroke="rgba(60,60,60,0.6)" stroke-width="1.7" />
<circle cx="1868.00" cy="1165.00" r="8.3" fill="rgba(70,175,205,0.6)" stroke="rgba(60,60,60,0.6)" stroke-width="1.7" />
<circle cx="1880.00" cy="1145.00" r="8.3" fill="rgba(70,175,205,0.6)" stroke="rgba(60,60,60,0.6)" stroke-width="1.7" />
<circle cx="1858.00" cy="1150.00" r="8.3" fill="rgba(70,175,205,0.6)" stroke="rgba(60,60,60,0.6)" stroke-width="1.7" />
<path d="M1665.6,829.8L1873.9,1173.0M1668.5,907.4L1861.9,958.7M1673.8,908.9L1863.7,1169.6M1662.7,922.0L1850.0,1113.3M1652.6,933.0L1872.2,1116.7M1658.4,933.6L1858.0,1150.0M1689.8,939.4L1856.9,970.0M1675.8,961.2L1882.4,1142.3M1654.0,962.7L1884.1,1039.9M1661.3,971.4L1887.6,1176.5M1662.3,973.4L1877.3,1159.4M1652.0,976.8L1873.9,1108.2M1669.2,981.9L1863.7,1108.2M1681.0,992.2L1867.0,1031.4M1684.0,993.0L1873.9,992.2M1656.2,995.6L1876.6,1060.4M1675.3,999.0L1863.7,1157.7M1643.5,1002.4L1860.3,1070.0M1648.0,1008.5L1868.0,1165.0M1662.3,1009.2L1874.0,1064.0M1686.2,1014.3L1885.9,1093.9M1658.9,1017.7L1892.7,1169.6M1668.0,1018.6L1880.0,1145.0M1679.4,1029.7L1879.0,1005.8M1655.5,1031.4L1885.9,1028.0M1670.8,1032.4L1873.2,1132.8M1677.7,1043.3L1853.4,1171.3M1660.6,1045.0L1884.1,1016.0M1661.6,1048.5L1889.3,1006.5M1681.0,1058.7L1873.9,1152.5M1682.8,1063.1L1865.4,970.0M1658.9,1087.0L1881.4,980.9M1669.2,1087.0L1860.3,1133.8M1662.3,1098.0L1867.0,1091.1M1678.3,1114.3L1872.2,1017.7M1664.0,1123.5L1867.0,1072.4M1660.6,1132.1L1877.3,907.5M1685.5,1138.2L1855.1,1115.7M1649.3,1148.5L1870.5,956.3M1685.2,1149.1L1874.6,924.6M1670.2,1173.0L1858.6,994.9M1665.0,1183.3L1854.0,1052.9M1662.3,1200.3L1879.0,968.3" stroke="rgba(0,0,0,0.5)" stroke-width="1.3" fill="none" />
<rect x="1615.20" y="978.20" width="104.50" height="83.90" fill="none" stroke="#111" stroke-width="3.5"/>
<line x1="1667.10" y1="908.50" x2="1667.10" y2="978.20" stroke="#111" stroke-width="3.5" />
<line x1="1667.10" y1="1062.10" x2="1667.10" y2="1183.30" stroke="#111" stroke-width="3.5" />
<line x1="1640.10" y1="908.50" x2="1694.70" y2="908.50" stroke="#111" stroke-width="3.5" />
<line x1="1640.10" y1="1183.30" x2="1694.70" y2="1183.30" stroke="#111" stroke-width="3.5" />
<line x1="1612.80" y1="1017.70" x2="1722.00" y2="1017.70" stroke="#ee900a" stroke-width="6.8" />
<rect x="1821.70" y="1006.80" width="103.40" height="135.50" fill="none" stroke="#111" stroke-width="3.5"/>
<line x1="1872.60" y1="908.50" x2="1872.60" y2="1006.80" stroke="#111" stroke-width="3.5" />
<line x1="1872.60" y1="1142.30" x2="1872.60" y2="1178.20" stroke="#111" stroke-width="3.5" />
<line x1="1846.60" y1="908.50" x2="1900.50" y2="908.50" stroke="#111" stroke-width="3.5" />
<line x1="1846.60" y1="1178.20" x2="1900.50" y2="1178.20" stroke="#111" stroke-width="3.5" />
<line x1="1819.30" y1="1074.00" x2="1927.40" y2="1074.00" stroke="#38a6c0" stroke-width="6.8" />
</svg>
</body></html>
